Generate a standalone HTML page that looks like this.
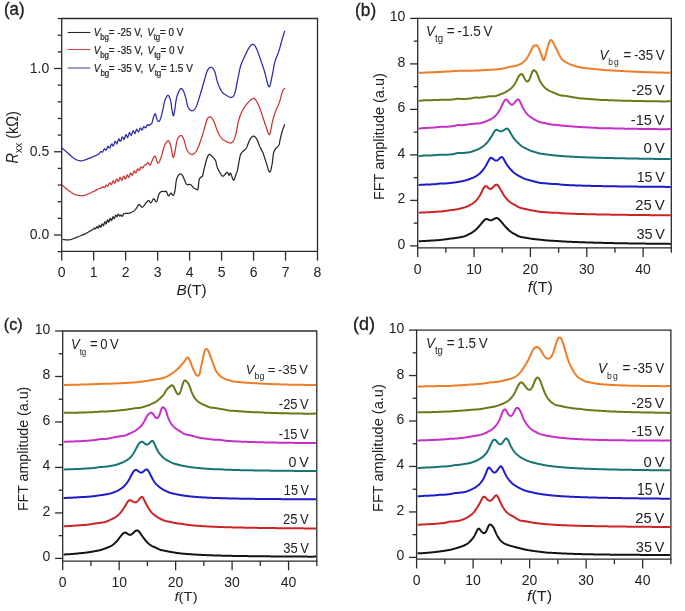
<!DOCTYPE html>
<html><head><meta charset="utf-8"><style>
html,body{margin:0;padding:0;background:#fff;}
svg{display:block;font-family:"Liberation Sans", sans-serif;fill:#1a1a1a;will-change:transform;}
text.pl{stroke:#111;stroke-width:0.3px;} text.lg{stroke:#222;stroke-width:0.2px;} text{fill:#222;}
</style></head><body>
<svg width="685" height="611" viewBox="0 0 685 611">
<rect width="685" height="611" fill="#fff"/>
<path d="M61.70,251.40 L61.70,18.50 L317.50,18.50 L317.50,251.40 Z" fill="none" stroke="#2b2b2b" stroke-width="1.3" stroke-linejoin="miter"/>
<line x1="57.70" y1="251.65" x2="61.70" y2="251.65" stroke="#2b2b2b" stroke-width="1.3"/>
<line x1="54.10" y1="235.00" x2="61.70" y2="235.00" stroke="#2b2b2b" stroke-width="1.3"/>
<line x1="57.70" y1="218.35" x2="61.70" y2="218.35" stroke="#2b2b2b" stroke-width="1.3"/>
<line x1="57.70" y1="201.70" x2="61.70" y2="201.70" stroke="#2b2b2b" stroke-width="1.3"/>
<line x1="57.70" y1="185.05" x2="61.70" y2="185.05" stroke="#2b2b2b" stroke-width="1.3"/>
<line x1="57.70" y1="168.40" x2="61.70" y2="168.40" stroke="#2b2b2b" stroke-width="1.3"/>
<line x1="54.10" y1="151.75" x2="61.70" y2="151.75" stroke="#2b2b2b" stroke-width="1.3"/>
<line x1="57.70" y1="135.10" x2="61.70" y2="135.10" stroke="#2b2b2b" stroke-width="1.3"/>
<line x1="57.70" y1="118.45" x2="61.70" y2="118.45" stroke="#2b2b2b" stroke-width="1.3"/>
<line x1="57.70" y1="101.80" x2="61.70" y2="101.80" stroke="#2b2b2b" stroke-width="1.3"/>
<line x1="57.70" y1="85.15" x2="61.70" y2="85.15" stroke="#2b2b2b" stroke-width="1.3"/>
<line x1="54.10" y1="68.50" x2="61.70" y2="68.50" stroke="#2b2b2b" stroke-width="1.3"/>
<line x1="57.70" y1="51.85" x2="61.70" y2="51.85" stroke="#2b2b2b" stroke-width="1.3"/>
<line x1="57.70" y1="35.20" x2="61.70" y2="35.20" stroke="#2b2b2b" stroke-width="1.3"/>
<line x1="57.70" y1="18.55" x2="61.70" y2="18.55" stroke="#2b2b2b" stroke-width="1.3"/>
<text x="49.30" y="239.00" font-size="14" text-anchor="end" >0.0</text>
<text x="49.30" y="155.75" font-size="14" text-anchor="end" >0.5</text>
<text x="49.30" y="72.50" font-size="14" text-anchor="end" >1.0</text>
<line x1="61.70" y1="251.40" x2="61.70" y2="260.60" stroke="#2b2b2b" stroke-width="1.3"/>
<text x="61.70" y="277.30" font-size="14" text-anchor="middle" >0</text>
<line x1="93.68" y1="251.40" x2="93.68" y2="260.60" stroke="#2b2b2b" stroke-width="1.3"/>
<text x="93.68" y="277.30" font-size="14" text-anchor="middle" >1</text>
<line x1="125.65" y1="251.40" x2="125.65" y2="260.60" stroke="#2b2b2b" stroke-width="1.3"/>
<text x="125.65" y="277.30" font-size="14" text-anchor="middle" >2</text>
<line x1="157.62" y1="251.40" x2="157.62" y2="260.60" stroke="#2b2b2b" stroke-width="1.3"/>
<text x="157.62" y="277.30" font-size="14" text-anchor="middle" >3</text>
<line x1="189.60" y1="251.40" x2="189.60" y2="260.60" stroke="#2b2b2b" stroke-width="1.3"/>
<text x="189.60" y="277.30" font-size="14" text-anchor="middle" >4</text>
<line x1="221.57" y1="251.40" x2="221.57" y2="260.60" stroke="#2b2b2b" stroke-width="1.3"/>
<text x="221.57" y="277.30" font-size="14" text-anchor="middle" >5</text>
<line x1="253.55" y1="251.40" x2="253.55" y2="260.60" stroke="#2b2b2b" stroke-width="1.3"/>
<text x="253.55" y="277.30" font-size="14" text-anchor="middle" >6</text>
<line x1="285.53" y1="251.40" x2="285.53" y2="260.60" stroke="#2b2b2b" stroke-width="1.3"/>
<text x="285.53" y="277.30" font-size="14" text-anchor="middle" >7</text>
<line x1="317.50" y1="251.40" x2="317.50" y2="260.60" stroke="#2b2b2b" stroke-width="1.3"/>
<text x="317.50" y="277.30" font-size="14" text-anchor="middle" >8</text>
<path d="M417.70,247.80 L417.70,18.40 L671.30,18.40 L671.30,247.80 Z" fill="none" stroke="#2b2b2b" stroke-width="1.3" stroke-linejoin="miter"/>
<line x1="410.10" y1="245.90" x2="417.70" y2="245.90" stroke="#2b2b2b" stroke-width="1.3"/>
<text x="405.40" y="248.90" font-size="14" text-anchor="end" >0</text>
<line x1="413.70" y1="223.15" x2="417.70" y2="223.15" stroke="#2b2b2b" stroke-width="1.3"/>
<line x1="410.10" y1="200.40" x2="417.70" y2="200.40" stroke="#2b2b2b" stroke-width="1.3"/>
<text x="405.40" y="203.40" font-size="14" text-anchor="end" >2</text>
<line x1="413.70" y1="177.65" x2="417.70" y2="177.65" stroke="#2b2b2b" stroke-width="1.3"/>
<line x1="410.10" y1="154.90" x2="417.70" y2="154.90" stroke="#2b2b2b" stroke-width="1.3"/>
<text x="405.40" y="157.90" font-size="14" text-anchor="end" >4</text>
<line x1="413.70" y1="132.15" x2="417.70" y2="132.15" stroke="#2b2b2b" stroke-width="1.3"/>
<line x1="410.10" y1="109.40" x2="417.70" y2="109.40" stroke="#2b2b2b" stroke-width="1.3"/>
<text x="405.40" y="112.40" font-size="14" text-anchor="end" >6</text>
<line x1="413.70" y1="86.65" x2="417.70" y2="86.65" stroke="#2b2b2b" stroke-width="1.3"/>
<line x1="410.10" y1="63.90" x2="417.70" y2="63.90" stroke="#2b2b2b" stroke-width="1.3"/>
<text x="405.40" y="66.90" font-size="14" text-anchor="end" >8</text>
<line x1="413.70" y1="41.15" x2="417.70" y2="41.15" stroke="#2b2b2b" stroke-width="1.3"/>
<line x1="410.10" y1="18.40" x2="417.70" y2="18.40" stroke="#2b2b2b" stroke-width="1.3"/>
<text x="405.40" y="21.40" font-size="14" text-anchor="end" >10</text>
<line x1="417.70" y1="247.80" x2="417.70" y2="257.00" stroke="#2b2b2b" stroke-width="1.3"/>
<text x="417.70" y="273.60" font-size="14" text-anchor="middle" >0</text>
<line x1="445.88" y1="247.80" x2="445.88" y2="252.80" stroke="#2b2b2b" stroke-width="1.3"/>
<line x1="474.06" y1="247.80" x2="474.06" y2="257.00" stroke="#2b2b2b" stroke-width="1.3"/>
<text x="474.06" y="273.60" font-size="14" text-anchor="middle" >10</text>
<line x1="502.23" y1="247.80" x2="502.23" y2="252.80" stroke="#2b2b2b" stroke-width="1.3"/>
<line x1="530.41" y1="247.80" x2="530.41" y2="257.00" stroke="#2b2b2b" stroke-width="1.3"/>
<text x="530.41" y="273.60" font-size="14" text-anchor="middle" >20</text>
<line x1="558.59" y1="247.80" x2="558.59" y2="252.80" stroke="#2b2b2b" stroke-width="1.3"/>
<line x1="586.77" y1="247.80" x2="586.77" y2="257.00" stroke="#2b2b2b" stroke-width="1.3"/>
<text x="586.77" y="273.60" font-size="14" text-anchor="middle" >30</text>
<line x1="614.94" y1="247.80" x2="614.94" y2="252.80" stroke="#2b2b2b" stroke-width="1.3"/>
<line x1="643.12" y1="247.80" x2="643.12" y2="257.00" stroke="#2b2b2b" stroke-width="1.3"/>
<text x="643.12" y="273.60" font-size="14" text-anchor="middle" >40</text>
<line x1="671.30" y1="247.80" x2="671.30" y2="252.80" stroke="#2b2b2b" stroke-width="1.3"/>
<path d="M62.70,561.10 L62.70,331.00 L316.80,331.00 L316.80,561.10 Z" fill="none" stroke="#2b2b2b" stroke-width="1.3" stroke-linejoin="miter"/>
<line x1="55.10" y1="558.40" x2="62.70" y2="558.40" stroke="#2b2b2b" stroke-width="1.3"/>
<text x="50.40" y="561.40" font-size="14" text-anchor="end" >0</text>
<line x1="58.70" y1="535.66" x2="62.70" y2="535.66" stroke="#2b2b2b" stroke-width="1.3"/>
<line x1="55.10" y1="512.92" x2="62.70" y2="512.92" stroke="#2b2b2b" stroke-width="1.3"/>
<text x="50.40" y="515.92" font-size="14" text-anchor="end" >2</text>
<line x1="58.70" y1="490.18" x2="62.70" y2="490.18" stroke="#2b2b2b" stroke-width="1.3"/>
<line x1="55.10" y1="467.44" x2="62.70" y2="467.44" stroke="#2b2b2b" stroke-width="1.3"/>
<text x="50.40" y="470.44" font-size="14" text-anchor="end" >4</text>
<line x1="58.70" y1="444.70" x2="62.70" y2="444.70" stroke="#2b2b2b" stroke-width="1.3"/>
<line x1="55.10" y1="421.96" x2="62.70" y2="421.96" stroke="#2b2b2b" stroke-width="1.3"/>
<text x="50.40" y="424.96" font-size="14" text-anchor="end" >6</text>
<line x1="58.70" y1="399.22" x2="62.70" y2="399.22" stroke="#2b2b2b" stroke-width="1.3"/>
<line x1="55.10" y1="376.48" x2="62.70" y2="376.48" stroke="#2b2b2b" stroke-width="1.3"/>
<text x="50.40" y="379.48" font-size="14" text-anchor="end" >8</text>
<line x1="58.70" y1="353.74" x2="62.70" y2="353.74" stroke="#2b2b2b" stroke-width="1.3"/>
<line x1="55.10" y1="331.00" x2="62.70" y2="331.00" stroke="#2b2b2b" stroke-width="1.3"/>
<text x="50.40" y="334.00" font-size="14" text-anchor="end" >10</text>
<line x1="62.70" y1="561.10" x2="62.70" y2="570.30" stroke="#2b2b2b" stroke-width="1.3"/>
<text x="62.70" y="586.90" font-size="14" text-anchor="middle" >0</text>
<line x1="90.93" y1="561.10" x2="90.93" y2="566.10" stroke="#2b2b2b" stroke-width="1.3"/>
<line x1="119.17" y1="561.10" x2="119.17" y2="570.30" stroke="#2b2b2b" stroke-width="1.3"/>
<text x="119.17" y="586.90" font-size="14" text-anchor="middle" >10</text>
<line x1="147.40" y1="561.10" x2="147.40" y2="566.10" stroke="#2b2b2b" stroke-width="1.3"/>
<line x1="175.63" y1="561.10" x2="175.63" y2="570.30" stroke="#2b2b2b" stroke-width="1.3"/>
<text x="175.63" y="586.90" font-size="14" text-anchor="middle" >20</text>
<line x1="203.87" y1="561.10" x2="203.87" y2="566.10" stroke="#2b2b2b" stroke-width="1.3"/>
<line x1="232.10" y1="561.10" x2="232.10" y2="570.30" stroke="#2b2b2b" stroke-width="1.3"/>
<text x="232.10" y="586.90" font-size="14" text-anchor="middle" >30</text>
<line x1="260.33" y1="561.10" x2="260.33" y2="566.10" stroke="#2b2b2b" stroke-width="1.3"/>
<line x1="288.57" y1="561.10" x2="288.57" y2="570.30" stroke="#2b2b2b" stroke-width="1.3"/>
<text x="288.57" y="586.90" font-size="14" text-anchor="middle" >40</text>
<line x1="316.80" y1="561.10" x2="316.80" y2="566.10" stroke="#2b2b2b" stroke-width="1.3"/>
<path d="M416.60,559.20 L416.60,330.10 L670.90,330.10 L670.90,559.20 Z" fill="none" stroke="#2b2b2b" stroke-width="1.3" stroke-linejoin="miter"/>
<line x1="409.00" y1="557.40" x2="416.60" y2="557.40" stroke="#2b2b2b" stroke-width="1.3"/>
<text x="404.30" y="560.40" font-size="14" text-anchor="end" >0</text>
<line x1="412.60" y1="534.67" x2="416.60" y2="534.67" stroke="#2b2b2b" stroke-width="1.3"/>
<line x1="409.00" y1="511.94" x2="416.60" y2="511.94" stroke="#2b2b2b" stroke-width="1.3"/>
<text x="404.30" y="514.94" font-size="14" text-anchor="end" >2</text>
<line x1="412.60" y1="489.21" x2="416.60" y2="489.21" stroke="#2b2b2b" stroke-width="1.3"/>
<line x1="409.00" y1="466.48" x2="416.60" y2="466.48" stroke="#2b2b2b" stroke-width="1.3"/>
<text x="404.30" y="469.48" font-size="14" text-anchor="end" >4</text>
<line x1="412.60" y1="443.75" x2="416.60" y2="443.75" stroke="#2b2b2b" stroke-width="1.3"/>
<line x1="409.00" y1="421.02" x2="416.60" y2="421.02" stroke="#2b2b2b" stroke-width="1.3"/>
<text x="404.30" y="424.02" font-size="14" text-anchor="end" >6</text>
<line x1="412.60" y1="398.29" x2="416.60" y2="398.29" stroke="#2b2b2b" stroke-width="1.3"/>
<line x1="409.00" y1="375.56" x2="416.60" y2="375.56" stroke="#2b2b2b" stroke-width="1.3"/>
<text x="404.30" y="378.56" font-size="14" text-anchor="end" >8</text>
<line x1="412.60" y1="352.83" x2="416.60" y2="352.83" stroke="#2b2b2b" stroke-width="1.3"/>
<line x1="409.00" y1="330.10" x2="416.60" y2="330.10" stroke="#2b2b2b" stroke-width="1.3"/>
<text x="404.30" y="333.10" font-size="14" text-anchor="end" >10</text>
<line x1="416.60" y1="559.20" x2="416.60" y2="568.40" stroke="#2b2b2b" stroke-width="1.3"/>
<text x="416.60" y="585.00" font-size="14" text-anchor="middle" >0</text>
<line x1="444.86" y1="559.20" x2="444.86" y2="564.20" stroke="#2b2b2b" stroke-width="1.3"/>
<line x1="473.11" y1="559.20" x2="473.11" y2="568.40" stroke="#2b2b2b" stroke-width="1.3"/>
<text x="473.11" y="585.00" font-size="14" text-anchor="middle" >10</text>
<line x1="501.37" y1="559.20" x2="501.37" y2="564.20" stroke="#2b2b2b" stroke-width="1.3"/>
<line x1="529.62" y1="559.20" x2="529.62" y2="568.40" stroke="#2b2b2b" stroke-width="1.3"/>
<text x="529.62" y="585.00" font-size="14" text-anchor="middle" >20</text>
<line x1="557.88" y1="559.20" x2="557.88" y2="564.20" stroke="#2b2b2b" stroke-width="1.3"/>
<line x1="586.13" y1="559.20" x2="586.13" y2="568.40" stroke="#2b2b2b" stroke-width="1.3"/>
<text x="586.13" y="585.00" font-size="14" text-anchor="middle" >30</text>
<line x1="614.39" y1="559.20" x2="614.39" y2="564.20" stroke="#2b2b2b" stroke-width="1.3"/>
<line x1="642.64" y1="559.20" x2="642.64" y2="568.40" stroke="#2b2b2b" stroke-width="1.3"/>
<text x="642.64" y="585.00" font-size="14" text-anchor="middle" >40</text>
<line x1="670.90" y1="559.20" x2="670.90" y2="564.20" stroke="#2b2b2b" stroke-width="1.3"/>
<path d="M62.50,239.40 L63.01,239.45 L63.68,239.54 L64.47,239.65 L65.36,239.76 L66.31,239.85 L67.28,239.90 L68.26,239.89 L69.20,239.80 L70.12,239.63 L71.06,239.39 L72.02,239.11 L72.99,238.78 L73.99,238.41 L75.01,238.02 L76.04,237.61 L77.10,237.20 L78.23,236.75 L79.44,236.25 L80.70,235.72 L81.96,235.17 L83.20,234.62 L84.36,234.10 L85.40,233.62 L86.30,233.20 L87.02,232.85 L87.60,232.55 L88.08,232.29 L88.48,232.05 L88.83,231.83 L89.18,231.60 L89.56,231.36 L90.00,231.10 L90.49,230.81 L90.98,230.50 L91.48,230.19 L91.98,229.87 L92.49,229.79 L92.99,229.54 L93.50,228.79 L94.00,228.10 L94.50,228.16 L95.00,228.74 L95.50,228.85 L96.00,227.97 L96.50,226.85 L97.00,226.68 L97.50,227.55 L98.00,228.21 L98.50,227.54 L99.00,226.03 L99.50,225.25 L99.99,225.97 L100.49,227.13 L100.99,227.04 L101.50,225.44 L102.00,223.93 L102.51,224.06 L103.02,225.35 L103.53,225.73 L104.05,224.19 L104.57,222.16 L105.08,221.74 L105.59,222.99 L106.10,223.86 L106.60,222.83 L107.11,220.76 L107.61,219.79 L108.11,220.72 L108.60,222.07 L109.10,221.86 L109.60,220.01 L110.10,218.39 L110.60,218.59 L111.10,220.00 L111.60,220.54 L112.10,219.22 L112.60,217.31 L113.10,216.74 L113.60,217.80 L114.10,218.81 L114.60,218.19 L115.10,216.36 L115.60,215.13 L116.10,215.52 L116.60,216.57 L117.10,216.63 L117.60,215.38 L118.10,214.13 L118.61,214.23 L119.14,215.47 L119.67,216.25 L120.20,215.80 L120.72,215.09 L121.21,215.19 L121.68,215.90 L122.10,216.37 L122.46,216.24 L122.75,215.77 L123.01,215.19 L123.24,214.63 L123.49,214.17 L123.76,213.87 L124.09,213.73 L124.50,213.50 L124.99,213.37 L125.55,213.31 L126.16,213.29 L126.80,213.30 L127.46,213.31 L128.12,213.29 L128.78,213.23 L129.40,213.10 L130.02,212.90 L130.66,212.65 L131.31,212.36 L131.96,212.05 L132.58,211.72 L133.17,211.38 L133.72,211.03 L134.20,210.70 L134.61,210.37 L134.97,210.04 L135.28,209.70 L135.55,209.36 L135.81,209.00 L136.06,208.64 L136.32,208.28 L136.60,207.90 L136.89,207.47 L137.18,206.97 L137.46,206.44 L137.74,205.91 L138.03,205.43 L138.34,205.02 L138.66,204.73 L139.00,204.60 L139.37,204.69 L139.76,204.99 L140.17,205.42 L140.59,205.93 L141.02,206.43 L141.45,206.86 L141.88,207.14 L142.30,207.20 L142.72,207.03 L143.15,206.68 L143.59,206.20 L144.03,205.64 L144.46,205.04 L144.88,204.44 L145.30,203.88 L145.70,203.40 L146.09,202.96 L146.47,202.49 L146.85,202.02 L147.22,201.57 L147.58,201.17 L147.93,200.84 L148.27,200.61 L148.60,200.50 L148.91,200.58 L149.21,200.86 L149.48,201.26 L149.76,201.72 L150.03,202.17 L150.30,202.55 L150.59,202.78 L150.90,202.80 L151.23,202.55 L151.56,202.08 L151.91,201.46 L152.26,200.76 L152.62,200.07 L152.98,199.46 L153.34,199.01 L153.70,198.80 L154.06,198.90 L154.43,199.28 L154.81,199.84 L155.18,200.47 L155.55,201.07 L155.91,201.54 L156.27,201.79 L156.60,201.70 L156.91,201.23 L157.20,200.45 L157.48,199.44 L157.75,198.31 L158.02,197.13 L158.30,195.99 L158.59,194.98 L158.90,194.20 L159.23,193.60 L159.59,193.10 L159.95,192.67 L160.32,192.31 L160.69,192.02 L161.07,191.77 L161.44,191.57 L161.80,191.40 L162.16,191.29 L162.53,191.27 L162.91,191.31 L163.28,191.39 L163.63,191.50 L163.98,191.59 L164.30,191.67 L164.60,191.70 L164.86,191.66 L165.09,191.55 L165.29,191.42 L165.48,191.28 L165.67,191.18 L165.86,191.14 L166.07,191.21 L166.30,191.40 L166.56,191.79 L166.83,192.38 L167.12,193.10 L167.41,193.86 L167.71,194.61 L168.01,195.26 L168.31,195.75 L168.60,196.00 L168.89,195.96 L169.17,195.68 L169.46,195.23 L169.75,194.69 L170.04,194.14 L170.32,193.64 L170.61,193.26 L170.90,193.10 L171.19,193.19 L171.49,193.47 L171.79,193.88 L172.09,194.36 L172.38,194.81 L172.67,195.19 L172.94,195.41 L173.20,195.40 L173.44,195.20 L173.67,194.89 L173.88,194.48 L174.09,193.96 L174.29,193.33 L174.49,192.59 L174.69,191.75 L174.90,190.80 L175.10,189.66 L175.30,188.28 L175.48,186.75 L175.68,185.14 L175.87,183.52 L176.09,181.97 L176.33,180.57 L176.60,179.40 L176.91,178.41 L177.24,177.52 L177.60,176.72 L177.97,176.02 L178.36,175.42 L178.75,174.91 L179.13,174.51 L179.50,174.20 L179.87,174.01 L180.24,173.94 L180.61,173.97 L180.99,174.10 L181.36,174.31 L181.72,174.59 L182.07,174.92 L182.40,175.30 L182.72,175.76 L183.02,176.34 L183.31,177.00 L183.59,177.72 L183.87,178.46 L184.15,179.19 L184.42,179.88 L184.70,180.50 L184.97,181.08 L185.23,181.68 L185.48,182.26 L185.72,182.82 L185.98,183.35 L186.26,183.81 L186.56,184.20 L186.90,184.50 L187.28,184.67 L187.69,184.70 L188.12,184.64 L188.58,184.53 L189.04,184.42 L189.50,184.35 L189.96,184.36 L190.40,184.50 L190.84,184.79 L191.28,185.19 L191.73,185.66 L192.18,186.18 L192.61,186.71 L193.03,187.21 L193.43,187.65 L193.80,188.00 L194.14,188.26 L194.46,188.47 L194.77,188.63 L195.05,188.76 L195.32,188.87 L195.59,188.95 L195.84,189.03 L196.10,189.10 L196.35,189.22 L196.60,189.41 L196.84,189.61 L197.07,189.78 L197.29,189.87 L197.50,189.84 L197.71,189.63 L197.90,189.20 L198.08,188.47 L198.23,187.45 L198.38,186.22 L198.51,184.89 L198.65,183.53 L198.79,182.23 L198.93,181.10 L199.10,180.20 L199.28,179.53 L199.47,179.01 L199.67,178.59 L199.87,178.26 L200.08,177.99 L200.28,177.76 L200.49,177.54 L200.70,177.30 L200.91,177.11 L201.12,177.01 L201.33,176.96 L201.55,176.93 L201.77,176.87 L201.98,176.74 L202.19,176.50 L202.40,176.10 L202.61,175.52 L202.82,174.79 L203.02,173.95 L203.23,173.03 L203.43,172.09 L203.63,171.16 L203.82,170.28 L204.00,169.50 L204.17,168.81 L204.33,168.16 L204.47,167.54 L204.62,166.94 L204.76,166.36 L204.90,165.79 L205.05,165.20 L205.20,164.60 L205.36,163.98 L205.51,163.36 L205.67,162.73 L205.82,162.10 L205.99,161.48 L206.15,160.87 L206.32,160.27 L206.50,159.70 L206.69,159.13 L206.88,158.55 L207.08,157.98 L207.28,157.42 L207.49,156.89 L207.69,156.40 L207.90,155.97 L208.10,155.60 L208.29,155.29 L208.48,155.02 L208.66,154.79 L208.84,154.61 L209.03,154.48 L209.24,154.40 L209.46,154.37 L209.70,154.40 L209.96,154.49 L210.24,154.65 L210.54,154.86 L210.84,155.13 L211.16,155.43 L211.50,155.76 L211.84,156.12 L212.20,156.50 L212.59,156.90 L213.02,157.34 L213.47,157.82 L213.93,158.32 L214.38,158.84 L214.80,159.39 L215.18,159.94 L215.50,160.50 L215.75,161.08 L215.93,161.68 L216.07,162.31 L216.18,162.94 L216.28,163.59 L216.39,164.23 L216.53,164.87 L216.70,165.50 L216.90,166.11 L217.10,166.71 L217.32,167.31 L217.54,167.91 L217.79,168.51 L218.06,169.12 L218.36,169.75 L218.70,170.40 L219.09,171.12 L219.53,171.94 L220.02,172.80 L220.52,173.66 L221.03,174.46 L221.52,175.17 L221.98,175.73 L222.40,176.10 L222.77,176.25 L223.11,176.22 L223.43,176.06 L223.73,175.79 L224.02,175.46 L224.31,175.11 L224.60,174.77 L224.90,174.50 L225.21,174.23 L225.52,173.89 L225.84,173.53 L226.15,173.17 L226.46,172.84 L226.75,172.59 L227.03,172.43 L227.30,172.40 L227.55,172.56 L227.78,172.89 L227.99,173.34 L228.20,173.85 L228.40,174.36 L228.60,174.81 L228.80,175.14 L229.00,175.30 L229.20,175.21 L229.38,174.91 L229.55,174.48 L229.72,173.99 L229.91,173.54 L230.11,173.20 L230.34,173.06 L230.60,173.20 L230.90,173.73 L231.25,174.61 L231.61,175.72 L232.00,176.92 L232.39,178.11 L232.78,179.13 L233.15,179.87 L233.50,180.20 L233.83,180.09 L234.15,179.65 L234.47,178.96 L234.77,178.10 L235.07,177.14 L235.36,176.17 L235.64,175.27 L235.90,174.50 L236.15,173.87 L236.38,173.29 L236.59,172.75 L236.80,172.21 L237.00,171.64 L237.20,171.01 L237.40,170.31 L237.60,169.50 L237.80,168.55 L238.01,167.47 L238.21,166.31 L238.41,165.09 L238.60,163.87 L238.80,162.67 L239.00,161.53 L239.20,160.50 L239.39,159.55 L239.56,158.63 L239.73,157.76 L239.89,156.92 L240.08,156.12 L240.28,155.37 L240.52,154.66 L240.80,154.00 L241.14,153.40 L241.53,152.85 L241.95,152.36 L242.40,151.91 L242.85,151.48 L243.30,151.08 L243.72,150.69 L244.10,150.30 L244.44,149.95 L244.76,149.66 L245.06,149.41 L245.34,149.17 L245.62,148.90 L245.91,148.59 L246.20,148.20 L246.50,147.70 L246.82,147.06 L247.15,146.30 L247.48,145.46 L247.81,144.57 L248.15,143.67 L248.47,142.80 L248.79,142.00 L249.10,141.30 L249.39,140.69 L249.67,140.13 L249.94,139.61 L250.20,139.14 L250.46,138.70 L250.73,138.30 L251.01,137.93 L251.30,137.60 L251.60,137.28 L251.91,136.97 L252.22,136.69 L252.54,136.45 L252.86,136.27 L253.20,136.15 L253.54,136.12 L253.90,136.20 L254.27,136.38 L254.67,136.65 L255.08,137.00 L255.49,137.43 L255.91,137.92 L256.32,138.47 L256.72,139.07 L257.10,139.70 L257.46,140.40 L257.80,141.20 L258.13,142.06 L258.45,142.97 L258.77,143.90 L259.10,144.83 L259.44,145.74 L259.80,146.60 L260.18,147.40 L260.56,148.16 L260.96,148.90 L261.37,149.63 L261.78,150.39 L262.19,151.19 L262.60,152.05 L263.00,153.00 L263.40,154.05 L263.80,155.18 L264.19,156.37 L264.59,157.61 L264.99,158.87 L265.39,160.13 L265.79,161.38 L266.20,162.60 L266.62,163.91 L267.06,165.38 L267.50,166.91 L267.95,168.41 L268.39,169.78 L268.82,170.92 L269.22,171.72 L269.60,172.10 L269.95,172.01 L270.29,171.54 L270.61,170.75 L270.91,169.73 L271.20,168.53 L271.48,167.25 L271.75,165.95 L272.00,164.70 L272.23,163.39 L272.44,161.90 L272.64,160.30 L272.82,158.66 L273.00,157.03 L273.18,155.51 L273.38,154.14 L273.60,153.00 L273.83,152.10 L274.06,151.39 L274.30,150.82 L274.55,150.35 L274.81,149.94 L275.09,149.56 L275.38,149.16 L275.70,148.70 L276.06,148.22 L276.47,147.76 L276.91,147.32 L277.36,146.88 L277.81,146.44 L278.22,145.99 L278.59,145.51 L278.90,145.00 L279.13,144.48 L279.30,143.96 L279.42,143.44 L279.52,142.90 L279.61,142.32 L279.70,141.69 L279.83,140.98 L280.00,140.20 L280.21,139.31 L280.44,138.31 L280.69,137.24 L280.95,136.11 L281.22,134.97 L281.51,133.83 L281.80,132.74 L282.10,131.70 L282.43,130.67 L282.80,129.60 L283.19,128.52 L283.58,127.47 L283.96,126.48 L284.30,125.60 L284.59,124.86 L284.80,124.30" fill="none" stroke="#262626" stroke-width="1.25" stroke-linejoin="round"/>
<path d="M62.00,184.80 L62.29,185.08 L62.65,185.43 L63.07,185.85 L63.56,186.33 L64.10,186.85 L64.69,187.39 L65.32,187.95 L66.00,188.50 L66.74,189.09 L67.57,189.75 L68.46,190.45 L69.39,191.16 L70.35,191.85 L71.29,192.51 L72.22,193.10 L73.10,193.60 L73.95,194.01 L74.79,194.37 L75.63,194.68 L76.46,194.94 L77.27,195.16 L78.07,195.34 L78.84,195.49 L79.60,195.60 L80.31,195.69 L80.97,195.74 L81.60,195.76 L82.21,195.74 L82.84,195.68 L83.50,195.57 L84.21,195.41 L85.00,195.20 L85.87,194.92 L86.82,194.57 L87.81,194.15 L88.84,193.70 L89.89,193.22 L90.92,192.73 L91.93,192.26 L92.90,191.80 L93.84,191.35 L94.78,190.87 L95.71,190.38 L96.63,189.89 L97.53,189.41 L98.39,188.96 L99.22,188.56 L100.00,188.20 L100.73,188.21 L101.40,187.95 L102.03,187.23 L102.63,186.68 L103.22,186.83 L103.80,187.45 L104.39,187.73 L105.00,187.02 L105.62,185.67 L106.25,184.93 L106.88,185.40 L107.50,186.25 L108.12,186.08 L108.75,184.58 L109.38,183.00 L110.00,182.80 L110.62,183.91 L111.25,184.74 L111.88,183.94 L112.50,182.00 L113.12,180.78 L113.75,181.38 L114.38,182.84 L115.00,183.16 L115.62,181.58 L116.25,179.51 L116.88,178.97 L117.50,180.25 L118.12,181.58 L118.75,181.08 L119.38,178.95 L120.00,177.29 L120.62,177.70 L121.25,179.48 L121.88,180.37 L122.50,179.12 L123.12,176.94 L123.75,176.09 L124.38,177.31 L125.00,178.98 L125.62,178.95 L126.25,176.97 L126.88,175.00 L127.50,174.94 L128.12,176.51 L128.75,177.57 L129.38,176.58 L130.00,174.31 L130.62,172.95 L131.25,173.59 L131.88,175.04 L132.50,175.22 L133.12,173.51 L133.75,171.41 L134.38,170.83 L135.00,171.90 L135.63,172.92 L136.27,172.28 L136.91,170.31 L137.54,168.90 L138.18,169.17 L138.80,170.24 L139.41,170.47 L140.00,169.34 L140.58,167.77 L141.14,166.94 L141.70,167.19 L142.24,167.85 L142.78,168.04 L143.30,167.40 L143.81,166.29 L144.30,165.33 L144.78,164.86 L145.26,164.79 L145.72,164.78 L146.17,164.52 L146.60,163.96 L147.02,163.28 L147.42,162.76 L147.80,162.58 L148.15,162.79 L148.47,163.10 L148.77,163.56 L149.06,164.08 L149.33,164.57 L149.61,164.96 L149.90,165.17 L150.20,165.10 L150.52,164.72 L150.84,164.10 L151.17,163.29 L151.50,162.37 L151.83,161.42 L152.16,160.49 L152.48,159.66 L152.80,159.00 L153.11,158.44 L153.43,157.89 L153.75,157.37 L154.06,156.91 L154.36,156.54 L154.65,156.28 L154.93,156.16 L155.20,156.20 L155.45,156.46 L155.67,156.95 L155.89,157.61 L156.09,158.36 L156.29,159.14 L156.49,159.91 L156.69,160.58 L156.90,161.10 L157.10,161.54 L157.30,161.99 L157.48,162.42 L157.68,162.79 L157.87,163.07 L158.09,163.22 L158.33,163.21 L158.60,163.00 L158.90,162.57 L159.24,161.95 L159.60,161.17 L159.97,160.26 L160.35,159.25 L160.74,158.18 L161.12,157.09 L161.50,156.00 L161.87,154.84 L162.23,153.56 L162.59,152.19 L162.96,150.78 L163.33,149.39 L163.71,148.07 L164.10,146.85 L164.50,145.80 L164.93,144.85 L165.38,143.93 L165.85,143.07 L166.33,142.29 L166.80,141.64 L167.26,141.14 L167.69,140.81 L168.10,140.70 L168.47,140.80 L168.82,141.10 L169.15,141.58 L169.47,142.20 L169.78,142.96 L170.08,143.82 L170.39,144.78 L170.70,145.80 L171.02,147.08 L171.34,148.71 L171.66,150.55 L171.98,152.44 L172.30,154.24 L172.61,155.78 L172.91,156.92 L173.20,157.50 L173.48,157.49 L173.76,157.02 L174.02,156.18 L174.28,155.08 L174.54,153.80 L174.79,152.44 L175.05,151.11 L175.30,149.90 L175.54,148.70 L175.77,147.37 L175.99,145.96 L176.21,144.53 L176.44,143.13 L176.69,141.80 L176.97,140.61 L177.30,139.60 L177.68,138.73 L178.10,137.95 L178.56,137.25 L179.04,136.65 L179.52,136.16 L180.00,135.80 L180.47,135.58 L180.90,135.50 L181.30,135.58 L181.69,135.80 L182.06,136.16 L182.43,136.65 L182.79,137.25 L183.16,137.95 L183.52,138.73 L183.90,139.60 L184.27,140.63 L184.63,141.87 L184.99,143.26 L185.35,144.72 L185.72,146.18 L186.12,147.58 L186.54,148.84 L187.00,149.90 L187.51,150.80 L188.06,151.62 L188.64,152.36 L189.24,153.01 L189.85,153.55 L190.45,153.99 L191.04,154.31 L191.60,154.50 L192.14,154.54 L192.68,154.44 L193.22,154.21 L193.74,153.87 L194.26,153.45 L194.76,152.96 L195.24,152.44 L195.70,151.90 L196.13,151.33 L196.54,150.72 L196.92,150.05 L197.29,149.33 L197.65,148.55 L198.02,147.70 L198.40,146.79 L198.80,145.80 L199.22,144.71 L199.66,143.51 L200.11,142.23 L200.56,140.89 L201.01,139.52 L201.46,138.15 L201.89,136.80 L202.30,135.50 L202.70,134.22 L203.08,132.93 L203.46,131.64 L203.82,130.35 L204.18,129.09 L204.53,127.87 L204.87,126.70 L205.20,125.60 L205.51,124.54 L205.80,123.50 L206.07,122.49 L206.34,121.53 L206.61,120.63 L206.88,119.82 L207.18,119.10 L207.50,118.50 L207.85,118.01 L208.22,117.60 L208.60,117.29 L209.00,117.06 L209.40,116.91 L209.81,116.86 L210.21,116.89 L210.60,117.00 L210.98,117.20 L211.36,117.47 L211.74,117.84 L212.11,118.29 L212.49,118.83 L212.88,119.46 L213.28,120.18 L213.70,121.00 L214.13,121.98 L214.58,123.13 L215.04,124.42 L215.51,125.78 L215.99,127.16 L216.46,128.50 L216.93,129.77 L217.40,130.90 L217.85,131.92 L218.29,132.89 L218.73,133.81 L219.17,134.69 L219.62,135.51 L220.08,136.29 L220.58,137.02 L221.10,137.70 L221.66,138.33 L222.24,138.90 L222.85,139.42 L223.48,139.89 L224.12,140.32 L224.78,140.72 L225.44,141.07 L226.10,141.40 L226.78,141.73 L227.50,142.09 L228.24,142.42 L228.98,142.71 L229.71,142.92 L230.42,143.01 L231.09,142.95 L231.70,142.70 L232.26,142.28 L232.77,141.74 L233.25,141.06 L233.71,140.26 L234.14,139.33 L234.56,138.27 L234.98,137.10 L235.40,135.80 L235.81,134.30 L236.20,132.54 L236.58,130.62 L236.95,128.59 L237.32,126.55 L237.70,124.55 L238.09,122.67 L238.50,121.00 L238.92,119.50 L239.35,118.10 L239.79,116.78 L240.23,115.54 L240.69,114.35 L241.17,113.20 L241.67,112.09 L242.20,111.00 L242.75,109.94 L243.33,108.92 L243.93,107.94 L244.54,107.00 L245.18,106.10 L245.84,105.23 L246.51,104.40 L247.20,103.60 L247.93,102.78 L248.72,101.93 L249.55,101.09 L250.38,100.29 L251.21,99.59 L252.00,99.01 L252.74,98.60 L253.40,98.40 L253.98,98.42 L254.50,98.62 L254.97,98.99 L255.41,99.48 L255.82,100.09 L256.23,100.77 L256.65,101.52 L257.10,102.30 L257.55,103.12 L257.99,103.99 L258.43,104.94 L258.87,105.96 L259.32,107.07 L259.78,108.28 L260.28,109.58 L260.80,111.00 L261.37,112.61 L261.99,114.43 L262.64,116.41 L263.30,118.45 L263.96,120.49 L264.61,122.47 L265.23,124.29 L265.80,125.90 L266.33,127.44 L266.83,129.03 L267.31,130.60 L267.77,132.03 L268.21,133.24 L268.65,134.14 L269.08,134.62 L269.50,134.60 L269.92,133.94 L270.32,132.68 L270.71,130.98 L271.09,128.97 L271.46,126.82 L271.84,124.67 L272.22,122.68 L272.60,121.00 L272.98,119.57 L273.36,118.22 L273.74,116.93 L274.11,115.69 L274.49,114.50 L274.88,113.32 L275.28,112.16 L275.70,111.00 L276.14,109.87 L276.59,108.79 L277.07,107.75 L277.54,106.72 L278.02,105.68 L278.50,104.61 L278.96,103.49 L279.40,102.30 L279.83,100.97 L280.25,99.51 L280.67,97.96 L281.08,96.40 L281.48,94.88 L281.87,93.47 L282.24,92.22 L282.60,91.20 L282.95,90.41 L283.31,89.79 L283.66,89.32 L284.00,88.96 L284.31,88.68 L284.59,88.47 L284.82,88.28 L285.00,88.10" fill="none" stroke="#cc3333" stroke-width="1.25" stroke-linejoin="round"/>
<path d="M62.00,148.10 L62.23,148.29 L62.52,148.53 L62.87,148.82 L63.26,149.14 L63.68,149.49 L64.12,149.86 L64.57,150.23 L65.00,150.60 L65.42,150.96 L65.85,151.33 L66.28,151.71 L66.73,152.10 L67.19,152.51 L67.69,152.94 L68.22,153.41 L68.80,153.90 L69.42,154.46 L70.09,155.08 L70.79,155.75 L71.52,156.43 L72.28,157.10 L73.05,157.74 L73.82,158.32 L74.60,158.80 L75.38,159.22 L76.16,159.61 L76.95,159.96 L77.76,160.26 L78.59,160.51 L79.43,160.68 L80.30,160.79 L81.20,160.80 L82.14,160.71 L83.12,160.51 L84.13,160.22 L85.16,159.87 L86.19,159.48 L87.22,159.07 L88.22,158.67 L89.20,158.30 L90.17,157.94 L91.16,157.55 L92.16,157.15 L93.13,156.74 L94.07,156.34 L94.96,155.94 L95.77,155.56 L96.50,155.20 L97.12,154.87 L97.64,154.55 L98.08,154.26 L98.47,154.15 L98.83,154.04 L99.19,153.78 L99.57,153.30 L100.00,152.59 L100.44,151.88 L100.87,151.49 L101.30,151.51 L101.73,151.84 L102.19,152.15 L102.67,151.98 L103.21,151.03 L103.80,149.56 L104.45,148.72 L105.14,149.34 L105.87,150.29 L106.64,149.42 L107.44,147.05 L108.27,146.33 L109.12,147.93 L110.00,147.98 L110.92,144.98 L111.88,143.83 L112.88,145.99 L113.91,144.85 L114.94,141.29 L115.98,142.44 L117.00,143.88 L118.00,140.48 L118.98,138.71 L119.96,141.24 L120.93,140.99 L121.89,137.16 L122.85,137.01 L123.81,139.61 L124.76,138.04 L125.70,134.54 L126.63,135.44 L127.56,137.65 L128.48,135.46 L129.39,132.39 L130.30,133.64 L131.21,135.58 L132.10,133.39 L133.00,130.60 L133.90,131.84 L134.82,133.70 L135.73,131.59 L136.64,129.15 L137.53,130.43 L138.40,132.00 L139.22,130.45 L140.00,128.19 L140.73,128.13 L141.44,129.55 L142.10,130.10 L142.74,128.94 L143.35,127.27 L143.93,126.48 L144.48,126.83 L145.00,127.60 L145.48,127.96 L145.90,127.66 L146.28,126.94 L146.64,126.08 L146.99,125.32 L147.34,124.82 L147.71,124.66 L148.10,124.82 L148.53,125.16 L148.99,125.38 L149.47,125.23 L149.94,124.79 L150.41,124.35 L150.85,124.13 L151.25,123.97 L151.60,123.60 L151.89,123.11 L152.12,122.52 L152.32,121.85 L152.49,121.14 L152.65,120.40 L152.82,119.66 L152.99,118.95 L153.20,118.30 L153.43,117.63 L153.68,116.87 L153.94,116.10 L154.20,115.35 L154.46,114.68 L154.72,114.15 L154.97,113.81 L155.20,113.70 L155.42,113.89 L155.63,114.35 L155.83,115.01 L156.03,115.80 L156.22,116.64 L156.42,117.47 L156.61,118.22 L156.80,118.80 L156.99,119.28 L157.17,119.74 L157.35,120.16 L157.53,120.55 L157.71,120.88 L157.89,121.14 L158.09,121.32 L158.30,121.40 L158.52,121.41 L158.75,121.38 L158.99,121.29 L159.23,121.12 L159.48,120.85 L159.75,120.47 L160.02,119.96 L160.30,119.30 L160.60,118.45 L160.92,117.40 L161.26,116.20 L161.60,114.89 L161.94,113.53 L162.28,112.17 L162.60,110.84 L162.90,109.60 L163.17,108.40 L163.42,107.17 L163.65,105.93 L163.87,104.71 L164.10,103.53 L164.34,102.40 L164.60,101.35 L164.90,100.40 L165.24,99.50 L165.61,98.60 L166.01,97.74 L166.42,96.96 L166.83,96.29 L167.24,95.76 L167.63,95.42 L168.00,95.30 L168.35,95.41 L168.69,95.74 L169.02,96.24 L169.34,96.89 L169.65,97.66 L169.95,98.52 L170.23,99.44 L170.50,100.40 L170.75,101.47 L170.97,102.73 L171.18,104.11 L171.38,105.55 L171.56,106.99 L171.74,108.37 L171.92,109.63 L172.10,110.70 L172.28,111.66 L172.45,112.58 L172.61,113.44 L172.77,114.21 L172.93,114.86 L173.09,115.36 L173.24,115.69 L173.40,115.80 L173.55,115.71 L173.69,115.43 L173.82,114.99 L173.95,114.40 L174.09,113.66 L174.24,112.79 L174.41,111.80 L174.60,110.70 L174.81,109.40 L175.03,107.84 L175.26,106.10 L175.50,104.26 L175.76,102.39 L176.05,100.57 L176.36,98.88 L176.70,97.40 L177.08,96.05 L177.51,94.72 L177.97,93.45 L178.44,92.26 L178.93,91.19 L179.41,90.27 L179.87,89.53 L180.30,89.00 L180.71,88.69 L181.10,88.57 L181.49,88.63 L181.86,88.84 L182.23,89.18 L182.59,89.62 L182.95,90.13 L183.30,90.70 L183.65,91.37 L183.99,92.19 L184.33,93.13 L184.66,94.14 L184.99,95.21 L185.30,96.30 L185.61,97.37 L185.90,98.40 L186.17,99.43 L186.40,100.51 L186.62,101.62 L186.84,102.72 L187.06,103.80 L187.30,104.83 L187.58,105.77 L187.90,106.60 L188.27,107.35 L188.69,108.06 L189.13,108.71 L189.60,109.29 L190.08,109.80 L190.56,110.21 L191.04,110.51 L191.50,110.70 L191.95,110.77 L192.41,110.73 L192.88,110.59 L193.34,110.35 L193.79,110.03 L194.24,109.62 L194.68,109.14 L195.10,108.60 L195.50,107.97 L195.89,107.25 L196.26,106.44 L196.63,105.56 L196.99,104.62 L197.36,103.62 L197.72,102.57 L198.10,101.50 L198.48,100.36 L198.87,99.14 L199.26,97.85 L199.66,96.53 L200.05,95.17 L200.44,93.82 L200.82,92.49 L201.20,91.20 L201.57,89.95 L201.93,88.71 L202.29,87.48 L202.65,86.25 L203.01,85.02 L203.37,83.79 L203.73,82.55 L204.10,81.30 L204.47,79.99 L204.85,78.60 L205.23,77.18 L205.61,75.76 L205.99,74.40 L206.39,73.12 L206.79,71.97 L207.20,71.00 L207.63,70.17 L208.06,69.44 L208.51,68.80 L208.96,68.27 L209.42,67.86 L209.88,67.55 L210.34,67.36 L210.80,67.30 L211.26,67.35 L211.73,67.51 L212.20,67.79 L212.68,68.18 L213.14,68.69 L213.61,69.33 L214.06,70.10 L214.50,71.00 L214.92,72.11 L215.32,73.46 L215.70,74.97 L216.08,76.59 L216.46,78.25 L216.86,79.89 L217.27,81.42 L217.70,82.80 L218.16,84.06 L218.63,85.29 L219.12,86.47 L219.61,87.59 L220.12,88.66 L220.64,89.66 L221.17,90.57 L221.70,91.40 L222.24,92.13 L222.79,92.75 L223.35,93.29 L223.93,93.76 L224.50,94.18 L225.09,94.57 L225.69,94.94 L226.30,95.30 L226.93,95.68 L227.60,96.07 L228.29,96.45 L228.98,96.79 L229.66,97.07 L230.32,97.27 L230.94,97.35 L231.50,97.30 L232.00,97.17 L232.46,97.00 L232.88,96.75 L233.27,96.41 L233.65,95.92 L234.02,95.26 L234.40,94.40 L234.80,93.30 L235.22,91.87 L235.64,90.11 L236.07,88.10 L236.49,85.94 L236.91,83.72 L237.32,81.53 L237.72,79.46 L238.10,77.60 L238.45,75.91 L238.77,74.29 L239.06,72.74 L239.36,71.24 L239.65,69.80 L239.97,68.40 L240.31,67.03 L240.70,65.70 L241.13,64.42 L241.59,63.21 L242.07,62.05 L242.57,60.93 L243.09,59.83 L243.62,58.74 L244.16,57.63 L244.70,56.50 L245.25,55.31 L245.82,54.05 L246.41,52.77 L247.01,51.51 L247.60,50.29 L248.19,49.16 L248.75,48.15 L249.30,47.30 L249.83,46.59 L250.34,45.97 L250.84,45.44 L251.33,45.01 L251.81,44.69 L252.28,44.48 L252.75,44.38 L253.20,44.40 L253.64,44.54 L254.05,44.80 L254.46,45.17 L254.85,45.66 L255.24,46.24 L255.65,46.93 L256.06,47.72 L256.50,48.60 L256.96,49.61 L257.43,50.77 L257.91,52.05 L258.41,53.42 L258.90,54.86 L259.40,56.32 L259.90,57.77 L260.40,59.20 L260.89,60.59 L261.38,61.97 L261.87,63.36 L262.36,64.77 L262.85,66.23 L263.36,67.74 L263.87,69.33 L264.40,71.00 L264.96,72.97 L265.54,75.32 L266.14,77.85 L266.74,80.38 L267.34,82.73 L267.93,84.70 L268.48,86.12 L269.00,86.80 L269.48,86.65 L269.93,85.80 L270.36,84.42 L270.77,82.66 L271.17,80.67 L271.55,78.61 L271.93,76.63 L272.30,74.90 L272.65,73.30 L272.97,71.65 L273.27,69.96 L273.56,68.26 L273.86,66.57 L274.18,64.92 L274.52,63.32 L274.90,61.80 L275.33,60.37 L275.80,59.02 L276.29,57.73 L276.81,56.47 L277.32,55.22 L277.84,53.96 L278.33,52.66 L278.80,51.30 L279.25,49.87 L279.68,48.37 L280.11,46.83 L280.53,45.28 L280.94,43.75 L281.34,42.26 L281.73,40.83 L282.10,39.50 L282.48,38.21 L282.86,36.92 L283.24,35.66 L283.61,34.46 L283.95,33.35 L284.25,32.37 L284.50,31.54 L284.70,30.90" fill="none" stroke="#2a2aa8" stroke-width="1.25" stroke-linejoin="round"/>
<line x1="67.70" y1="32.50" x2="90.30" y2="32.50" stroke="#262626" stroke-width="1.1"/>
<line x1="67.70" y1="49.50" x2="90.30" y2="49.50" stroke="#c44848" stroke-width="1.1"/>
<line x1="67.70" y1="68.00" x2="90.30" y2="68.00" stroke="#4a4aa8" stroke-width="1.1"/>
<path d="M418.70,241.28 L419.20,241.26 L419.70,241.23 L420.20,241.21 L420.70,241.19 L421.20,241.17 L421.70,241.14 L422.20,241.12 L422.70,241.09 L423.20,241.07 L423.70,241.04 L424.20,241.01 L424.70,240.98 L425.20,240.95 L425.70,240.92 L426.20,240.89 L426.70,240.86 L427.20,240.83 L427.70,240.79 L428.20,240.76 L428.70,240.73 L429.20,240.70 L429.70,240.66 L430.20,240.63 L430.70,240.60 L431.20,240.57 L431.70,240.53 L432.20,240.51 L432.70,240.48 L433.20,240.45 L433.70,240.43 L434.20,240.41 L434.70,240.39 L435.20,240.37 L435.70,240.35 L436.20,240.33 L436.70,240.30 L437.20,240.27 L437.70,240.23 L438.20,240.18 L438.70,240.12 L439.20,240.06 L439.70,240.00 L440.20,239.94 L440.70,239.88 L441.20,239.82 L441.70,239.76 L442.20,239.70 L442.70,239.64 L443.20,239.59 L443.70,239.53 L444.20,239.47 L444.70,239.42 L445.20,239.35 L445.70,239.29 L446.20,239.22 L446.70,239.15 L447.20,239.07 L447.70,238.99 L448.20,238.91 L448.70,238.84 L449.20,238.76 L449.70,238.69 L450.20,238.63 L450.70,238.57 L451.20,238.52 L451.70,238.47 L452.20,238.43 L452.70,238.38 L453.20,238.33 L453.70,238.28 L454.20,238.22 L454.70,238.15 L455.20,238.09 L455.70,238.01 L456.20,237.94 L456.70,237.86 L457.20,237.77 L457.70,237.69 L458.20,237.61 L458.70,237.52 L459.20,237.43 L459.70,237.35 L460.20,237.26 L460.70,237.17 L461.20,237.08 L461.70,236.99 L462.20,236.89 L462.70,236.78 L463.20,236.66 L463.70,236.52 L464.20,236.36 L464.70,236.19 L465.20,236.00 L465.70,235.79 L466.20,235.58 L466.70,235.35 L467.20,235.12 L467.70,234.88 L468.20,234.63 L468.70,234.38 L469.20,234.13 L469.70,233.87 L470.20,233.60 L470.70,233.32 L471.20,233.03 L471.70,232.74 L472.20,232.43 L472.70,232.10 L473.20,231.77 L473.70,231.41 L474.20,231.04 L474.70,230.65 L475.20,230.23 L475.70,229.80 L476.20,229.34 L476.70,228.86 L477.20,228.36 L477.70,227.84 L478.20,227.31 L478.70,226.76 L479.20,226.20 L479.70,225.62 L480.20,225.04 L480.70,224.44 L481.20,223.83 L481.70,223.21 L482.20,222.58 L482.70,221.96 L483.20,221.34 L483.70,220.74 L484.20,220.20 L484.70,219.73 L485.20,219.40 L485.70,219.20 L486.20,219.10 L486.70,219.10 L487.20,219.19 L487.70,219.34 L488.20,219.54 L488.70,219.75 L489.20,219.95 L489.70,220.11 L490.20,220.21 L490.70,220.24 L491.20,220.19 L491.70,220.07 L492.20,219.88 L492.70,219.63 L493.20,219.36 L493.70,219.07 L494.20,218.79 L494.70,218.53 L495.20,218.32 L495.70,218.17 L496.20,218.09 L496.70,218.08 L497.20,218.16 L497.70,218.32 L498.20,218.59 L498.70,218.97 L499.20,219.44 L499.70,219.95 L500.20,220.50 L500.70,221.08 L501.20,221.67 L501.70,222.27 L502.20,222.88 L502.70,223.49 L503.20,224.09 L503.70,224.69 L504.20,225.28 L504.70,225.85 L505.20,226.41 L505.70,226.95 L506.20,227.49 L506.70,228.02 L507.20,228.53 L507.70,229.04 L508.20,229.53 L508.70,230.00 L509.20,230.45 L509.70,230.88 L510.20,231.28 L510.70,231.65 L511.20,232.01 L511.70,232.35 L512.20,232.67 L512.70,232.98 L513.20,233.28 L513.70,233.57 L514.20,233.86 L514.70,234.14 L515.20,234.42 L515.70,234.70 L516.20,234.98 L516.70,235.25 L517.20,235.52 L517.70,235.78 L518.20,236.03 L518.70,236.26 L519.20,236.47 L519.70,236.66 L520.20,236.82 L520.70,236.95 L521.20,237.06 L521.70,237.16 L522.20,237.24 L522.70,237.31 L523.20,237.38 L523.70,237.45 L524.20,237.52 L524.70,237.60 L525.20,237.68 L525.70,237.77 L526.20,237.86 L526.70,237.95 L527.20,238.04 L527.70,238.13 L528.20,238.21 L528.70,238.30 L529.20,238.38 L529.70,238.47 L530.20,238.55 L530.70,238.62 L531.20,238.70 L531.70,238.77 L532.20,238.85 L532.70,238.92 L533.20,238.98 L533.70,239.05 L534.20,239.11 L534.70,239.17 L535.20,239.22 L535.70,239.28 L536.20,239.32 L536.70,239.37 L537.20,239.41 L537.70,239.46 L538.20,239.50 L538.70,239.55 L539.20,239.59 L539.70,239.64 L540.20,239.70 L540.70,239.75 L541.20,239.81 L541.70,239.87 L542.20,239.93 L542.70,239.99 L543.20,240.05 L543.70,240.11 L544.20,240.16 L544.70,240.21 L545.20,240.25 L545.70,240.30 L546.20,240.34 L546.70,240.38 L547.20,240.43 L547.70,240.46 L548.20,240.50 L548.70,240.54 L549.20,240.58 L549.70,240.62 L550.20,240.65 L550.70,240.69 L551.20,240.72 L551.70,240.75 L552.20,240.78 L552.70,240.81 L553.20,240.84 L553.70,240.86 L554.20,240.89 L554.70,240.91 L555.20,240.93 L555.70,240.95 L556.20,240.98 L556.70,241.01 L557.20,241.04 L557.70,241.07 L558.20,241.10 L558.70,241.14 L559.20,241.18 L559.70,241.22 L560.20,241.25 L560.70,241.29 L561.20,241.32 L561.70,241.36 L562.20,241.39 L562.70,241.42 L563.20,241.45 L563.70,241.47 L564.20,241.50 L564.70,241.53 L565.20,241.55 L565.70,241.58 L566.20,241.60 L566.70,241.63 L567.20,241.65 L567.70,241.67 L568.20,241.70 L568.70,241.72 L569.20,241.74 L569.70,241.77 L570.20,241.79 L570.70,241.81 L571.20,241.83 L571.70,241.85 L572.20,241.88 L572.70,241.90 L573.20,241.92 L573.70,241.94 L574.20,241.96 L574.70,241.98 L575.20,242.00 L575.70,242.02 L576.20,242.04 L576.70,242.06 L577.20,242.08 L577.70,242.10 L578.20,242.12 L578.70,242.14 L579.20,242.16 L579.70,242.18 L580.20,242.19 L580.70,242.21 L581.20,242.23 L581.70,242.25 L582.20,242.27 L582.70,242.28 L583.20,242.30 L583.70,242.32 L584.20,242.34 L584.70,242.35 L585.20,242.37 L585.70,242.39 L586.20,242.40 L586.70,242.42 L587.20,242.43 L587.70,242.45 L588.20,242.47 L588.70,242.48 L589.20,242.50 L589.70,242.51 L590.20,242.53 L590.70,242.54 L591.20,242.56 L591.70,242.57 L592.20,242.59 L592.70,242.60 L593.20,242.62 L593.70,242.63 L594.20,242.65 L594.70,242.66 L595.20,242.67 L595.70,242.69 L596.20,242.70 L596.70,242.72 L597.20,242.73 L597.70,242.74 L598.20,242.76 L598.70,242.77 L599.20,242.78 L599.70,242.79 L600.20,242.81 L600.70,242.82 L601.20,242.83 L601.70,242.85 L602.20,242.86 L602.70,242.87 L603.20,242.88 L603.70,242.89 L604.20,242.91 L604.70,242.92 L605.20,242.93 L605.70,242.94 L606.20,242.95 L606.70,242.96 L607.20,242.98 L607.70,242.99 L608.20,243.00 L608.70,243.01 L609.20,243.02 L609.70,243.03 L610.20,243.04 L610.70,243.05 L611.20,243.06 L611.70,243.07 L612.20,243.08 L612.70,243.09 L613.20,243.10 L613.70,243.12 L614.20,243.13 L614.70,243.14 L615.20,243.15 L615.70,243.16 L616.20,243.16 L616.70,243.17 L617.20,243.18 L617.70,243.19 L618.20,243.20 L618.70,243.21 L619.20,243.22 L619.70,243.23 L620.20,243.24 L620.70,243.25 L621.20,243.26 L621.70,243.27 L622.20,243.28 L622.70,243.28 L623.20,243.29 L623.70,243.30 L624.20,243.31 L624.70,243.32 L625.20,243.33 L625.70,243.34 L626.20,243.34 L626.70,243.35 L627.20,243.36 L627.70,243.37 L628.20,243.38 L628.70,243.39 L629.20,243.39 L629.70,243.40 L630.20,243.41 L630.70,243.42 L631.20,243.42 L631.70,243.43 L632.20,243.44 L632.70,243.45 L633.20,243.45 L633.70,243.46 L634.20,243.47 L634.70,243.48 L635.20,243.48 L635.70,243.49 L636.20,243.50 L636.70,243.50 L637.20,243.51 L637.70,243.52 L638.20,243.53 L638.70,243.53 L639.20,243.54 L639.70,243.55 L640.20,243.55 L640.70,243.56 L641.20,243.57 L641.70,243.57 L642.20,243.58 L642.70,243.58 L643.20,243.59 L643.70,243.60 L644.20,243.60 L644.70,243.61 L645.20,243.62 L645.70,243.62 L646.20,243.63 L646.70,243.63 L647.20,243.64 L647.70,243.65 L648.20,243.65 L648.70,243.66 L649.20,243.66 L649.70,243.67 L650.20,243.68 L650.70,243.68 L651.20,243.69 L651.70,243.69 L652.20,243.70 L652.70,243.70 L653.20,243.71 L653.70,243.71 L654.20,243.72 L654.70,243.73 L655.20,243.73 L655.70,243.74 L656.20,243.74 L656.70,243.75 L657.20,243.75 L657.70,243.76 L658.20,243.76 L658.70,243.77 L659.20,243.77 L659.70,243.78 L660.20,243.78 L660.70,243.79 L661.20,243.79 L661.70,243.80 L662.20,243.80 L662.70,243.81 L663.20,243.81 L663.70,243.82 L664.20,243.82 L664.70,243.82 L665.20,243.83 L665.70,243.83 L666.20,243.84 L666.70,243.85 L667.20,243.85 L667.70,243.86 L668.20,243.86 L668.70,243.87 L669.20,243.88 L669.70,243.88 L670.20,243.89 L670.70,243.89" fill="none" stroke="#141414" stroke-width="2" stroke-linejoin="round"/>
<path d="M418.70,212.67 L419.20,212.65 L419.70,212.63 L420.20,212.61 L420.70,212.59 L421.20,212.57 L421.70,212.55 L422.20,212.52 L422.70,212.50 L423.20,212.48 L423.70,212.46 L424.20,212.44 L424.70,212.42 L425.20,212.40 L425.70,212.38 L426.20,212.36 L426.70,212.34 L427.20,212.32 L427.70,212.29 L428.20,212.27 L428.70,212.25 L429.20,212.22 L429.70,212.20 L430.20,212.17 L430.70,212.15 L431.20,212.12 L431.70,212.09 L432.20,212.06 L432.70,212.03 L433.20,212.00 L433.70,211.97 L434.20,211.94 L434.70,211.90 L435.20,211.87 L435.70,211.83 L436.20,211.79 L436.70,211.76 L437.20,211.72 L437.70,211.69 L438.20,211.65 L438.70,211.61 L439.20,211.58 L439.70,211.54 L440.20,211.50 L440.70,211.47 L441.20,211.43 L441.70,211.38 L442.20,211.34 L442.70,211.29 L443.20,211.24 L443.70,211.19 L444.20,211.14 L444.70,211.08 L445.20,211.02 L445.70,210.95 L446.20,210.88 L446.70,210.80 L447.20,210.72 L447.70,210.63 L448.20,210.54 L448.70,210.46 L449.20,210.38 L449.70,210.30 L450.20,210.23 L450.70,210.17 L451.20,210.11 L451.70,210.05 L452.20,210.00 L452.70,209.95 L453.20,209.89 L453.70,209.82 L454.20,209.76 L454.70,209.68 L455.20,209.60 L455.70,209.51 L456.20,209.42 L456.70,209.32 L457.20,209.22 L457.70,209.12 L458.20,209.01 L458.70,208.90 L459.20,208.79 L459.70,208.67 L460.20,208.55 L460.70,208.43 L461.20,208.31 L461.70,208.19 L462.20,208.07 L462.70,207.94 L463.20,207.81 L463.70,207.66 L464.20,207.52 L464.70,207.36 L465.20,207.19 L465.70,207.01 L466.20,206.81 L466.70,206.61 L467.20,206.40 L467.70,206.19 L468.20,205.96 L468.70,205.73 L469.20,205.49 L469.70,205.24 L470.20,204.98 L470.70,204.70 L471.20,204.42 L471.70,204.12 L472.20,203.80 L472.70,203.46 L473.20,203.11 L473.70,202.73 L474.20,202.33 L474.70,201.90 L475.20,201.45 L475.70,200.96 L476.20,200.44 L476.70,199.88 L477.20,199.29 L477.70,198.66 L478.20,197.98 L478.70,197.27 L479.20,196.51 L479.70,195.70 L480.20,194.84 L480.70,193.93 L481.20,192.96 L481.70,191.95 L482.20,190.90 L482.70,189.86 L483.20,188.86 L483.70,187.96 L484.20,187.21 L484.70,186.65 L485.20,186.28 L485.70,186.12 L486.20,186.18 L486.70,186.43 L487.20,186.80 L487.70,187.25 L488.20,187.71 L488.70,188.13 L489.20,188.49 L489.70,188.74 L490.20,188.88 L490.70,188.89 L491.20,188.76 L491.70,188.51 L492.20,188.14 L492.70,187.67 L493.20,187.13 L493.70,186.56 L494.20,185.99 L494.70,185.47 L495.20,185.05 L495.70,184.75 L496.20,184.62 L496.70,184.67 L497.20,184.89 L497.70,185.26 L498.20,185.77 L498.70,186.41 L499.20,187.16 L499.70,187.99 L500.20,188.88 L500.70,189.79 L501.20,190.70 L501.70,191.60 L502.20,192.49 L502.70,193.34 L503.20,194.16 L503.70,194.95 L504.20,195.71 L504.70,196.42 L505.20,197.11 L505.70,197.75 L506.20,198.36 L506.70,198.94 L507.20,199.48 L507.70,200.00 L508.20,200.48 L508.70,200.94 L509.20,201.37 L509.70,201.78 L510.20,202.17 L510.70,202.54 L511.20,202.89 L511.70,203.22 L512.20,203.53 L512.70,203.83 L513.20,204.12 L513.70,204.40 L514.20,204.67 L514.70,204.94 L515.20,205.21 L515.70,205.48 L516.20,205.75 L516.70,206.03 L517.20,206.30 L517.70,206.58 L518.20,206.85 L518.70,207.10 L519.20,207.34 L519.70,207.56 L520.20,207.76 L520.70,207.93 L521.20,208.08 L521.70,208.21 L522.20,208.33 L522.70,208.44 L523.20,208.54 L523.70,208.65 L524.20,208.75 L524.70,208.86 L525.20,208.97 L525.70,209.09 L526.20,209.20 L526.70,209.32 L527.20,209.43 L527.70,209.55 L528.20,209.66 L528.70,209.76 L529.20,209.87 L529.70,209.97 L530.20,210.07 L530.70,210.17 L531.20,210.27 L531.70,210.36 L532.20,210.45 L532.70,210.54 L533.20,210.63 L533.70,210.71 L534.20,210.80 L534.70,210.89 L535.20,210.98 L535.70,211.07 L536.20,211.16 L536.70,211.26 L537.20,211.36 L537.70,211.45 L538.20,211.55 L538.70,211.64 L539.20,211.72 L539.70,211.79 L540.20,211.85 L540.70,211.90 L541.20,211.94 L541.70,211.97 L542.20,212.00 L542.70,212.03 L543.20,212.05 L543.70,212.08 L544.20,212.10 L544.70,212.14 L545.20,212.17 L545.70,212.21 L546.20,212.25 L546.70,212.29 L547.20,212.33 L547.70,212.37 L548.20,212.41 L548.70,212.45 L549.20,212.49 L549.70,212.53 L550.20,212.57 L550.70,212.60 L551.20,212.63 L551.70,212.66 L552.20,212.68 L552.70,212.70 L553.20,212.71 L553.70,212.72 L554.20,212.72 L554.70,212.72 L555.20,212.72 L555.70,212.73 L556.20,212.74 L556.70,212.76 L557.20,212.79 L557.70,212.83 L558.20,212.87 L558.70,212.93 L559.20,212.98 L559.70,213.04 L560.20,213.10 L560.70,213.15 L561.20,213.20 L561.70,213.24 L562.20,213.28 L562.70,213.32 L563.20,213.35 L563.70,213.37 L564.20,213.40 L564.70,213.42 L565.20,213.45 L565.70,213.47 L566.20,213.49 L566.70,213.51 L567.20,213.54 L567.70,213.56 L568.20,213.58 L568.70,213.60 L569.20,213.62 L569.70,213.64 L570.20,213.66 L570.70,213.67 L571.20,213.69 L571.70,213.71 L572.20,213.73 L572.70,213.75 L573.20,213.76 L573.70,213.78 L574.20,213.80 L574.70,213.82 L575.20,213.83 L575.70,213.85 L576.20,213.87 L576.70,213.88 L577.20,213.90 L577.70,213.91 L578.20,213.93 L578.70,213.94 L579.20,213.96 L579.70,213.97 L580.20,213.99 L580.70,214.00 L581.20,214.02 L581.70,214.03 L582.20,214.04 L582.70,214.06 L583.20,214.07 L583.70,214.08 L584.20,214.10 L584.70,214.11 L585.20,214.12 L585.70,214.14 L586.20,214.15 L586.70,214.16 L587.20,214.17 L587.70,214.19 L588.20,214.20 L588.70,214.21 L589.20,214.22 L589.70,214.23 L590.20,214.25 L590.70,214.26 L591.20,214.27 L591.70,214.28 L592.20,214.29 L592.70,214.30 L593.20,214.31 L593.70,214.32 L594.20,214.33 L594.70,214.34 L595.20,214.35 L595.70,214.37 L596.20,214.38 L596.70,214.39 L597.20,214.40 L597.70,214.41 L598.20,214.42 L598.70,214.43 L599.20,214.43 L599.70,214.44 L600.20,214.45 L600.70,214.46 L601.20,214.47 L601.70,214.48 L602.20,214.49 L602.70,214.50 L603.20,214.51 L603.70,214.52 L604.20,214.53 L604.70,214.54 L605.20,214.54 L605.70,214.55 L606.20,214.56 L606.70,214.57 L607.20,214.58 L607.70,214.59 L608.20,214.59 L608.70,214.60 L609.20,214.61 L609.70,214.62 L610.20,214.63 L610.70,214.64 L611.20,214.64 L611.70,214.65 L612.20,214.66 L612.70,214.67 L613.20,214.67 L613.70,214.68 L614.20,214.69 L614.70,214.70 L615.20,214.70 L615.70,214.71 L616.20,214.72 L616.70,214.73 L617.20,214.73 L617.70,214.74 L618.20,214.75 L618.70,214.75 L619.20,214.76 L619.70,214.77 L620.20,214.78 L620.70,214.78 L621.20,214.79 L621.70,214.80 L622.20,214.80 L622.70,214.81 L623.20,214.82 L623.70,214.82 L624.20,214.83 L624.70,214.84 L625.20,214.84 L625.70,214.85 L626.20,214.86 L626.70,214.86 L627.20,214.87 L627.70,214.88 L628.20,214.88 L628.70,214.89 L629.20,214.89 L629.70,214.90 L630.20,214.91 L630.70,214.91 L631.20,214.92 L631.70,214.92 L632.20,214.93 L632.70,214.94 L633.20,214.94 L633.70,214.95 L634.20,214.95 L634.70,214.96 L635.20,214.97 L635.70,214.97 L636.20,214.98 L636.70,214.98 L637.20,214.99 L637.70,215.00 L638.20,215.00 L638.70,215.01 L639.20,215.01 L639.70,215.02 L640.20,215.02 L640.70,215.03 L641.20,215.03 L641.70,215.04 L642.20,215.05 L642.70,215.05 L643.20,215.06 L643.70,215.06 L644.20,215.07 L644.70,215.07 L645.20,215.08 L645.70,215.08 L646.20,215.09 L646.70,215.09 L647.20,215.10 L647.70,215.10 L648.20,215.11 L648.70,215.11 L649.20,215.12 L649.70,215.13 L650.20,215.13 L650.70,215.14 L651.20,215.14 L651.70,215.15 L652.20,215.15 L652.70,215.16 L653.20,215.16 L653.70,215.17 L654.20,215.17 L654.70,215.18 L655.20,215.18 L655.70,215.19 L656.20,215.19 L656.70,215.20 L657.20,215.20 L657.70,215.21 L658.20,215.21 L658.70,215.21 L659.20,215.22 L659.70,215.22 L660.20,215.23 L660.70,215.23 L661.20,215.24 L661.70,215.24 L662.20,215.25 L662.70,215.25 L663.20,215.26 L663.70,215.26 L664.20,215.27 L664.70,215.27 L665.20,215.27 L665.70,215.28 L666.20,215.28 L666.70,215.28 L667.20,215.29 L667.70,215.29 L668.20,215.29 L668.70,215.29 L669.20,215.30 L669.70,215.30 L670.20,215.30 L670.70,215.30" fill="none" stroke="#cc2424" stroke-width="2" stroke-linejoin="round"/>
<path d="M418.70,184.94 L419.20,184.92 L419.70,184.89 L420.20,184.86 L420.70,184.83 L421.20,184.80 L421.70,184.77 L422.20,184.75 L422.70,184.72 L423.20,184.70 L423.70,184.68 L424.20,184.66 L424.70,184.64 L425.20,184.62 L425.70,184.60 L426.20,184.58 L426.70,184.56 L427.20,184.55 L427.70,184.53 L428.20,184.51 L428.70,184.49 L429.20,184.47 L429.70,184.44 L430.20,184.42 L430.70,184.40 L431.20,184.38 L431.70,184.35 L432.20,184.33 L432.70,184.30 L433.20,184.28 L433.70,184.25 L434.20,184.21 L434.70,184.18 L435.20,184.13 L435.70,184.09 L436.20,184.03 L436.70,183.97 L437.20,183.91 L437.70,183.84 L438.20,183.78 L438.70,183.71 L439.20,183.66 L439.70,183.61 L440.20,183.58 L440.70,183.55 L441.20,183.54 L441.70,183.53 L442.20,183.53 L442.70,183.53 L443.20,183.53 L443.70,183.52 L444.20,183.50 L444.70,183.48 L445.20,183.46 L445.70,183.43 L446.20,183.39 L446.70,183.35 L447.20,183.30 L447.70,183.26 L448.20,183.21 L448.70,183.16 L449.20,183.11 L449.70,183.05 L450.20,183.00 L450.70,182.94 L451.20,182.89 L451.70,182.83 L452.20,182.77 L452.70,182.71 L453.20,182.64 L453.70,182.58 L454.20,182.52 L454.70,182.45 L455.20,182.39 L455.70,182.32 L456.20,182.25 L456.70,182.18 L457.20,182.10 L457.70,182.02 L458.20,181.93 L458.70,181.85 L459.20,181.76 L459.70,181.66 L460.20,181.57 L460.70,181.47 L461.20,181.37 L461.70,181.28 L462.20,181.18 L462.70,181.08 L463.20,180.98 L463.70,180.87 L464.20,180.76 L464.70,180.64 L465.20,180.51 L465.70,180.37 L466.20,180.22 L466.70,180.06 L467.20,179.90 L467.70,179.73 L468.20,179.56 L468.70,179.38 L469.20,179.20 L469.70,179.01 L470.20,178.82 L470.70,178.63 L471.20,178.43 L471.70,178.23 L472.20,178.02 L472.70,177.80 L473.20,177.58 L473.70,177.34 L474.20,177.10 L474.70,176.85 L475.20,176.59 L475.70,176.32 L476.20,176.03 L476.70,175.73 L477.20,175.41 L477.70,175.07 L478.20,174.71 L478.70,174.31 L479.20,173.90 L479.70,173.45 L480.20,172.98 L480.70,172.48 L481.20,171.96 L481.70,171.41 L482.20,170.84 L482.70,170.25 L483.20,169.63 L483.70,168.98 L484.20,168.30 L484.70,167.58 L485.20,166.81 L485.70,166.01 L486.20,165.16 L486.70,164.26 L487.20,163.32 L487.70,162.34 L488.20,161.36 L488.70,160.39 L489.20,159.49 L489.70,158.71 L490.20,158.13 L490.70,157.87 L491.20,157.85 L491.70,158.00 L492.20,158.27 L492.70,158.62 L493.20,159.01 L493.70,159.40 L494.20,159.77 L494.70,160.10 L495.20,160.35 L495.70,160.51 L496.20,160.58 L496.70,160.53 L497.20,160.37 L497.70,160.11 L498.20,159.74 L498.70,159.30 L499.20,158.81 L499.70,158.30 L500.20,157.82 L500.70,157.41 L501.20,157.12 L501.70,157.00 L502.20,157.12 L502.70,157.58 L503.20,158.28 L503.70,159.12 L504.20,160.02 L504.70,160.95 L505.20,161.85 L505.70,162.73 L506.20,163.56 L506.70,164.35 L507.20,165.09 L507.70,165.80 L508.20,166.48 L508.70,167.13 L509.20,167.74 L509.70,168.34 L510.20,168.91 L510.70,169.47 L511.20,170.01 L511.70,170.54 L512.20,171.06 L512.70,171.55 L513.20,172.03 L513.70,172.48 L514.20,172.91 L514.70,173.31 L515.20,173.68 L515.70,174.02 L516.20,174.35 L516.70,174.66 L517.20,174.96 L517.70,175.25 L518.20,175.53 L518.70,175.82 L519.20,176.10 L519.70,176.37 L520.20,176.65 L520.70,176.92 L521.20,177.18 L521.70,177.43 L522.20,177.68 L522.70,177.91 L523.20,178.14 L523.70,178.36 L524.20,178.56 L524.70,178.75 L525.20,178.94 L525.70,179.11 L526.20,179.28 L526.70,179.43 L527.20,179.59 L527.70,179.73 L528.20,179.88 L528.70,180.02 L529.20,180.16 L529.70,180.29 L530.20,180.43 L530.70,180.56 L531.20,180.69 L531.70,180.82 L532.20,180.94 L532.70,181.07 L533.20,181.19 L533.70,181.31 L534.20,181.43 L534.70,181.56 L535.20,181.68 L535.70,181.81 L536.20,181.95 L536.70,182.08 L537.20,182.22 L537.70,182.36 L538.20,182.49 L538.70,182.62 L539.20,182.74 L539.70,182.84 L540.20,182.92 L540.70,182.99 L541.20,183.04 L541.70,183.08 L542.20,183.11 L542.70,183.13 L543.20,183.16 L543.70,183.19 L544.20,183.22 L544.70,183.26 L545.20,183.30 L545.70,183.35 L546.20,183.40 L546.70,183.45 L547.20,183.51 L547.70,183.56 L548.20,183.61 L548.70,183.67 L549.20,183.72 L549.70,183.77 L550.20,183.81 L550.70,183.86 L551.20,183.90 L551.70,183.93 L552.20,183.96 L552.70,183.99 L553.20,184.00 L553.70,184.02 L554.20,184.02 L554.70,184.02 L555.20,184.03 L555.70,184.03 L556.20,184.05 L556.70,184.07 L557.20,184.11 L557.70,184.16 L558.20,184.22 L558.70,184.28 L559.20,184.35 L559.70,184.42 L560.20,184.49 L560.70,184.56 L561.20,184.62 L561.70,184.67 L562.20,184.72 L562.70,184.76 L563.20,184.80 L563.70,184.84 L564.20,184.87 L564.70,184.90 L565.20,184.93 L565.70,184.96 L566.20,184.98 L566.70,185.01 L567.20,185.03 L567.70,185.06 L568.20,185.08 L568.70,185.11 L569.20,185.13 L569.70,185.15 L570.20,185.18 L570.70,185.20 L571.20,185.22 L571.70,185.24 L572.20,185.27 L572.70,185.29 L573.20,185.31 L573.70,185.33 L574.20,185.35 L574.70,185.37 L575.20,185.39 L575.70,185.41 L576.20,185.43 L576.70,185.44 L577.20,185.46 L577.70,185.48 L578.20,185.50 L578.70,185.52 L579.20,185.53 L579.70,185.55 L580.20,185.57 L580.70,185.58 L581.20,185.60 L581.70,185.62 L582.20,185.63 L582.70,185.65 L583.20,185.66 L583.70,185.68 L584.20,185.69 L584.70,185.71 L585.20,185.72 L585.70,185.74 L586.20,185.75 L586.70,185.76 L587.20,185.78 L587.70,185.79 L588.20,185.81 L588.70,185.82 L589.20,185.83 L589.70,185.84 L590.20,185.86 L590.70,185.87 L591.20,185.88 L591.70,185.90 L592.20,185.91 L592.70,185.92 L593.20,185.93 L593.70,185.94 L594.20,185.95 L594.70,185.97 L595.20,185.98 L595.70,185.99 L596.20,186.00 L596.70,186.01 L597.20,186.02 L597.70,186.03 L598.20,186.04 L598.70,186.05 L599.20,186.06 L599.70,186.07 L600.20,186.08 L600.70,186.09 L601.20,186.10 L601.70,186.11 L602.20,186.12 L602.70,186.13 L603.20,186.14 L603.70,186.15 L604.20,186.16 L604.70,186.17 L605.20,186.18 L605.70,186.19 L606.20,186.20 L606.70,186.20 L607.20,186.21 L607.70,186.22 L608.20,186.23 L608.70,186.24 L609.20,186.25 L609.70,186.26 L610.20,186.26 L610.70,186.27 L611.20,186.28 L611.70,186.29 L612.20,186.30 L612.70,186.30 L613.20,186.31 L613.70,186.32 L614.20,186.33 L614.70,186.33 L615.20,186.34 L615.70,186.35 L616.20,186.36 L616.70,186.36 L617.20,186.37 L617.70,186.38 L618.20,186.39 L618.70,186.39 L619.20,186.40 L619.70,186.41 L620.20,186.41 L620.70,186.42 L621.20,186.43 L621.70,186.43 L622.20,186.44 L622.70,186.45 L623.20,186.45 L623.70,186.46 L624.20,186.47 L624.70,186.47 L625.20,186.48 L625.70,186.49 L626.20,186.49 L626.70,186.50 L627.20,186.50 L627.70,186.51 L628.20,186.52 L628.70,186.52 L629.20,186.53 L629.70,186.53 L630.20,186.54 L630.70,186.55 L631.20,186.55 L631.70,186.56 L632.20,186.56 L632.70,186.57 L633.20,186.58 L633.70,186.58 L634.20,186.59 L634.70,186.59 L635.20,186.60 L635.70,186.60 L636.20,186.61 L636.70,186.61 L637.20,186.62 L637.70,186.62 L638.20,186.63 L638.70,186.64 L639.20,186.64 L639.70,186.65 L640.20,186.65 L640.70,186.66 L641.20,186.66 L641.70,186.67 L642.20,186.67 L642.70,186.68 L643.20,186.68 L643.70,186.69 L644.20,186.69 L644.70,186.70 L645.20,186.70 L645.70,186.71 L646.20,186.71 L646.70,186.72 L647.20,186.72 L647.70,186.73 L648.20,186.73 L648.70,186.73 L649.20,186.74 L649.70,186.74 L650.20,186.75 L650.70,186.75 L651.20,186.76 L651.70,186.76 L652.20,186.77 L652.70,186.77 L653.20,186.78 L653.70,186.78 L654.20,186.78 L654.70,186.79 L655.20,186.79 L655.70,186.80 L656.20,186.80 L656.70,186.81 L657.20,186.81 L657.70,186.82 L658.20,186.82 L658.70,186.82 L659.20,186.83 L659.70,186.83 L660.20,186.84 L660.70,186.84 L661.20,186.84 L661.70,186.85 L662.20,186.85 L662.70,186.86 L663.20,186.86 L663.70,186.87 L664.20,186.87 L664.70,186.87 L665.20,186.88 L665.70,186.88 L666.20,186.88 L666.70,186.89 L667.20,186.89 L667.70,186.89 L668.20,186.89 L668.70,186.89 L669.20,186.90 L669.70,186.90 L670.20,186.90 L670.70,186.90" fill="none" stroke="#1c1cc8" stroke-width="2" stroke-linejoin="round"/>
<path d="M418.70,156.19 L419.20,156.14 L419.70,156.08 L420.20,156.00 L420.70,155.92 L421.20,155.85 L421.70,155.78 L422.20,155.72 L422.70,155.66 L423.20,155.62 L423.70,155.59 L424.20,155.57 L424.70,155.55 L425.20,155.53 L425.70,155.52 L426.20,155.50 L426.70,155.49 L427.20,155.48 L427.70,155.47 L428.20,155.46 L428.70,155.45 L429.20,155.43 L429.70,155.42 L430.20,155.41 L430.70,155.39 L431.20,155.38 L431.70,155.37 L432.20,155.35 L432.70,155.33 L433.20,155.31 L433.70,155.29 L434.20,155.26 L434.70,155.23 L435.20,155.19 L435.70,155.15 L436.20,155.09 L436.70,155.03 L437.20,154.96 L437.70,154.88 L438.20,154.81 L438.70,154.74 L439.20,154.69 L439.70,154.65 L440.20,154.63 L440.70,154.62 L441.20,154.63 L441.70,154.65 L442.20,154.68 L442.70,154.71 L443.20,154.74 L443.70,154.76 L444.20,154.77 L444.70,154.78 L445.20,154.77 L445.70,154.76 L446.20,154.75 L446.70,154.72 L447.20,154.70 L447.70,154.67 L448.20,154.64 L448.70,154.60 L449.20,154.57 L449.70,154.53 L450.20,154.49 L450.70,154.45 L451.20,154.40 L451.70,154.35 L452.20,154.29 L452.70,154.22 L453.20,154.13 L453.70,154.03 L454.20,153.92 L454.70,153.79 L455.20,153.65 L455.70,153.51 L456.20,153.37 L456.70,153.25 L457.20,153.14 L457.70,153.05 L458.20,153.00 L458.70,152.97 L459.20,152.97 L459.70,152.99 L460.20,153.02 L460.70,153.04 L461.20,153.07 L461.70,153.07 L462.20,153.07 L462.70,153.05 L463.20,153.01 L463.70,152.97 L464.20,152.91 L464.70,152.85 L465.20,152.79 L465.70,152.73 L466.20,152.67 L466.70,152.61 L467.20,152.55 L467.70,152.49 L468.20,152.42 L468.70,152.35 L469.20,152.27 L469.70,152.17 L470.20,152.05 L470.70,151.92 L471.20,151.78 L471.70,151.62 L472.20,151.46 L472.70,151.29 L473.20,151.12 L473.70,150.94 L474.20,150.76 L474.70,150.58 L475.20,150.39 L475.70,150.20 L476.20,150.00 L476.70,149.80 L477.20,149.59 L477.70,149.38 L478.20,149.15 L478.70,148.92 L479.20,148.68 L479.70,148.43 L480.20,148.16 L480.70,147.88 L481.20,147.58 L481.70,147.27 L482.20,146.94 L482.70,146.59 L483.20,146.22 L483.70,145.83 L484.20,145.42 L484.70,144.98 L485.20,144.52 L485.70,144.03 L486.20,143.51 L486.70,142.96 L487.20,142.39 L487.70,141.78 L488.20,141.15 L488.70,140.50 L489.20,139.81 L489.70,139.11 L490.20,138.39 L490.70,137.64 L491.20,136.86 L491.70,136.06 L492.20,135.23 L492.70,134.36 L493.20,133.49 L493.70,132.61 L494.20,131.77 L494.70,131.02 L495.20,130.39 L495.70,129.99 L496.20,129.82 L496.70,129.82 L497.20,129.94 L497.70,130.16 L498.20,130.41 L498.70,130.68 L499.20,130.91 L499.70,131.09 L500.20,131.20 L500.70,131.24 L501.20,131.21 L501.70,131.11 L502.20,130.95 L502.70,130.74 L503.20,130.49 L503.70,130.20 L504.20,129.89 L504.70,129.57 L505.20,129.26 L505.70,128.97 L506.20,128.75 L506.70,128.62 L507.20,128.62 L507.70,128.82 L508.20,129.27 L508.70,129.89 L509.20,130.63 L509.70,131.46 L510.20,132.33 L510.70,133.22 L511.20,134.11 L511.70,134.98 L512.20,135.81 L512.70,136.60 L513.20,137.35 L513.70,138.05 L514.20,138.72 L514.70,139.35 L515.20,139.95 L515.70,140.53 L516.20,141.09 L516.70,141.63 L517.20,142.15 L517.70,142.66 L518.20,143.15 L518.70,143.63 L519.20,144.09 L519.70,144.53 L520.20,144.96 L520.70,145.36 L521.20,145.75 L521.70,146.11 L522.20,146.46 L522.70,146.79 L523.20,147.11 L523.70,147.40 L524.20,147.69 L524.70,147.96 L525.20,148.22 L525.70,148.48 L526.20,148.73 L526.70,148.97 L527.20,149.22 L527.70,149.45 L528.20,149.69 L528.70,149.92 L529.20,150.14 L529.70,150.35 L530.20,150.55 L530.70,150.73 L531.20,150.91 L531.70,151.08 L532.20,151.24 L532.70,151.40 L533.20,151.55 L533.70,151.70 L534.20,151.84 L534.70,151.99 L535.20,152.14 L535.70,152.29 L536.20,152.45 L536.70,152.60 L537.20,152.76 L537.70,152.91 L538.20,153.06 L538.70,153.20 L539.20,153.33 L539.70,153.45 L540.20,153.56 L540.70,153.65 L541.20,153.74 L541.70,153.81 L542.20,153.87 L542.70,153.93 L543.20,153.99 L543.70,154.05 L544.20,154.11 L544.70,154.17 L545.20,154.24 L545.70,154.31 L546.20,154.38 L546.70,154.45 L547.20,154.52 L547.70,154.59 L548.20,154.66 L548.70,154.73 L549.20,154.79 L549.70,154.86 L550.20,154.92 L550.70,154.98 L551.20,155.04 L551.70,155.10 L552.20,155.16 L552.70,155.21 L553.20,155.26 L553.70,155.31 L554.20,155.36 L554.70,155.40 L555.20,155.45 L555.70,155.50 L556.20,155.54 L556.70,155.59 L557.20,155.63 L557.70,155.68 L558.20,155.73 L558.70,155.78 L559.20,155.83 L559.70,155.87 L560.20,155.92 L560.70,155.97 L561.20,156.01 L561.70,156.05 L562.20,156.09 L562.70,156.13 L563.20,156.17 L563.70,156.21 L564.20,156.24 L564.70,156.28 L565.20,156.31 L565.70,156.35 L566.20,156.38 L566.70,156.41 L567.20,156.45 L567.70,156.48 L568.20,156.51 L568.70,156.54 L569.20,156.57 L569.70,156.60 L570.20,156.63 L570.70,156.66 L571.20,156.68 L571.70,156.71 L572.20,156.74 L572.70,156.77 L573.20,156.79 L573.70,156.82 L574.20,156.84 L574.70,156.87 L575.20,156.89 L575.70,156.92 L576.20,156.94 L576.70,156.97 L577.20,156.99 L577.70,157.01 L578.20,157.04 L578.70,157.06 L579.20,157.08 L579.70,157.10 L580.20,157.12 L580.70,157.15 L581.20,157.17 L581.70,157.19 L582.20,157.21 L582.70,157.23 L583.20,157.25 L583.70,157.27 L584.20,157.29 L584.70,157.31 L585.20,157.33 L585.70,157.34 L586.20,157.36 L586.70,157.38 L587.20,157.40 L587.70,157.42 L588.20,157.44 L588.70,157.45 L589.20,157.47 L589.70,157.49 L590.20,157.50 L590.70,157.52 L591.20,157.54 L591.70,157.55 L592.20,157.57 L592.70,157.59 L593.20,157.60 L593.70,157.62 L594.20,157.63 L594.70,157.65 L595.20,157.66 L595.70,157.68 L596.20,157.69 L596.70,157.71 L597.20,157.72 L597.70,157.74 L598.20,157.75 L598.70,157.77 L599.20,157.78 L599.70,157.80 L600.20,157.81 L600.70,157.82 L601.20,157.84 L601.70,157.85 L602.20,157.86 L602.70,157.88 L603.20,157.89 L603.70,157.90 L604.20,157.92 L604.70,157.93 L605.20,157.94 L605.70,157.95 L606.20,157.97 L606.70,157.98 L607.20,157.99 L607.70,158.00 L608.20,158.02 L608.70,158.03 L609.20,158.04 L609.70,158.05 L610.20,158.06 L610.70,158.08 L611.20,158.09 L611.70,158.10 L612.20,158.11 L612.70,158.12 L613.20,158.13 L613.70,158.14 L614.20,158.16 L614.70,158.17 L615.20,158.18 L615.70,158.19 L616.20,158.20 L616.70,158.21 L617.20,158.22 L617.70,158.23 L618.20,158.24 L618.70,158.25 L619.20,158.26 L619.70,158.27 L620.20,158.28 L620.70,158.29 L621.20,158.30 L621.70,158.31 L622.20,158.32 L622.70,158.33 L623.20,158.34 L623.70,158.35 L624.20,158.36 L624.70,158.37 L625.20,158.38 L625.70,158.39 L626.20,158.40 L626.70,158.41 L627.20,158.42 L627.70,158.43 L628.20,158.44 L628.70,158.45 L629.20,158.46 L629.70,158.47 L630.20,158.48 L630.70,158.49 L631.20,158.50 L631.70,158.51 L632.20,158.52 L632.70,158.53 L633.20,158.53 L633.70,158.54 L634.20,158.55 L634.70,158.56 L635.20,158.57 L635.70,158.58 L636.20,158.59 L636.70,158.60 L637.20,158.61 L637.70,158.61 L638.20,158.62 L638.70,158.63 L639.20,158.64 L639.70,158.65 L640.20,158.66 L640.70,158.67 L641.20,158.67 L641.70,158.68 L642.20,158.69 L642.70,158.70 L643.20,158.71 L643.70,158.72 L644.20,158.72 L644.70,158.73 L645.20,158.74 L645.70,158.75 L646.20,158.76 L646.70,158.76 L647.20,158.77 L647.70,158.78 L648.20,158.79 L648.70,158.80 L649.20,158.81 L649.70,158.81 L650.20,158.82 L650.70,158.83 L651.20,158.84 L651.70,158.84 L652.20,158.85 L652.70,158.86 L653.20,158.87 L653.70,158.88 L654.20,158.88 L654.70,158.89 L655.20,158.90 L655.70,158.91 L656.20,158.91 L656.70,158.92 L657.20,158.93 L657.70,158.94 L658.20,158.94 L658.70,158.95 L659.20,158.96 L659.70,158.97 L660.20,158.97 L660.70,158.98 L661.20,158.99 L661.70,159.00 L662.20,159.00 L662.70,159.01 L663.20,159.02 L663.70,159.03 L664.20,159.03 L664.70,159.04 L665.20,159.05 L665.70,159.05 L666.20,159.06 L666.70,159.06 L667.20,159.07 L667.70,159.07 L668.20,159.08 L668.70,159.08 L669.20,159.09 L669.70,159.09 L670.20,159.10 L670.70,159.10" fill="none" stroke="#187373" stroke-width="2" stroke-linejoin="round"/>
<path d="M418.70,128.64 L419.20,128.59 L419.70,128.53 L420.20,128.47 L420.70,128.40 L421.20,128.33 L421.70,128.27 L422.20,128.21 L422.70,128.16 L423.20,128.12 L423.70,128.08 L424.20,128.05 L424.70,128.02 L425.20,128.00 L425.70,127.97 L426.20,127.95 L426.70,127.92 L427.20,127.90 L427.70,127.88 L428.20,127.85 L428.70,127.83 L429.20,127.81 L429.70,127.78 L430.20,127.76 L430.70,127.73 L431.20,127.70 L431.70,127.68 L432.20,127.65 L432.70,127.62 L433.20,127.59 L433.70,127.56 L434.20,127.53 L434.70,127.49 L435.20,127.44 L435.70,127.39 L436.20,127.34 L436.70,127.28 L437.20,127.21 L437.70,127.14 L438.20,127.08 L438.70,127.01 L439.20,126.96 L439.70,126.91 L440.20,126.88 L440.70,126.86 L441.20,126.85 L441.70,126.85 L442.20,126.85 L442.70,126.86 L443.20,126.86 L443.70,126.86 L444.20,126.85 L444.70,126.84 L445.20,126.82 L445.70,126.79 L446.20,126.77 L446.70,126.73 L447.20,126.70 L447.70,126.66 L448.20,126.63 L448.70,126.59 L449.20,126.55 L449.70,126.51 L450.20,126.46 L450.70,126.42 L451.20,126.37 L451.70,126.31 L452.20,126.25 L452.70,126.18 L453.20,126.10 L453.70,126.01 L454.20,125.90 L454.70,125.79 L455.20,125.66 L455.70,125.53 L456.20,125.41 L456.70,125.29 L457.20,125.20 L457.70,125.12 L458.20,125.08 L458.70,125.05 L459.20,125.05 L459.70,125.07 L460.20,125.10 L460.70,125.13 L461.20,125.15 L461.70,125.16 L462.20,125.16 L462.70,125.15 L463.20,125.13 L463.70,125.09 L464.20,125.04 L464.70,124.99 L465.20,124.92 L465.70,124.86 L466.20,124.78 L466.70,124.70 L467.20,124.61 L467.70,124.53 L468.20,124.44 L468.70,124.36 L469.20,124.27 L469.70,124.20 L470.20,124.12 L470.70,124.06 L471.20,124.00 L471.70,123.94 L472.20,123.89 L472.70,123.84 L473.20,123.79 L473.70,123.74 L474.20,123.69 L474.70,123.64 L475.20,123.60 L475.70,123.57 L476.20,123.54 L476.70,123.52 L477.20,123.51 L477.70,123.50 L478.20,123.49 L478.70,123.46 L479.20,123.42 L479.70,123.35 L480.20,123.26 L480.70,123.15 L481.20,123.01 L481.70,122.86 L482.20,122.69 L482.70,122.52 L483.20,122.35 L483.70,122.18 L484.20,122.01 L484.70,121.83 L485.20,121.65 L485.70,121.47 L486.20,121.28 L486.70,121.08 L487.20,120.87 L487.70,120.66 L488.20,120.44 L488.70,120.22 L489.20,119.99 L489.70,119.75 L490.20,119.50 L490.70,119.24 L491.20,118.96 L491.70,118.67 L492.20,118.35 L492.70,118.02 L493.20,117.65 L493.70,117.27 L494.20,116.85 L494.70,116.41 L495.20,115.94 L495.70,115.44 L496.20,114.91 L496.70,114.35 L497.20,113.75 L497.70,113.11 L498.20,112.42 L498.70,111.68 L499.20,110.89 L499.70,110.04 L500.20,109.13 L500.70,108.16 L501.20,107.14 L501.70,106.08 L502.20,104.99 L502.70,103.91 L503.20,102.86 L503.70,101.88 L504.20,101.01 L504.70,100.31 L505.20,99.82 L505.70,99.57 L506.20,99.56 L506.70,99.76 L507.20,100.15 L507.70,100.67 L508.20,101.29 L508.70,101.96 L509.20,102.63 L509.70,103.27 L510.20,103.82 L510.70,104.25 L511.20,104.54 L511.70,104.68 L512.20,104.65 L512.70,104.45 L513.20,104.11 L513.70,103.65 L514.20,103.09 L514.70,102.47 L515.20,101.83 L515.70,101.19 L516.20,100.60 L516.70,100.08 L517.20,99.68 L517.70,99.44 L518.20,99.41 L518.70,99.68 L519.20,100.27 L519.70,101.07 L520.20,102.01 L520.70,103.05 L521.20,104.12 L521.70,105.21 L522.20,106.26 L522.70,107.28 L523.20,108.24 L523.70,109.15 L524.20,110.00 L524.70,110.80 L525.20,111.55 L525.70,112.26 L526.20,112.92 L526.70,113.53 L527.20,114.10 L527.70,114.63 L528.20,115.12 L528.70,115.57 L529.20,115.99 L529.70,116.39 L530.20,116.76 L530.70,117.12 L531.20,117.46 L531.70,117.79 L532.20,118.11 L532.70,118.42 L533.20,118.72 L533.70,119.02 L534.20,119.30 L534.70,119.59 L535.20,119.87 L535.70,120.15 L536.20,120.42 L536.70,120.69 L537.20,120.95 L537.70,121.19 L538.20,121.43 L538.70,121.64 L539.20,121.84 L539.70,122.02 L540.20,122.17 L540.70,122.31 L541.20,122.43 L541.70,122.53 L542.20,122.63 L542.70,122.72 L543.20,122.80 L543.70,122.90 L544.20,122.99 L544.70,123.09 L545.20,123.20 L545.70,123.32 L546.20,123.45 L546.70,123.58 L547.20,123.71 L547.70,123.85 L548.20,123.99 L548.70,124.12 L549.20,124.23 L549.70,124.33 L550.20,124.42 L550.70,124.48 L551.20,124.54 L551.70,124.57 L552.20,124.61 L552.70,124.63 L553.20,124.66 L553.70,124.69 L554.20,124.73 L554.70,124.77 L555.20,124.81 L555.70,124.86 L556.20,124.92 L556.70,124.98 L557.20,125.03 L557.70,125.09 L558.20,125.15 L558.70,125.21 L559.20,125.27 L559.70,125.32 L560.20,125.38 L560.70,125.44 L561.20,125.49 L561.70,125.54 L562.20,125.60 L562.70,125.65 L563.20,125.70 L563.70,125.74 L564.20,125.79 L564.70,125.84 L565.20,125.88 L565.70,125.92 L566.20,125.96 L566.70,126.00 L567.20,126.03 L567.70,126.06 L568.20,126.10 L568.70,126.13 L569.20,126.17 L569.70,126.20 L570.20,126.24 L570.70,126.29 L571.20,126.33 L571.70,126.38 L572.20,126.43 L572.70,126.48 L573.20,126.53 L573.70,126.57 L574.20,126.62 L574.70,126.66 L575.20,126.70 L575.70,126.74 L576.20,126.77 L576.70,126.81 L577.20,126.84 L577.70,126.88 L578.20,126.91 L578.70,126.94 L579.20,126.97 L579.70,127.01 L580.20,127.04 L580.70,127.07 L581.20,127.10 L581.70,127.13 L582.20,127.16 L582.70,127.18 L583.20,127.21 L583.70,127.24 L584.20,127.27 L584.70,127.29 L585.20,127.32 L585.70,127.35 L586.20,127.37 L586.70,127.40 L587.20,127.42 L587.70,127.45 L588.20,127.47 L588.70,127.50 L589.20,127.52 L589.70,127.55 L590.20,127.57 L590.70,127.59 L591.20,127.62 L591.70,127.64 L592.20,127.66 L592.70,127.69 L593.20,127.71 L593.70,127.74 L594.20,127.76 L594.70,127.79 L595.20,127.83 L595.70,127.86 L596.20,127.91 L596.70,127.95 L597.20,128.00 L597.70,128.05 L598.20,128.10 L598.70,128.14 L599.20,128.18 L599.70,128.21 L600.20,128.23 L600.70,128.24 L601.20,128.24 L601.70,128.23 L602.20,128.22 L602.70,128.21 L603.20,128.19 L603.70,128.18 L604.20,128.18 L604.70,128.18 L605.20,128.18 L605.70,128.18 L606.20,128.19 L606.70,128.20 L607.20,128.22 L607.70,128.23 L608.20,128.24 L608.70,128.26 L609.20,128.27 L609.70,128.29 L610.20,128.30 L610.70,128.31 L611.20,128.33 L611.70,128.34 L612.20,128.36 L612.70,128.37 L613.20,128.38 L613.70,128.40 L614.20,128.41 L614.70,128.42 L615.20,128.43 L615.70,128.45 L616.20,128.46 L616.70,128.47 L617.20,128.48 L617.70,128.49 L618.20,128.51 L618.70,128.52 L619.20,128.53 L619.70,128.54 L620.20,128.55 L620.70,128.56 L621.20,128.57 L621.70,128.59 L622.20,128.60 L622.70,128.61 L623.20,128.62 L623.70,128.63 L624.20,128.64 L624.70,128.65 L625.20,128.66 L625.70,128.67 L626.20,128.68 L626.70,128.69 L627.20,128.70 L627.70,128.71 L628.20,128.72 L628.70,128.73 L629.20,128.74 L629.70,128.74 L630.20,128.75 L630.70,128.76 L631.20,128.77 L631.70,128.78 L632.20,128.79 L632.70,128.80 L633.20,128.81 L633.70,128.81 L634.20,128.82 L634.70,128.83 L635.20,128.84 L635.70,128.85 L636.20,128.85 L636.70,128.86 L637.20,128.87 L637.70,128.88 L638.20,128.88 L638.70,128.89 L639.20,128.90 L639.70,128.91 L640.20,128.91 L640.70,128.92 L641.20,128.93 L641.70,128.94 L642.20,128.94 L642.70,128.95 L643.20,128.96 L643.70,128.96 L644.20,128.97 L644.70,128.98 L645.20,128.98 L645.70,128.99 L646.20,129.00 L646.70,129.00 L647.20,129.01 L647.70,129.01 L648.20,129.02 L648.70,129.03 L649.20,129.03 L649.70,129.04 L650.20,129.04 L650.70,129.05 L651.20,129.06 L651.70,129.06 L652.20,129.07 L652.70,129.07 L653.20,129.08 L653.70,129.08 L654.20,129.09 L654.70,129.09 L655.20,129.10 L655.70,129.11 L656.20,129.11 L656.70,129.12 L657.20,129.12 L657.70,129.13 L658.20,129.13 L658.70,129.14 L659.20,129.14 L659.70,129.15 L660.20,129.15 L660.70,129.16 L661.20,129.16 L661.70,129.16 L662.20,129.17 L662.70,129.17 L663.20,129.18 L663.70,129.18 L664.20,129.18 L664.70,129.18 L665.20,129.18 L665.70,129.18 L666.20,129.18 L666.70,129.17 L667.20,129.16 L667.70,129.14 L668.20,129.12 L668.70,129.10 L669.20,129.09 L669.70,129.07 L670.20,129.06 L670.70,129.06" fill="none" stroke="#c630c6" stroke-width="2" stroke-linejoin="round"/>
<path d="M418.70,100.90 L419.20,100.85 L419.70,100.79 L420.20,100.71 L420.70,100.63 L421.20,100.56 L421.70,100.49 L422.20,100.43 L422.70,100.38 L423.20,100.35 L423.70,100.32 L424.20,100.29 L424.70,100.28 L425.20,100.26 L425.70,100.25 L426.20,100.24 L426.70,100.23 L427.20,100.22 L427.70,100.21 L428.20,100.20 L428.70,100.20 L429.20,100.19 L429.70,100.18 L430.20,100.17 L430.70,100.16 L431.20,100.15 L431.70,100.14 L432.20,100.13 L432.70,100.12 L433.20,100.11 L433.70,100.10 L434.20,100.08 L434.70,100.07 L435.20,100.05 L435.70,100.03 L436.20,100.01 L436.70,99.99 L437.20,99.96 L437.70,99.94 L438.20,99.91 L438.70,99.88 L439.20,99.86 L439.70,99.85 L440.20,99.83 L440.70,99.82 L441.20,99.82 L441.70,99.82 L442.20,99.82 L442.70,99.82 L443.20,99.82 L443.70,99.82 L444.20,99.82 L444.70,99.81 L445.20,99.80 L445.70,99.79 L446.20,99.78 L446.70,99.77 L447.20,99.76 L447.70,99.74 L448.20,99.72 L448.70,99.71 L449.20,99.69 L449.70,99.67 L450.20,99.65 L450.70,99.63 L451.20,99.60 L451.70,99.57 L452.20,99.54 L452.70,99.49 L453.20,99.44 L453.70,99.37 L454.20,99.29 L454.70,99.20 L455.20,99.11 L455.70,99.00 L456.20,98.91 L456.70,98.82 L457.20,98.75 L457.70,98.71 L458.20,98.69 L458.70,98.69 L459.20,98.72 L459.70,98.76 L460.20,98.81 L460.70,98.86 L461.20,98.91 L461.70,98.95 L462.20,98.98 L462.70,99.00 L463.20,99.00 L463.70,99.00 L464.20,98.98 L464.70,98.97 L465.20,98.94 L465.70,98.91 L466.20,98.88 L466.70,98.85 L467.20,98.82 L467.70,98.78 L468.20,98.74 L468.70,98.69 L469.20,98.64 L469.70,98.58 L470.20,98.51 L470.70,98.43 L471.20,98.34 L471.70,98.24 L472.20,98.12 L472.70,98.01 L473.20,97.89 L473.70,97.78 L474.20,97.69 L474.70,97.62 L475.20,97.57 L475.70,97.55 L476.20,97.54 L476.70,97.56 L477.20,97.58 L477.70,97.61 L478.20,97.63 L478.70,97.64 L479.20,97.64 L479.70,97.63 L480.20,97.61 L480.70,97.58 L481.20,97.53 L481.70,97.48 L482.20,97.42 L482.70,97.36 L483.20,97.29 L483.70,97.22 L484.20,97.14 L484.70,97.05 L485.20,96.96 L485.70,96.86 L486.20,96.77 L486.70,96.67 L487.20,96.57 L487.70,96.48 L488.20,96.40 L488.70,96.33 L489.20,96.28 L489.70,96.24 L490.20,96.21 L490.70,96.20 L491.20,96.21 L491.70,96.22 L492.20,96.24 L492.70,96.27 L493.20,96.28 L493.70,96.28 L494.20,96.25 L494.70,96.20 L495.20,96.11 L495.70,96.00 L496.20,95.85 L496.70,95.69 L497.20,95.51 L497.70,95.33 L498.20,95.14 L498.70,94.96 L499.20,94.78 L499.70,94.60 L500.20,94.42 L500.70,94.24 L501.20,94.06 L501.70,93.87 L502.20,93.68 L502.70,93.48 L503.20,93.27 L503.70,93.06 L504.20,92.84 L504.70,92.60 L505.20,92.35 L505.70,92.07 L506.20,91.79 L506.70,91.48 L507.20,91.16 L507.70,90.83 L508.20,90.49 L508.70,90.14 L509.20,89.79 L509.70,89.42 L510.20,89.03 L510.70,88.62 L511.20,88.19 L511.70,87.71 L512.20,87.21 L512.70,86.66 L513.20,86.07 L513.70,85.44 L514.20,84.77 L514.70,84.03 L515.20,83.23 L515.70,82.34 L516.20,81.37 L516.70,80.32 L517.20,79.24 L517.70,78.16 L518.20,77.17 L518.70,76.31 L519.20,75.61 L519.70,75.08 L520.20,74.65 L520.70,74.28 L521.20,74.07 L521.70,74.10 L522.20,74.42 L522.70,75.01 L523.20,75.80 L523.70,76.73 L524.20,77.70 L524.70,78.65 L525.20,79.52 L525.70,80.28 L526.20,80.87 L526.70,81.28 L527.20,81.48 L527.70,81.43 L528.20,81.13 L528.70,80.58 L529.20,79.78 L529.70,78.76 L530.20,77.55 L530.70,76.21 L531.20,74.81 L531.70,73.43 L532.20,72.19 L532.70,71.20 L533.20,70.53 L533.70,70.23 L534.20,70.26 L534.70,70.54 L535.20,70.93 L535.70,71.40 L536.20,72.04 L536.70,72.91 L537.20,74.00 L537.70,75.24 L538.20,76.55 L538.70,77.86 L539.20,79.10 L539.70,80.23 L540.20,81.25 L540.70,82.17 L541.20,83.01 L541.70,83.78 L542.20,84.50 L542.70,85.18 L543.20,85.81 L543.70,86.39 L544.20,86.93 L544.70,87.44 L545.20,87.90 L545.70,88.33 L546.20,88.72 L546.70,89.10 L547.20,89.45 L547.70,89.78 L548.20,90.09 L548.70,90.39 L549.20,90.67 L549.70,90.94 L550.20,91.19 L550.70,91.43 L551.20,91.67 L551.70,91.89 L552.20,92.11 L552.70,92.32 L553.20,92.53 L553.70,92.73 L554.20,92.94 L554.70,93.14 L555.20,93.35 L555.70,93.56 L556.20,93.77 L556.70,93.99 L557.20,94.21 L557.70,94.43 L558.20,94.65 L558.70,94.86 L559.20,95.04 L559.70,95.20 L560.20,95.33 L560.70,95.43 L561.20,95.51 L561.70,95.56 L562.20,95.60 L562.70,95.63 L563.20,95.66 L563.70,95.70 L564.20,95.75 L564.70,95.81 L565.20,95.88 L565.70,95.95 L566.20,96.04 L566.70,96.13 L567.20,96.22 L567.70,96.31 L568.20,96.40 L568.70,96.49 L569.20,96.58 L569.70,96.67 L570.20,96.76 L570.70,96.84 L571.20,96.93 L571.70,97.01 L572.20,97.09 L572.70,97.17 L573.20,97.25 L573.70,97.33 L574.20,97.41 L574.70,97.49 L575.20,97.57 L575.70,97.66 L576.20,97.75 L576.70,97.85 L577.20,97.95 L577.70,98.04 L578.20,98.14 L578.70,98.23 L579.20,98.31 L579.70,98.38 L580.20,98.44 L580.70,98.48 L581.20,98.52 L581.70,98.55 L582.20,98.57 L582.70,98.58 L583.20,98.60 L583.70,98.62 L584.20,98.65 L584.70,98.68 L585.20,98.71 L585.70,98.74 L586.20,98.78 L586.70,98.82 L587.20,98.86 L587.70,98.90 L588.20,98.94 L588.70,98.98 L589.20,99.02 L589.70,99.06 L590.20,99.10 L590.70,99.14 L591.20,99.18 L591.70,99.22 L592.20,99.25 L592.70,99.29 L593.20,99.33 L593.70,99.36 L594.20,99.40 L594.70,99.44 L595.20,99.48 L595.70,99.52 L596.20,99.56 L596.70,99.60 L597.20,99.65 L597.70,99.69 L598.20,99.73 L598.70,99.78 L599.20,99.81 L599.70,99.85 L600.20,99.87 L600.70,99.90 L601.20,99.92 L601.70,99.93 L602.20,99.94 L602.70,99.95 L603.20,99.96 L603.70,99.98 L604.20,99.99 L604.70,100.01 L605.20,100.02 L605.70,100.04 L606.20,100.06 L606.70,100.08 L607.20,100.10 L607.70,100.12 L608.20,100.14 L608.70,100.16 L609.20,100.19 L609.70,100.21 L610.20,100.23 L610.70,100.25 L611.20,100.27 L611.70,100.29 L612.20,100.30 L612.70,100.32 L613.20,100.34 L613.70,100.36 L614.20,100.38 L614.70,100.40 L615.20,100.42 L615.70,100.44 L616.20,100.45 L616.70,100.47 L617.20,100.49 L617.70,100.51 L618.20,100.53 L618.70,100.55 L619.20,100.57 L619.70,100.58 L620.20,100.60 L620.70,100.61 L621.20,100.63 L621.70,100.64 L622.20,100.65 L622.70,100.66 L623.20,100.67 L623.70,100.69 L624.20,100.70 L624.70,100.71 L625.20,100.72 L625.70,100.73 L626.20,100.75 L626.70,100.76 L627.20,100.77 L627.70,100.79 L628.20,100.80 L628.70,100.81 L629.20,100.82 L629.70,100.83 L630.20,100.85 L630.70,100.86 L631.20,100.87 L631.70,100.88 L632.20,100.89 L632.70,100.90 L633.20,100.92 L633.70,100.93 L634.20,100.94 L634.70,100.95 L635.20,100.96 L635.70,100.97 L636.20,100.98 L636.70,100.99 L637.20,101.00 L637.70,101.01 L638.20,101.02 L638.70,101.03 L639.20,101.04 L639.70,101.05 L640.20,101.06 L640.70,101.07 L641.20,101.08 L641.70,101.09 L642.20,101.10 L642.70,101.11 L643.20,101.12 L643.70,101.12 L644.20,101.13 L644.70,101.14 L645.20,101.15 L645.70,101.16 L646.20,101.17 L646.70,101.18 L647.20,101.18 L647.70,101.19 L648.20,101.20 L648.70,101.21 L649.20,101.22 L649.70,101.23 L650.20,101.23 L650.70,101.24 L651.20,101.25 L651.70,101.26 L652.20,101.26 L652.70,101.27 L653.20,101.28 L653.70,101.29 L654.20,101.29 L654.70,101.30 L655.20,101.31 L655.70,101.32 L656.20,101.32 L656.70,101.33 L657.20,101.34 L657.70,101.34 L658.20,101.35 L658.70,101.36 L659.20,101.36 L659.70,101.37 L660.20,101.38 L660.70,101.38 L661.20,101.39 L661.70,101.40 L662.20,101.40 L662.70,101.41 L663.20,101.41 L663.70,101.42 L664.20,101.42 L664.70,101.42 L665.20,101.42 L665.70,101.42 L666.20,101.41 L666.70,101.39 L667.20,101.37 L667.70,101.34 L668.20,101.31 L668.70,101.28 L669.20,101.25 L669.70,101.22 L670.20,101.20 L670.70,101.19" fill="none" stroke="#6c7818" stroke-width="2" stroke-linejoin="round"/>
<path d="M418.70,72.87 L419.20,72.85 L419.70,72.83 L420.20,72.81 L420.70,72.79 L421.20,72.77 L421.70,72.75 L422.20,72.73 L422.70,72.71 L423.20,72.69 L423.70,72.67 L424.20,72.65 L424.70,72.62 L425.20,72.60 L425.70,72.58 L426.20,72.56 L426.70,72.54 L427.20,72.52 L427.70,72.49 L428.20,72.47 L428.70,72.45 L429.20,72.43 L429.70,72.41 L430.20,72.38 L430.70,72.36 L431.20,72.34 L431.70,72.32 L432.20,72.29 L432.70,72.27 L433.20,72.25 L433.70,72.22 L434.20,72.20 L434.70,72.18 L435.20,72.15 L435.70,72.13 L436.20,72.11 L436.70,72.08 L437.20,72.06 L437.70,72.03 L438.20,72.01 L438.70,71.98 L439.20,71.96 L439.70,71.94 L440.20,71.91 L440.70,71.88 L441.20,71.86 L441.70,71.83 L442.20,71.81 L442.70,71.78 L443.20,71.75 L443.70,71.73 L444.20,71.70 L444.70,71.68 L445.20,71.65 L445.70,71.62 L446.20,71.60 L446.70,71.57 L447.20,71.54 L447.70,71.51 L448.20,71.48 L448.70,71.45 L449.20,71.42 L449.70,71.38 L450.20,71.35 L450.70,71.32 L451.20,71.28 L451.70,71.25 L452.20,71.22 L452.70,71.18 L453.20,71.15 L453.70,71.12 L454.20,71.09 L454.70,71.06 L455.20,71.03 L455.70,71.00 L456.20,70.98 L456.70,70.95 L457.20,70.93 L457.70,70.91 L458.20,70.89 L458.70,70.87 L459.20,70.86 L459.70,70.85 L460.20,70.85 L460.70,70.85 L461.20,70.84 L461.70,70.84 L462.20,70.84 L462.70,70.84 L463.20,70.84 L463.70,70.83 L464.20,70.83 L464.70,70.82 L465.20,70.81 L465.70,70.80 L466.20,70.79 L466.70,70.78 L467.20,70.77 L467.70,70.76 L468.20,70.75 L468.70,70.74 L469.20,70.73 L469.70,70.72 L470.20,70.71 L470.70,70.70 L471.20,70.68 L471.70,70.67 L472.20,70.66 L472.70,70.64 L473.20,70.63 L473.70,70.62 L474.20,70.60 L474.70,70.58 L475.20,70.57 L475.70,70.55 L476.20,70.53 L476.70,70.51 L477.20,70.49 L477.70,70.47 L478.20,70.45 L478.70,70.43 L479.20,70.41 L479.70,70.39 L480.20,70.37 L480.70,70.34 L481.20,70.32 L481.70,70.29 L482.20,70.27 L482.70,70.24 L483.20,70.21 L483.70,70.18 L484.20,70.15 L484.70,70.12 L485.20,70.09 L485.70,70.06 L486.20,70.04 L486.70,70.01 L487.20,69.98 L487.70,69.95 L488.20,69.92 L488.70,69.89 L489.20,69.86 L489.70,69.83 L490.20,69.80 L490.70,69.78 L491.20,69.75 L491.70,69.72 L492.20,69.69 L492.70,69.66 L493.20,69.63 L493.70,69.60 L494.20,69.57 L494.70,69.53 L495.20,69.49 L495.70,69.45 L496.20,69.41 L496.70,69.37 L497.20,69.32 L497.70,69.27 L498.20,69.22 L498.70,69.16 L499.20,69.10 L499.70,69.04 L500.20,68.97 L500.70,68.90 L501.20,68.82 L501.70,68.73 L502.20,68.64 L502.70,68.54 L503.20,68.44 L503.70,68.33 L504.20,68.22 L504.70,68.11 L505.20,67.99 L505.70,67.88 L506.20,67.76 L506.70,67.64 L507.20,67.52 L507.70,67.40 L508.20,67.28 L508.70,67.16 L509.20,67.04 L509.70,66.93 L510.20,66.82 L510.70,66.71 L511.20,66.60 L511.70,66.50 L512.20,66.40 L512.70,66.31 L513.20,66.22 L513.70,66.14 L514.20,66.05 L514.70,65.96 L515.20,65.86 L515.70,65.74 L516.20,65.61 L516.70,65.46 L517.20,65.30 L517.70,65.12 L518.20,64.93 L518.70,64.74 L519.20,64.53 L519.70,64.33 L520.20,64.11 L520.70,63.87 L521.20,63.59 L521.70,63.27 L522.20,62.93 L522.70,62.56 L523.20,62.17 L523.70,61.75 L524.20,61.32 L524.70,60.85 L525.20,60.32 L525.70,59.75 L526.20,59.12 L526.70,58.44 L527.20,57.70 L527.70,56.90 L528.20,56.06 L528.70,55.18 L529.20,54.27 L529.70,53.35 L530.20,52.42 L530.70,51.37 L531.20,50.26 L531.70,49.13 L532.20,48.07 L532.70,47.16 L533.20,46.45 L533.70,45.93 L534.20,45.58 L534.70,45.38 L535.20,45.28 L535.70,45.28 L536.20,45.33 L536.70,45.46 L537.20,45.73 L537.70,46.20 L538.20,46.92 L538.70,47.93 L539.20,49.08 L539.70,50.30 L540.20,51.56 L540.70,52.84 L541.20,54.13 L541.70,55.60 L542.20,57.14 L542.70,58.60 L543.20,59.80 L543.70,60.17 L544.20,59.48 L544.70,58.11 L545.20,56.42 L545.70,54.72 L546.20,52.81 L546.70,50.75 L547.20,48.69 L547.70,46.79 L548.20,45.19 L548.70,43.70 L549.20,42.36 L549.70,41.24 L550.20,40.45 L550.70,40.06 L551.20,40.16 L551.70,40.53 L552.20,41.06 L552.70,41.72 L553.20,42.51 L553.70,43.41 L554.20,44.41 L554.70,45.42 L555.20,46.43 L555.70,47.45 L556.20,48.47 L556.70,49.49 L557.20,50.51 L557.70,51.54 L558.20,52.58 L558.70,53.62 L559.20,54.66 L559.70,55.69 L560.20,56.69 L560.70,57.57 L561.20,58.32 L561.70,58.96 L562.20,59.49 L562.70,59.95 L563.20,60.36 L563.70,60.74 L564.20,61.11 L564.70,61.45 L565.20,61.78 L565.70,62.10 L566.20,62.38 L566.70,62.65 L567.20,62.90 L567.70,63.14 L568.20,63.38 L568.70,63.61 L569.20,63.85 L569.70,64.07 L570.20,64.29 L570.70,64.50 L571.20,64.70 L571.70,64.89 L572.20,65.07 L572.70,65.24 L573.20,65.41 L573.70,65.58 L574.20,65.75 L574.70,65.91 L575.20,66.07 L575.70,66.23 L576.20,66.38 L576.70,66.52 L577.20,66.66 L577.70,66.79 L578.20,66.92 L578.70,67.03 L579.20,67.14 L579.70,67.24 L580.20,67.34 L580.70,67.43 L581.20,67.51 L581.70,67.60 L582.20,67.68 L582.70,67.76 L583.20,67.84 L583.70,67.92 L584.20,67.99 L584.70,68.06 L585.20,68.12 L585.70,68.19 L586.20,68.24 L586.70,68.30 L587.20,68.35 L587.70,68.40 L588.20,68.45 L588.70,68.51 L589.20,68.56 L589.70,68.61 L590.20,68.66 L590.70,68.71 L591.20,68.76 L591.70,68.81 L592.20,68.86 L592.70,68.91 L593.20,68.96 L593.70,69.01 L594.20,69.06 L594.70,69.11 L595.20,69.15 L595.70,69.20 L596.20,69.25 L596.70,69.30 L597.20,69.35 L597.70,69.39 L598.20,69.44 L598.70,69.48 L599.20,69.53 L599.70,69.57 L600.20,69.62 L600.70,69.66 L601.20,69.71 L601.70,69.75 L602.20,69.80 L602.70,69.84 L603.20,69.89 L603.70,69.93 L604.20,69.97 L604.70,70.01 L605.20,70.05 L605.70,70.09 L606.20,70.13 L606.70,70.16 L607.20,70.19 L607.70,70.22 L608.20,70.25 L608.70,70.28 L609.20,70.31 L609.70,70.34 L610.20,70.37 L610.70,70.40 L611.20,70.42 L611.70,70.45 L612.20,70.48 L612.70,70.50 L613.20,70.53 L613.70,70.56 L614.20,70.58 L614.70,70.61 L615.20,70.64 L615.70,70.66 L616.20,70.69 L616.70,70.72 L617.20,70.74 L617.70,70.77 L618.20,70.80 L618.70,70.83 L619.20,70.85 L619.70,70.88 L620.20,70.91 L620.70,70.94 L621.20,70.97 L621.70,71.00 L622.20,71.03 L622.70,71.06 L623.20,71.09 L623.70,71.12 L624.20,71.15 L624.70,71.18 L625.20,71.21 L625.70,71.24 L626.20,71.27 L626.70,71.30 L627.20,71.33 L627.70,71.36 L628.20,71.38 L628.70,71.41 L629.20,71.44 L629.70,71.46 L630.20,71.49 L630.70,71.51 L631.20,71.54 L631.70,71.56 L632.20,71.58 L632.70,71.61 L633.20,71.63 L633.70,71.65 L634.20,71.68 L634.70,71.70 L635.20,71.72 L635.70,71.74 L636.20,71.76 L636.70,71.78 L637.20,71.81 L637.70,71.83 L638.20,71.85 L638.70,71.87 L639.20,71.89 L639.70,71.91 L640.20,71.93 L640.70,71.95 L641.20,71.97 L641.70,71.98 L642.20,72.00 L642.70,72.02 L643.20,72.04 L643.70,72.06 L644.20,72.08 L644.70,72.09 L645.20,72.11 L645.70,72.13 L646.20,72.15 L646.70,72.16 L647.20,72.18 L647.70,72.19 L648.20,72.21 L648.70,72.23 L649.20,72.24 L649.70,72.26 L650.20,72.27 L650.70,72.29 L651.20,72.30 L651.70,72.32 L652.20,72.34 L652.70,72.35 L653.20,72.36 L653.70,72.38 L654.20,72.39 L654.70,72.41 L655.20,72.42 L655.70,72.44 L656.20,72.45 L656.70,72.46 L657.20,72.48 L657.70,72.49 L658.20,72.50 L658.70,72.51 L659.20,72.53 L659.70,72.54 L660.20,72.55 L660.70,72.57 L661.20,72.58 L661.70,72.59 L662.20,72.60 L662.70,72.62 L663.20,72.63 L663.70,72.64 L664.20,72.65 L664.70,72.66 L665.20,72.68 L665.70,72.69 L666.20,72.70 L666.70,72.71 L667.20,72.72 L667.70,72.73 L668.20,72.74 L668.70,72.75 L669.20,72.76 L669.70,72.77 L670.20,72.78 L670.70,72.79" fill="none" stroke="#ef7d26" stroke-width="2" stroke-linejoin="round"/>
<path d="M63.70,554.48 L64.20,554.45 L64.70,554.43 L65.20,554.41 L65.70,554.39 L66.20,554.36 L66.70,554.34 L67.20,554.31 L67.70,554.28 L68.20,554.26 L68.70,554.23 L69.20,554.19 L69.70,554.16 L70.20,554.13 L70.70,554.10 L71.20,554.06 L71.70,554.02 L72.20,553.99 L72.70,553.95 L73.20,553.91 L73.70,553.87 L74.20,553.83 L74.70,553.79 L75.20,553.74 L75.70,553.69 L76.20,553.64 L76.70,553.59 L77.20,553.54 L77.70,553.48 L78.20,553.42 L78.70,553.37 L79.20,553.31 L79.70,553.26 L80.20,553.21 L80.70,553.16 L81.20,553.11 L81.70,553.07 L82.20,553.02 L82.70,552.98 L83.20,552.93 L83.70,552.88 L84.20,552.83 L84.70,552.77 L85.20,552.71 L85.70,552.65 L86.20,552.59 L86.70,552.52 L87.20,552.46 L87.70,552.39 L88.20,552.31 L88.70,552.24 L89.20,552.16 L89.70,552.09 L90.20,552.01 L90.70,551.93 L91.20,551.84 L91.70,551.76 L92.20,551.67 L92.70,551.58 L93.20,551.49 L93.70,551.40 L94.20,551.31 L94.70,551.22 L95.20,551.13 L95.70,551.03 L96.20,550.94 L96.70,550.85 L97.20,550.75 L97.70,550.66 L98.20,550.56 L98.70,550.46 L99.20,550.35 L99.70,550.23 L100.20,550.10 L100.70,549.97 L101.20,549.82 L101.70,549.67 L102.20,549.51 L102.70,549.35 L103.20,549.17 L103.70,549.00 L104.20,548.82 L104.70,548.63 L105.20,548.44 L105.70,548.25 L106.20,548.05 L106.70,547.85 L107.20,547.65 L107.70,547.45 L108.20,547.24 L108.70,547.03 L109.20,546.82 L109.70,546.60 L110.20,546.37 L110.70,546.11 L111.20,545.84 L111.70,545.54 L112.20,545.22 L112.70,544.87 L113.20,544.50 L113.70,544.11 L114.20,543.69 L114.70,543.26 L115.20,542.80 L115.70,542.32 L116.20,541.82 L116.70,541.29 L117.20,540.73 L117.70,540.14 L118.20,539.52 L118.70,538.88 L119.20,538.21 L119.70,537.53 L120.20,536.85 L120.70,536.17 L121.20,535.52 L121.70,534.90 L122.20,534.34 L122.70,533.85 L123.20,533.44 L123.70,533.09 L124.20,532.81 L124.70,532.64 L125.20,532.60 L125.70,532.69 L126.20,532.89 L126.70,533.19 L127.20,533.53 L127.70,533.89 L128.20,534.24 L128.70,534.53 L129.20,534.74 L129.70,534.85 L130.20,534.85 L130.70,534.75 L131.20,534.54 L131.70,534.23 L132.20,533.86 L132.70,533.43 L133.20,532.96 L133.70,532.48 L134.20,532.01 L134.70,531.56 L135.20,531.15 L135.70,530.80 L136.20,530.55 L136.70,530.40 L137.20,530.38 L137.70,530.50 L138.20,530.80 L138.70,531.24 L139.20,531.80 L139.70,532.45 L140.20,533.14 L140.70,533.87 L141.20,534.60 L141.70,535.33 L142.20,536.05 L142.70,536.76 L143.20,537.44 L143.70,538.11 L144.20,538.77 L144.70,539.41 L145.20,540.03 L145.70,540.63 L146.20,541.21 L146.70,541.76 L147.20,542.29 L147.70,542.78 L148.20,543.25 L148.70,543.69 L149.20,544.10 L149.70,544.49 L150.20,544.85 L150.70,545.18 L151.20,545.49 L151.70,545.78 L152.20,546.05 L152.70,546.30 L153.20,546.54 L153.70,546.77 L154.20,547.00 L154.70,547.23 L155.20,547.46 L155.70,547.70 L156.20,547.95 L156.70,548.21 L157.20,548.46 L157.70,548.71 L158.20,548.96 L158.70,549.19 L159.20,549.41 L159.70,549.60 L160.20,549.77 L160.70,549.93 L161.20,550.06 L161.70,550.18 L162.20,550.29 L162.70,550.39 L163.20,550.49 L163.70,550.58 L164.20,550.68 L164.70,550.78 L165.20,550.88 L165.70,550.98 L166.20,551.08 L166.70,551.18 L167.20,551.28 L167.70,551.38 L168.20,551.48 L168.70,551.57 L169.20,551.66 L169.70,551.76 L170.20,551.85 L170.70,551.94 L171.20,552.03 L171.70,552.11 L172.20,552.20 L172.70,552.29 L173.20,552.37 L173.70,552.45 L174.20,552.53 L174.70,552.60 L175.20,552.68 L175.70,552.75 L176.20,552.82 L176.70,552.89 L177.20,552.96 L177.70,553.03 L178.20,553.10 L178.70,553.17 L179.20,553.23 L179.70,553.30 L180.20,553.37 L180.70,553.43 L181.20,553.49 L181.70,553.55 L182.20,553.60 L182.70,553.65 L183.20,553.69 L183.70,553.73 L184.20,553.77 L184.70,553.81 L185.20,553.85 L185.70,553.88 L186.20,553.92 L186.70,553.96 L187.20,554.00 L187.70,554.04 L188.20,554.07 L188.70,554.11 L189.20,554.15 L189.70,554.19 L190.20,554.23 L190.70,554.26 L191.20,554.30 L191.70,554.33 L192.20,554.37 L192.70,554.40 L193.20,554.43 L193.70,554.47 L194.20,554.50 L194.70,554.53 L195.20,554.56 L195.70,554.59 L196.20,554.62 L196.70,554.65 L197.20,554.68 L197.70,554.71 L198.20,554.74 L198.70,554.76 L199.20,554.79 L199.70,554.82 L200.20,554.84 L200.70,554.87 L201.20,554.89 L201.70,554.92 L202.20,554.94 L202.70,554.96 L203.20,554.99 L203.70,555.01 L204.20,555.03 L204.70,555.05 L205.20,555.08 L205.70,555.10 L206.20,555.12 L206.70,555.14 L207.20,555.16 L207.70,555.18 L208.20,555.20 L208.70,555.22 L209.20,555.24 L209.70,555.26 L210.20,555.27 L210.70,555.29 L211.20,555.31 L211.70,555.33 L212.20,555.35 L212.70,555.36 L213.20,555.38 L213.70,555.40 L214.20,555.41 L214.70,555.43 L215.20,555.44 L215.70,555.46 L216.20,555.47 L216.70,555.49 L217.20,555.50 L217.70,555.52 L218.20,555.53 L218.70,555.55 L219.20,555.56 L219.70,555.58 L220.20,555.59 L220.70,555.60 L221.20,555.62 L221.70,555.63 L222.20,555.64 L222.70,555.66 L223.20,555.67 L223.70,555.68 L224.20,555.69 L224.70,555.70 L225.20,555.72 L225.70,555.73 L226.20,555.74 L226.70,555.75 L227.20,555.76 L227.70,555.77 L228.20,555.78 L228.70,555.80 L229.20,555.81 L229.70,555.82 L230.20,555.83 L230.70,555.84 L231.20,555.85 L231.70,555.86 L232.20,555.87 L232.70,555.88 L233.20,555.89 L233.70,555.90 L234.20,555.91 L234.70,555.92 L235.20,555.92 L235.70,555.93 L236.20,555.94 L236.70,555.95 L237.20,555.96 L237.70,555.97 L238.20,555.98 L238.70,555.99 L239.20,555.99 L239.70,556.00 L240.20,556.01 L240.70,556.02 L241.20,556.03 L241.70,556.03 L242.20,556.04 L242.70,556.05 L243.20,556.06 L243.70,556.07 L244.20,556.07 L244.70,556.08 L245.20,556.09 L245.70,556.10 L246.20,556.10 L246.70,556.11 L247.20,556.12 L247.70,556.12 L248.20,556.13 L248.70,556.14 L249.20,556.14 L249.70,556.15 L250.20,556.16 L250.70,556.16 L251.20,556.17 L251.70,556.18 L252.20,556.18 L252.70,556.19 L253.20,556.19 L253.70,556.20 L254.20,556.21 L254.70,556.21 L255.20,556.22 L255.70,556.22 L256.20,556.23 L256.70,556.24 L257.20,556.24 L257.70,556.25 L258.20,556.25 L258.70,556.26 L259.20,556.26 L259.70,556.27 L260.20,556.27 L260.70,556.28 L261.20,556.29 L261.70,556.29 L262.20,556.30 L262.70,556.30 L263.20,556.31 L263.70,556.31 L264.20,556.32 L264.70,556.32 L265.20,556.33 L265.70,556.33 L266.20,556.34 L266.70,556.34 L267.20,556.35 L267.70,556.35 L268.20,556.35 L268.70,556.36 L269.20,556.36 L269.70,556.37 L270.20,556.37 L270.70,556.38 L271.20,556.38 L271.70,556.39 L272.20,556.39 L272.70,556.39 L273.20,556.40 L273.70,556.40 L274.20,556.41 L274.70,556.41 L275.20,556.42 L275.70,556.42 L276.20,556.42 L276.70,556.43 L277.20,556.43 L277.70,556.44 L278.20,556.44 L278.70,556.44 L279.20,556.45 L279.70,556.45 L280.20,556.46 L280.70,556.46 L281.20,556.46 L281.70,556.47 L282.20,556.47 L282.70,556.47 L283.20,556.48 L283.70,556.48 L284.20,556.48 L284.70,556.49 L285.20,556.49 L285.70,556.50 L286.20,556.50 L286.70,556.50 L287.20,556.51 L287.70,556.51 L288.20,556.51 L288.70,556.52 L289.20,556.52 L289.70,556.52 L290.20,556.53 L290.70,556.53 L291.20,556.53 L291.70,556.54 L292.20,556.54 L292.70,556.54 L293.20,556.54 L293.70,556.55 L294.20,556.55 L294.70,556.55 L295.20,556.56 L295.70,556.56 L296.20,556.56 L296.70,556.57 L297.20,556.57 L297.70,556.57 L298.20,556.58 L298.70,556.58 L299.20,556.58 L299.70,556.58 L300.20,556.59 L300.70,556.59 L301.20,556.59 L301.70,556.60 L302.20,556.60 L302.70,556.60 L303.20,556.60 L303.70,556.61 L304.20,556.61 L304.70,556.61 L305.20,556.61 L305.70,556.62 L306.20,556.62 L306.70,556.62 L307.20,556.62 L307.70,556.63 L308.20,556.63 L308.70,556.63 L309.20,556.63 L309.70,556.64 L310.20,556.64 L310.70,556.64 L311.20,556.64 L311.70,556.64 L312.20,556.63 L312.70,556.63 L313.20,556.63 L313.70,556.62 L314.20,556.62 L314.70,556.62 L315.20,556.61 L315.70,556.61 L316.20,556.62" fill="none" stroke="#141414" stroke-width="2" stroke-linejoin="round"/>
<path d="M63.70,526.34 L64.20,526.32 L64.70,526.29 L65.20,526.25 L65.70,526.22 L66.20,526.19 L66.70,526.16 L67.20,526.13 L67.70,526.10 L68.20,526.07 L68.70,526.04 L69.20,526.01 L69.70,525.99 L70.20,525.96 L70.70,525.93 L71.20,525.91 L71.70,525.88 L72.20,525.85 L72.70,525.82 L73.20,525.79 L73.70,525.76 L74.20,525.73 L74.70,525.69 L75.20,525.66 L75.70,525.62 L76.20,525.58 L76.70,525.53 L77.20,525.49 L77.70,525.44 L78.20,525.39 L78.70,525.34 L79.20,525.30 L79.70,525.26 L80.20,525.22 L80.70,525.18 L81.20,525.15 L81.70,525.12 L82.20,525.09 L82.70,525.06 L83.20,525.03 L83.70,525.00 L84.20,524.96 L84.70,524.92 L85.20,524.88 L85.70,524.84 L86.20,524.79 L86.70,524.74 L87.20,524.69 L87.70,524.64 L88.20,524.58 L88.70,524.52 L89.20,524.46 L89.70,524.39 L90.20,524.32 L90.70,524.24 L91.20,524.16 L91.70,524.07 L92.20,523.98 L92.70,523.88 L93.20,523.79 L93.70,523.69 L94.20,523.60 L94.70,523.52 L95.20,523.44 L95.70,523.37 L96.20,523.30 L96.70,523.24 L97.20,523.19 L97.70,523.13 L98.20,523.07 L98.70,523.01 L99.20,522.94 L99.70,522.88 L100.20,522.81 L100.70,522.75 L101.20,522.68 L101.70,522.62 L102.20,522.56 L102.70,522.50 L103.20,522.43 L103.70,522.36 L104.20,522.26 L104.70,522.15 L105.20,522.01 L105.70,521.85 L106.20,521.67 L106.70,521.47 L107.20,521.26 L107.70,521.04 L108.20,520.82 L108.70,520.59 L109.20,520.36 L109.70,520.14 L110.20,519.91 L110.70,519.69 L111.20,519.46 L111.70,519.22 L112.20,518.98 L112.70,518.72 L113.20,518.46 L113.70,518.19 L114.20,517.90 L114.70,517.60 L115.20,517.29 L115.70,516.96 L116.20,516.62 L116.70,516.26 L117.20,515.88 L117.70,515.48 L118.20,515.05 L118.70,514.60 L119.20,514.12 L119.70,513.61 L120.20,513.06 L120.70,512.48 L121.20,511.87 L121.70,511.21 L122.20,510.52 L122.70,509.80 L123.20,509.05 L123.70,508.27 L124.20,507.47 L124.70,506.65 L125.20,505.81 L125.70,504.98 L126.20,504.14 L126.70,503.33 L127.20,502.55 L127.70,501.83 L128.20,501.19 L128.70,500.68 L129.20,500.33 L129.70,500.20 L130.20,500.22 L130.70,500.35 L131.20,500.57 L131.70,500.83 L132.20,501.13 L132.70,501.43 L133.20,501.71 L133.70,501.96 L134.20,502.16 L134.70,502.30 L135.20,502.35 L135.70,502.32 L136.20,502.18 L136.70,501.93 L137.20,501.58 L137.70,501.11 L138.20,500.56 L138.70,499.93 L139.20,499.27 L139.70,498.60 L140.20,497.99 L140.70,497.47 L141.20,497.10 L141.70,496.93 L142.20,497.00 L142.70,497.42 L143.20,498.13 L143.70,499.00 L144.20,499.97 L144.70,500.99 L145.20,502.01 L145.70,503.03 L146.20,504.01 L146.70,504.97 L147.20,505.90 L147.70,506.79 L148.20,507.65 L148.70,508.47 L149.20,509.26 L149.70,510.01 L150.20,510.72 L150.70,511.38 L151.20,512.00 L151.70,512.58 L152.20,513.11 L152.70,513.60 L153.20,514.06 L153.70,514.49 L154.20,514.88 L154.70,515.26 L155.20,515.61 L155.70,515.96 L156.20,516.30 L156.70,516.63 L157.20,516.96 L157.70,517.29 L158.20,517.60 L158.70,517.91 L159.20,518.21 L159.70,518.49 L160.20,518.76 L160.70,519.01 L161.20,519.25 L161.70,519.49 L162.20,519.71 L162.70,519.93 L163.20,520.14 L163.70,520.34 L164.20,520.53 L164.70,520.70 L165.20,520.86 L165.70,521.00 L166.20,521.13 L166.70,521.24 L167.20,521.34 L167.70,521.44 L168.20,521.54 L168.70,521.64 L169.20,521.74 L169.70,521.84 L170.20,521.95 L170.70,522.06 L171.20,522.17 L171.70,522.28 L172.20,522.39 L172.70,522.50 L173.20,522.61 L173.70,522.71 L174.20,522.82 L174.70,522.92 L175.20,523.01 L175.70,523.10 L176.20,523.19 L176.70,523.27 L177.20,523.35 L177.70,523.42 L178.20,523.48 L178.70,523.53 L179.20,523.58 L179.70,523.63 L180.20,523.68 L180.70,523.72 L181.20,523.78 L181.70,523.84 L182.20,523.91 L182.70,523.99 L183.20,524.08 L183.70,524.17 L184.20,524.27 L184.70,524.36 L185.20,524.46 L185.70,524.55 L186.20,524.63 L186.70,524.71 L187.20,524.78 L187.70,524.85 L188.20,524.91 L188.70,524.97 L189.20,525.03 L189.70,525.08 L190.20,525.14 L190.70,525.19 L191.20,525.24 L191.70,525.28 L192.20,525.33 L192.70,525.38 L193.20,525.42 L193.70,525.47 L194.20,525.51 L194.70,525.55 L195.20,525.60 L195.70,525.64 L196.20,525.68 L196.70,525.72 L197.20,525.76 L197.70,525.80 L198.20,525.83 L198.70,525.87 L199.20,525.91 L199.70,525.94 L200.20,525.98 L200.70,526.01 L201.20,526.05 L201.70,526.08 L202.20,526.11 L202.70,526.14 L203.20,526.18 L203.70,526.21 L204.20,526.24 L204.70,526.27 L205.20,526.30 L205.70,526.33 L206.20,526.35 L206.70,526.38 L207.20,526.41 L207.70,526.44 L208.20,526.46 L208.70,526.49 L209.20,526.52 L209.70,526.54 L210.20,526.57 L210.70,526.59 L211.20,526.61 L211.70,526.64 L212.20,526.66 L212.70,526.69 L213.20,526.71 L213.70,526.73 L214.20,526.75 L214.70,526.77 L215.20,526.80 L215.70,526.82 L216.20,526.84 L216.70,526.86 L217.20,526.88 L217.70,526.90 L218.20,526.92 L218.70,526.94 L219.20,526.96 L219.70,526.97 L220.20,526.99 L220.70,527.01 L221.20,527.03 L221.70,527.05 L222.20,527.06 L222.70,527.08 L223.20,527.10 L223.70,527.11 L224.20,527.13 L224.70,527.15 L225.20,527.16 L225.70,527.18 L226.20,527.19 L226.70,527.21 L227.20,527.23 L227.70,527.24 L228.20,527.26 L228.70,527.27 L229.20,527.28 L229.70,527.30 L230.20,527.31 L230.70,527.33 L231.20,527.34 L231.70,527.35 L232.20,527.37 L232.70,527.38 L233.20,527.39 L233.70,527.41 L234.20,527.42 L234.70,527.43 L235.20,527.44 L235.70,527.46 L236.20,527.47 L236.70,527.48 L237.20,527.49 L237.70,527.50 L238.20,527.52 L238.70,527.53 L239.20,527.54 L239.70,527.55 L240.20,527.56 L240.70,527.57 L241.20,527.58 L241.70,527.59 L242.20,527.60 L242.70,527.61 L243.20,527.62 L243.70,527.63 L244.20,527.64 L244.70,527.65 L245.20,527.66 L245.70,527.67 L246.20,527.68 L246.70,527.69 L247.20,527.70 L247.70,527.71 L248.20,527.72 L248.70,527.73 L249.20,527.74 L249.70,527.75 L250.20,527.76 L250.70,527.77 L251.20,527.77 L251.70,527.78 L252.20,527.79 L252.70,527.80 L253.20,527.81 L253.70,527.82 L254.20,527.83 L254.70,527.83 L255.20,527.84 L255.70,527.85 L256.20,527.86 L256.70,527.86 L257.20,527.87 L257.70,527.88 L258.20,527.89 L258.70,527.90 L259.20,527.90 L259.70,527.91 L260.20,527.92 L260.70,527.92 L261.20,527.93 L261.70,527.94 L262.20,527.95 L262.70,527.95 L263.20,527.96 L263.70,527.97 L264.20,527.97 L264.70,527.98 L265.20,527.99 L265.70,527.99 L266.20,528.00 L266.70,528.01 L267.20,528.01 L267.70,528.02 L268.20,528.03 L268.70,528.03 L269.20,528.04 L269.70,528.05 L270.20,528.05 L270.70,528.06 L271.20,528.06 L271.70,528.07 L272.20,528.08 L272.70,528.08 L273.20,528.09 L273.70,528.09 L274.20,528.10 L274.70,528.10 L275.20,528.11 L275.70,528.12 L276.20,528.12 L276.70,528.13 L277.20,528.13 L277.70,528.14 L278.20,528.14 L278.70,528.15 L279.20,528.15 L279.70,528.16 L280.20,528.17 L280.70,528.17 L281.20,528.18 L281.70,528.18 L282.20,528.19 L282.70,528.19 L283.20,528.20 L283.70,528.20 L284.20,528.21 L284.70,528.21 L285.20,528.22 L285.70,528.22 L286.20,528.23 L286.70,528.23 L287.20,528.24 L287.70,528.24 L288.20,528.25 L288.70,528.25 L289.20,528.25 L289.70,528.26 L290.20,528.26 L290.70,528.27 L291.20,528.27 L291.70,528.28 L292.20,528.28 L292.70,528.29 L293.20,528.29 L293.70,528.30 L294.20,528.30 L294.70,528.30 L295.20,528.31 L295.70,528.31 L296.20,528.32 L296.70,528.32 L297.20,528.33 L297.70,528.33 L298.20,528.33 L298.70,528.34 L299.20,528.34 L299.70,528.35 L300.20,528.35 L300.70,528.35 L301.20,528.36 L301.70,528.36 L302.20,528.37 L302.70,528.37 L303.20,528.37 L303.70,528.38 L304.20,528.38 L304.70,528.39 L305.20,528.39 L305.70,528.39 L306.20,528.40 L306.70,528.40 L307.20,528.41 L307.70,528.41 L308.20,528.41 L308.70,528.42 L309.20,528.42 L309.70,528.42 L310.20,528.43 L310.70,528.43 L311.20,528.44 L311.70,528.44 L312.20,528.45 L312.70,528.46 L313.20,528.46 L313.70,528.47 L314.20,528.47 L314.70,528.48 L315.20,528.49 L315.70,528.49 L316.20,528.49" fill="none" stroke="#cc2424" stroke-width="2" stroke-linejoin="round"/>
<path d="M63.70,498.05 L64.20,498.02 L64.70,498.00 L65.20,497.97 L65.70,497.94 L66.20,497.91 L66.70,497.89 L67.20,497.86 L67.70,497.84 L68.20,497.81 L68.70,497.79 L69.20,497.77 L69.70,497.75 L70.20,497.73 L70.70,497.71 L71.20,497.69 L71.70,497.67 L72.20,497.65 L72.70,497.63 L73.20,497.61 L73.70,497.58 L74.20,497.56 L74.70,497.53 L75.20,497.50 L75.70,497.47 L76.20,497.43 L76.70,497.39 L77.20,497.35 L77.70,497.31 L78.20,497.27 L78.70,497.23 L79.20,497.19 L79.70,497.16 L80.20,497.13 L80.70,497.11 L81.20,497.09 L81.70,497.07 L82.20,497.05 L82.70,497.04 L83.20,497.02 L83.70,497.00 L84.20,496.98 L84.70,496.96 L85.20,496.93 L85.70,496.90 L86.20,496.87 L86.70,496.83 L87.20,496.79 L87.70,496.76 L88.20,496.72 L88.70,496.68 L89.20,496.63 L89.70,496.59 L90.20,496.55 L90.70,496.50 L91.20,496.45 L91.70,496.41 L92.20,496.36 L92.70,496.31 L93.20,496.25 L93.70,496.20 L94.20,496.14 L94.70,496.08 L95.20,496.01 L95.70,495.94 L96.20,495.87 L96.70,495.79 L97.20,495.71 L97.70,495.63 L98.20,495.54 L98.70,495.46 L99.20,495.37 L99.70,495.29 L100.20,495.22 L100.70,495.15 L101.20,495.08 L101.70,495.02 L102.20,494.95 L102.70,494.89 L103.20,494.82 L103.70,494.75 L104.20,494.68 L104.70,494.60 L105.20,494.52 L105.70,494.43 L106.20,494.35 L106.70,494.26 L107.20,494.16 L107.70,494.07 L108.20,493.97 L108.70,493.86 L109.20,493.75 L109.70,493.63 L110.20,493.50 L110.70,493.36 L111.20,493.21 L111.70,493.06 L112.20,492.90 L112.70,492.73 L113.20,492.55 L113.70,492.37 L114.20,492.19 L114.70,491.99 L115.20,491.79 L115.70,491.57 L116.20,491.35 L116.70,491.12 L117.20,490.87 L117.70,490.62 L118.20,490.35 L118.70,490.08 L119.20,489.79 L119.70,489.49 L120.20,489.18 L120.70,488.85 L121.20,488.51 L121.70,488.15 L122.20,487.77 L122.70,487.37 L123.20,486.94 L123.70,486.49 L124.20,486.01 L124.70,485.50 L125.20,484.97 L125.70,484.40 L126.20,483.79 L126.70,483.15 L127.20,482.46 L127.70,481.74 L128.20,480.96 L128.70,480.14 L129.20,479.27 L129.70,478.37 L130.20,477.43 L130.70,476.48 L131.20,475.52 L131.70,474.58 L132.20,473.66 L132.70,472.80 L133.20,472.02 L133.70,471.33 L134.20,470.76 L134.70,470.33 L135.20,470.05 L135.70,469.92 L136.20,469.94 L136.70,470.10 L137.20,470.37 L137.70,470.71 L138.20,471.11 L138.70,471.51 L139.20,471.89 L139.70,472.20 L140.20,472.44 L140.70,472.57 L141.20,472.60 L141.70,472.51 L142.20,472.31 L142.70,472.02 L143.20,471.66 L143.70,471.25 L144.20,470.81 L144.70,470.38 L145.20,469.99 L145.70,469.67 L146.20,469.46 L146.70,469.39 L147.20,469.53 L147.70,469.97 L148.20,470.64 L148.70,471.45 L149.20,472.36 L149.70,473.33 L150.20,474.33 L150.70,475.33 L151.20,476.32 L151.70,477.29 L152.20,478.23 L152.70,479.14 L153.20,480.00 L153.70,480.81 L154.20,481.57 L154.70,482.27 L155.20,482.93 L155.70,483.53 L156.20,484.10 L156.70,484.62 L157.20,485.11 L157.70,485.57 L158.20,486.01 L158.70,486.44 L159.20,486.84 L159.70,487.23 L160.20,487.60 L160.70,487.96 L161.20,488.30 L161.70,488.63 L162.20,488.94 L162.70,489.25 L163.20,489.54 L163.70,489.82 L164.20,490.09 L164.70,490.35 L165.20,490.61 L165.70,490.86 L166.20,491.11 L166.70,491.35 L167.20,491.58 L167.70,491.81 L168.20,492.03 L168.70,492.25 L169.20,492.45 L169.70,492.63 L170.20,492.80 L170.70,492.95 L171.20,493.09 L171.70,493.22 L172.20,493.34 L172.70,493.46 L173.20,493.57 L173.70,493.67 L174.20,493.78 L174.70,493.89 L175.20,494.00 L175.70,494.11 L176.20,494.21 L176.70,494.32 L177.20,494.42 L177.70,494.53 L178.20,494.63 L178.70,494.72 L179.20,494.82 L179.70,494.91 L180.20,495.00 L180.70,495.09 L181.20,495.17 L181.70,495.25 L182.20,495.33 L182.70,495.41 L183.20,495.49 L183.70,495.56 L184.20,495.64 L184.70,495.71 L185.20,495.78 L185.70,495.85 L186.20,495.91 L186.70,495.98 L187.20,496.04 L187.70,496.10 L188.20,496.16 L188.70,496.22 L189.20,496.27 L189.70,496.33 L190.20,496.38 L190.70,496.43 L191.20,496.49 L191.70,496.54 L192.20,496.58 L192.70,496.63 L193.20,496.68 L193.70,496.72 L194.20,496.77 L194.70,496.81 L195.20,496.85 L195.70,496.90 L196.20,496.94 L196.70,496.98 L197.20,497.02 L197.70,497.05 L198.20,497.09 L198.70,497.13 L199.20,497.16 L199.70,497.20 L200.20,497.23 L200.70,497.26 L201.20,497.30 L201.70,497.33 L202.20,497.36 L202.70,497.39 L203.20,497.42 L203.70,497.45 L204.20,497.48 L204.70,497.51 L205.20,497.54 L205.70,497.56 L206.20,497.59 L206.70,497.62 L207.20,497.64 L207.70,497.67 L208.20,497.69 L208.70,497.72 L209.20,497.74 L209.70,497.76 L210.20,497.79 L210.70,497.81 L211.20,497.83 L211.70,497.85 L212.20,497.88 L212.70,497.90 L213.20,497.92 L213.70,497.94 L214.20,497.96 L214.70,497.98 L215.20,498.00 L215.70,498.02 L216.20,498.03 L216.70,498.05 L217.20,498.07 L217.70,498.09 L218.20,498.10 L218.70,498.12 L219.20,498.14 L219.70,498.16 L220.20,498.17 L220.70,498.19 L221.20,498.20 L221.70,498.22 L222.20,498.23 L222.70,498.25 L223.20,498.26 L223.70,498.28 L224.20,498.29 L224.70,498.31 L225.20,498.32 L225.70,498.33 L226.20,498.35 L226.70,498.36 L227.20,498.37 L227.70,498.39 L228.20,498.40 L228.70,498.41 L229.20,498.42 L229.70,498.43 L230.20,498.45 L230.70,498.46 L231.20,498.47 L231.70,498.48 L232.20,498.49 L232.70,498.50 L233.20,498.51 L233.70,498.53 L234.20,498.54 L234.70,498.55 L235.20,498.56 L235.70,498.57 L236.20,498.58 L236.70,498.59 L237.20,498.60 L237.70,498.61 L238.20,498.62 L238.70,498.62 L239.20,498.63 L239.70,498.64 L240.20,498.65 L240.70,498.66 L241.20,498.67 L241.70,498.68 L242.20,498.69 L242.70,498.70 L243.20,498.70 L243.70,498.71 L244.20,498.72 L244.70,498.73 L245.20,498.74 L245.70,498.74 L246.20,498.75 L246.70,498.76 L247.20,498.77 L247.70,498.77 L248.20,498.78 L248.70,498.79 L249.20,498.80 L249.70,498.80 L250.20,498.81 L250.70,498.82 L251.20,498.82 L251.70,498.83 L252.20,498.84 L252.70,498.84 L253.20,498.85 L253.70,498.86 L254.20,498.86 L254.70,498.87 L255.20,498.88 L255.70,498.88 L256.20,498.89 L256.70,498.89 L257.20,498.90 L257.70,498.91 L258.20,498.91 L258.70,498.92 L259.20,498.92 L259.70,498.93 L260.20,498.94 L260.70,498.94 L261.20,498.95 L261.70,498.95 L262.20,498.96 L262.70,498.96 L263.20,498.97 L263.70,498.97 L264.20,498.98 L264.70,498.98 L265.20,498.99 L265.70,498.99 L266.20,499.00 L266.70,499.00 L267.20,499.01 L267.70,499.01 L268.20,499.02 L268.70,499.02 L269.20,499.03 L269.70,499.03 L270.20,499.04 L270.70,499.04 L271.20,499.05 L271.70,499.05 L272.20,499.05 L272.70,499.06 L273.20,499.06 L273.70,499.07 L274.20,499.07 L274.70,499.08 L275.20,499.08 L275.70,499.08 L276.20,499.09 L276.70,499.09 L277.20,499.10 L277.70,499.10 L278.20,499.10 L278.70,499.11 L279.20,499.11 L279.70,499.12 L280.20,499.12 L280.70,499.12 L281.20,499.13 L281.70,499.13 L282.20,499.13 L282.70,499.14 L283.20,499.14 L283.70,499.15 L284.20,499.15 L284.70,499.15 L285.20,499.16 L285.70,499.16 L286.20,499.16 L286.70,499.17 L287.20,499.17 L287.70,499.17 L288.20,499.18 L288.70,499.18 L289.20,499.18 L289.70,499.19 L290.20,499.19 L290.70,499.19 L291.20,499.20 L291.70,499.20 L292.20,499.20 L292.70,499.21 L293.20,499.21 L293.70,499.21 L294.20,499.22 L294.70,499.22 L295.20,499.22 L295.70,499.22 L296.20,499.23 L296.70,499.23 L297.20,499.23 L297.70,499.24 L298.20,499.24 L298.70,499.24 L299.20,499.25 L299.70,499.25 L300.20,499.25 L300.70,499.25 L301.20,499.26 L301.70,499.26 L302.20,499.26 L302.70,499.26 L303.20,499.27 L303.70,499.27 L304.20,499.27 L304.70,499.28 L305.20,499.28 L305.70,499.28 L306.20,499.28 L306.70,499.29 L307.20,499.29 L307.70,499.29 L308.20,499.29 L308.70,499.30 L309.20,499.30 L309.70,499.30 L310.20,499.30 L310.70,499.30 L311.20,499.30 L311.70,499.31 L312.20,499.31 L312.70,499.31 L313.20,499.31 L313.70,499.30 L314.20,499.30 L314.70,499.30 L315.20,499.30 L315.70,499.31 L316.20,499.31" fill="none" stroke="#1c1cc8" stroke-width="2" stroke-linejoin="round"/>
<path d="M63.70,469.54 L64.20,469.52 L64.70,469.49 L65.20,469.46 L65.70,469.43 L66.20,469.41 L66.70,469.38 L67.20,469.35 L67.70,469.33 L68.20,469.31 L68.70,469.29 L69.20,469.27 L69.70,469.25 L70.20,469.23 L70.70,469.22 L71.20,469.20 L71.70,469.19 L72.20,469.17 L72.70,469.15 L73.20,469.13 L73.70,469.12 L74.20,469.10 L74.70,469.08 L75.20,469.07 L75.70,469.05 L76.20,469.03 L76.70,469.01 L77.20,469.00 L77.70,468.98 L78.20,468.96 L78.70,468.94 L79.20,468.93 L79.70,468.90 L80.20,468.88 L80.70,468.86 L81.20,468.83 L81.70,468.80 L82.20,468.78 L82.70,468.75 L83.20,468.72 L83.70,468.69 L84.20,468.66 L84.70,468.63 L85.20,468.60 L85.70,468.57 L86.20,468.54 L86.70,468.51 L87.20,468.48 L87.70,468.45 L88.20,468.42 L88.70,468.38 L89.20,468.35 L89.70,468.32 L90.20,468.28 L90.70,468.25 L91.20,468.21 L91.70,468.17 L92.20,468.13 L92.70,468.09 L93.20,468.05 L93.70,468.00 L94.20,467.95 L94.70,467.89 L95.20,467.83 L95.70,467.76 L96.20,467.68 L96.70,467.59 L97.20,467.50 L97.70,467.40 L98.20,467.30 L98.70,467.21 L99.20,467.13 L99.70,467.05 L100.20,467.00 L100.70,466.96 L101.20,466.93 L101.70,466.91 L102.20,466.89 L102.70,466.88 L103.20,466.86 L103.70,466.84 L104.20,466.81 L104.70,466.77 L105.20,466.72 L105.70,466.66 L106.20,466.60 L106.70,466.53 L107.20,466.46 L107.70,466.38 L108.20,466.30 L108.70,466.22 L109.20,466.14 L109.70,466.06 L110.20,465.98 L110.70,465.90 L111.20,465.82 L111.70,465.74 L112.20,465.66 L112.70,465.58 L113.20,465.50 L113.70,465.41 L114.20,465.31 L114.70,465.20 L115.20,465.08 L115.70,464.95 L116.20,464.80 L116.70,464.65 L117.20,464.48 L117.70,464.31 L118.20,464.14 L118.70,463.96 L119.20,463.78 L119.70,463.60 L120.20,463.42 L120.70,463.23 L121.20,463.03 L121.70,462.84 L122.20,462.63 L122.70,462.41 L123.20,462.19 L123.70,461.96 L124.20,461.71 L124.70,461.45 L125.20,461.18 L125.70,460.90 L126.20,460.60 L126.70,460.28 L127.20,459.95 L127.70,459.61 L128.20,459.24 L128.70,458.86 L129.20,458.46 L129.70,458.03 L130.20,457.57 L130.70,457.07 L131.20,456.53 L131.70,455.94 L132.20,455.29 L132.70,454.59 L133.20,453.83 L133.70,453.02 L134.20,452.15 L134.70,451.25 L135.20,450.31 L135.70,449.36 L136.20,448.40 L136.70,447.44 L137.20,446.51 L137.70,445.62 L138.20,444.79 L138.70,444.03 L139.20,443.38 L139.70,442.83 L140.20,442.40 L140.70,442.06 L141.20,441.82 L141.70,441.71 L142.20,441.76 L142.70,441.95 L143.20,442.25 L143.70,442.65 L144.20,443.09 L144.70,443.53 L145.20,443.93 L145.70,444.26 L146.20,444.49 L146.70,444.60 L147.20,444.58 L147.70,444.44 L148.20,444.18 L148.70,443.81 L149.20,443.36 L149.70,442.85 L150.20,442.32 L150.70,441.81 L151.20,441.35 L151.70,441.01 L152.20,440.86 L152.70,440.98 L153.20,441.51 L153.70,442.31 L154.20,443.29 L154.70,444.37 L155.20,445.51 L155.70,446.64 L156.20,447.75 L156.70,448.81 L157.20,449.80 L157.70,450.72 L158.20,451.56 L158.70,452.34 L159.20,453.05 L159.70,453.70 L160.20,454.31 L160.70,454.89 L161.20,455.44 L161.70,455.97 L162.20,456.49 L162.70,456.98 L163.20,457.46 L163.70,457.91 L164.20,458.34 L164.70,458.74 L165.20,459.11 L165.70,459.45 L166.20,459.78 L166.70,460.08 L167.20,460.37 L167.70,460.65 L168.20,460.92 L168.70,461.19 L169.20,461.44 L169.70,461.70 L170.20,461.94 L170.70,462.18 L171.20,462.42 L171.70,462.64 L172.20,462.86 L172.70,463.06 L173.20,463.26 L173.70,463.44 L174.20,463.61 L174.70,463.77 L175.20,463.93 L175.70,464.07 L176.20,464.21 L176.70,464.34 L177.20,464.47 L177.70,464.59 L178.20,464.71 L178.70,464.83 L179.20,464.95 L179.70,465.07 L180.20,465.19 L180.70,465.30 L181.20,465.41 L181.70,465.52 L182.20,465.63 L182.70,465.74 L183.20,465.84 L183.70,465.95 L184.20,466.05 L184.70,466.14 L185.20,466.24 L185.70,466.33 L186.20,466.41 L186.70,466.50 L187.20,466.58 L187.70,466.67 L188.20,466.75 L188.70,466.82 L189.20,466.90 L189.70,466.97 L190.20,467.05 L190.70,467.12 L191.20,467.19 L191.70,467.26 L192.20,467.32 L192.70,467.39 L193.20,467.45 L193.70,467.51 L194.20,467.57 L194.70,467.63 L195.20,467.69 L195.70,467.75 L196.20,467.80 L196.70,467.86 L197.20,467.91 L197.70,467.96 L198.20,468.01 L198.70,468.06 L199.20,468.11 L199.70,468.16 L200.20,468.20 L200.70,468.25 L201.20,468.29 L201.70,468.34 L202.20,468.38 L202.70,468.42 L203.20,468.46 L203.70,468.50 L204.20,468.54 L204.70,468.58 L205.20,468.62 L205.70,468.65 L206.20,468.69 L206.70,468.73 L207.20,468.76 L207.70,468.79 L208.20,468.83 L208.70,468.86 L209.20,468.89 L209.70,468.92 L210.20,468.96 L210.70,468.99 L211.20,469.02 L211.70,469.05 L212.20,469.07 L212.70,469.10 L213.20,469.13 L213.70,469.15 L214.20,469.18 L214.70,469.20 L215.20,469.22 L215.70,469.23 L216.20,469.25 L216.70,469.26 L217.20,469.27 L217.70,469.28 L218.20,469.29 L218.70,469.30 L219.20,469.31 L219.70,469.33 L220.20,469.35 L220.70,469.37 L221.20,469.40 L221.70,469.44 L222.20,469.47 L222.70,469.51 L223.20,469.54 L223.70,469.57 L224.20,469.60 L224.70,469.63 L225.20,469.66 L225.70,469.68 L226.20,469.70 L226.70,469.72 L227.20,469.74 L227.70,469.76 L228.20,469.78 L228.70,469.79 L229.20,469.81 L229.70,469.83 L230.20,469.84 L230.70,469.86 L231.20,469.87 L231.70,469.89 L232.20,469.90 L232.70,469.92 L233.20,469.93 L233.70,469.95 L234.20,469.96 L234.70,469.97 L235.20,469.99 L235.70,470.00 L236.20,470.02 L236.70,470.03 L237.20,470.04 L237.70,470.05 L238.20,470.07 L238.70,470.08 L239.20,470.09 L239.70,470.10 L240.20,470.12 L240.70,470.13 L241.20,470.14 L241.70,470.15 L242.20,470.16 L242.70,470.17 L243.20,470.19 L243.70,470.20 L244.20,470.21 L244.70,470.22 L245.20,470.23 L245.70,470.24 L246.20,470.25 L246.70,470.26 L247.20,470.27 L247.70,470.28 L248.20,470.29 L248.70,470.30 L249.20,470.31 L249.70,470.32 L250.20,470.33 L250.70,470.34 L251.20,470.35 L251.70,470.36 L252.20,470.36 L252.70,470.37 L253.20,470.38 L253.70,470.39 L254.20,470.40 L254.70,470.41 L255.20,470.42 L255.70,470.43 L256.20,470.43 L256.70,470.44 L257.20,470.45 L257.70,470.46 L258.20,470.47 L258.70,470.47 L259.20,470.48 L259.70,470.49 L260.20,470.50 L260.70,470.50 L261.20,470.51 L261.70,470.52 L262.20,470.53 L262.70,470.53 L263.20,470.54 L263.70,470.55 L264.20,470.55 L264.70,470.56 L265.20,470.57 L265.70,470.58 L266.20,470.58 L266.70,470.59 L267.20,470.60 L267.70,470.60 L268.20,470.61 L268.70,470.61 L269.20,470.62 L269.70,470.63 L270.20,470.63 L270.70,470.64 L271.20,470.65 L271.70,470.65 L272.20,470.66 L272.70,470.66 L273.20,470.67 L273.70,470.68 L274.20,470.68 L274.70,470.69 L275.20,470.69 L275.70,470.70 L276.20,470.71 L276.70,470.71 L277.20,470.72 L277.70,470.72 L278.20,470.73 L278.70,470.73 L279.20,470.74 L279.70,470.74 L280.20,470.75 L280.70,470.75 L281.20,470.76 L281.70,470.76 L282.20,470.77 L282.70,470.77 L283.20,470.78 L283.70,470.78 L284.20,470.79 L284.70,470.79 L285.20,470.80 L285.70,470.80 L286.20,470.81 L286.70,470.81 L287.20,470.82 L287.70,470.82 L288.20,470.83 L288.70,470.83 L289.20,470.84 L289.70,470.84 L290.20,470.85 L290.70,470.85 L291.20,470.86 L291.70,470.86 L292.20,470.86 L292.70,470.87 L293.20,470.87 L293.70,470.88 L294.20,470.88 L294.70,470.89 L295.20,470.89 L295.70,470.89 L296.20,470.90 L296.70,470.90 L297.20,470.91 L297.70,470.91 L298.20,470.92 L298.70,470.92 L299.20,470.92 L299.70,470.93 L300.20,470.93 L300.70,470.94 L301.20,470.94 L301.70,470.94 L302.20,470.95 L302.70,470.95 L303.20,470.96 L303.70,470.96 L304.20,470.96 L304.70,470.97 L305.20,470.97 L305.70,470.97 L306.20,470.98 L306.70,470.98 L307.20,470.99 L307.70,470.99 L308.20,470.99 L308.70,471.00 L309.20,471.00 L309.70,471.01 L310.20,471.01 L310.70,471.01 L311.20,471.02 L311.70,471.03 L312.20,471.03 L312.70,471.04 L313.20,471.05 L313.70,471.06 L314.20,471.07 L314.70,471.07 L315.20,471.08 L315.70,471.09 L316.20,471.09" fill="none" stroke="#187373" stroke-width="2" stroke-linejoin="round"/>
<path d="M63.70,441.85 L64.20,441.83 L64.70,441.80 L65.20,441.78 L65.70,441.75 L66.20,441.72 L66.70,441.70 L67.20,441.67 L67.70,441.65 L68.20,441.63 L68.70,441.61 L69.20,441.59 L69.70,441.57 L70.20,441.55 L70.70,441.53 L71.20,441.51 L71.70,441.49 L72.20,441.47 L72.70,441.45 L73.20,441.43 L73.70,441.41 L74.20,441.39 L74.70,441.37 L75.20,441.35 L75.70,441.33 L76.20,441.32 L76.70,441.30 L77.20,441.29 L77.70,441.27 L78.20,441.25 L78.70,441.24 L79.20,441.22 L79.70,441.20 L80.20,441.17 L80.70,441.14 L81.20,441.11 L81.70,441.08 L82.20,441.04 L82.70,441.01 L83.20,440.97 L83.70,440.93 L84.20,440.90 L84.70,440.86 L85.20,440.83 L85.70,440.80 L86.20,440.76 L86.70,440.73 L87.20,440.70 L87.70,440.66 L88.20,440.63 L88.70,440.59 L89.20,440.56 L89.70,440.52 L90.20,440.49 L90.70,440.45 L91.20,440.41 L91.70,440.37 L92.20,440.33 L92.70,440.29 L93.20,440.24 L93.70,440.19 L94.20,440.14 L94.70,440.08 L95.20,440.01 L95.70,439.93 L96.20,439.85 L96.70,439.75 L97.20,439.65 L97.70,439.54 L98.20,439.44 L98.70,439.34 L99.20,439.25 L99.70,439.18 L100.20,439.12 L100.70,439.08 L101.20,439.06 L101.70,439.05 L102.20,439.05 L102.70,439.05 L103.20,439.04 L103.70,439.03 L104.20,439.01 L104.70,438.98 L105.20,438.94 L105.70,438.89 L106.20,438.84 L106.70,438.78 L107.20,438.71 L107.70,438.64 L108.20,438.56 L108.70,438.48 L109.20,438.40 L109.70,438.31 L110.20,438.21 L110.70,438.11 L111.20,438.00 L111.70,437.88 L112.20,437.76 L112.70,437.63 L113.20,437.51 L113.70,437.38 L114.20,437.26 L114.70,437.15 L115.20,437.05 L115.70,436.96 L116.20,436.88 L116.70,436.80 L117.20,436.73 L117.70,436.65 L118.20,436.58 L118.70,436.51 L119.20,436.43 L119.70,436.35 L120.20,436.28 L120.70,436.20 L121.20,436.13 L121.70,436.07 L122.20,436.01 L122.70,435.95 L123.20,435.88 L123.70,435.81 L124.20,435.71 L124.70,435.59 L125.20,435.45 L125.70,435.29 L126.20,435.10 L126.70,434.89 L127.20,434.68 L127.70,434.46 L128.20,434.23 L128.70,434.01 L129.20,433.79 L129.70,433.56 L130.20,433.34 L130.70,433.11 L131.20,432.87 L131.70,432.63 L132.20,432.39 L132.70,432.14 L133.20,431.88 L133.70,431.61 L134.20,431.34 L134.70,431.05 L135.20,430.74 L135.70,430.42 L136.20,430.08 L136.70,429.72 L137.20,429.35 L137.70,428.96 L138.20,428.56 L138.70,428.15 L139.20,427.72 L139.70,427.28 L140.20,426.82 L140.70,426.32 L141.20,425.79 L141.70,425.22 L142.20,424.59 L142.70,423.90 L143.20,423.15 L143.70,422.34 L144.20,421.46 L144.70,420.52 L145.20,419.53 L145.70,418.52 L146.20,417.52 L146.70,416.57 L147.20,415.72 L147.70,414.99 L148.20,414.40 L148.70,413.94 L149.20,413.57 L149.70,413.27 L150.20,412.99 L150.70,412.78 L151.20,412.69 L151.70,412.79 L152.20,413.08 L152.70,413.57 L153.20,414.21 L153.70,414.94 L154.20,415.70 L154.70,416.43 L155.20,417.07 L155.70,417.58 L156.20,417.94 L156.70,418.11 L157.20,418.06 L157.70,417.79 L158.20,417.26 L158.70,416.48 L159.20,415.46 L159.70,414.21 L160.20,412.81 L160.70,411.32 L161.20,409.89 L161.70,408.67 L162.20,407.79 L162.70,407.33 L163.20,407.29 L163.70,407.56 L164.20,407.97 L164.70,408.48 L165.20,409.22 L165.70,410.26 L166.20,411.58 L166.70,413.10 L167.20,414.70 L167.70,416.27 L168.20,417.72 L168.70,419.02 L169.20,420.17 L169.70,421.18 L170.20,422.07 L170.70,422.88 L171.20,423.63 L171.70,424.32 L172.20,424.96 L172.70,425.57 L173.20,426.14 L173.70,426.67 L174.20,427.17 L174.70,427.63 L175.20,428.06 L175.70,428.46 L176.20,428.83 L176.70,429.18 L177.20,429.52 L177.70,429.85 L178.20,430.17 L178.70,430.48 L179.20,430.80 L179.70,431.11 L180.20,431.42 L180.70,431.74 L181.20,432.06 L181.70,432.38 L182.20,432.70 L182.70,433.02 L183.20,433.31 L183.70,433.59 L184.20,433.85 L184.70,434.07 L185.20,434.25 L185.70,434.41 L186.20,434.53 L186.70,434.64 L187.20,434.72 L187.70,434.80 L188.20,434.89 L188.70,434.97 L189.20,435.07 L189.70,435.17 L190.20,435.28 L190.70,435.41 L191.20,435.53 L191.70,435.66 L192.20,435.80 L192.70,435.93 L193.20,436.07 L193.70,436.20 L194.20,436.34 L194.70,436.47 L195.20,436.61 L195.70,436.75 L196.20,436.89 L196.70,437.04 L197.20,437.19 L197.70,437.33 L198.20,437.47 L198.70,437.61 L199.20,437.74 L199.70,437.85 L200.20,437.95 L200.70,438.04 L201.20,438.11 L201.70,438.18 L202.20,438.23 L202.70,438.29 L203.20,438.34 L203.70,438.39 L204.20,438.45 L204.70,438.51 L205.20,438.57 L205.70,438.64 L206.20,438.71 L206.70,438.78 L207.20,438.85 L207.70,438.92 L208.20,438.99 L208.70,439.06 L209.20,439.13 L209.70,439.19 L210.20,439.26 L210.70,439.32 L211.20,439.38 L211.70,439.44 L212.20,439.50 L212.70,439.56 L213.20,439.61 L213.70,439.66 L214.20,439.71 L214.70,439.74 L215.20,439.77 L215.70,439.79 L216.20,439.80 L216.70,439.81 L217.20,439.80 L217.70,439.79 L218.20,439.78 L218.70,439.78 L219.20,439.79 L219.70,439.82 L220.20,439.86 L220.70,439.92 L221.20,440.00 L221.70,440.08 L222.20,440.18 L222.70,440.28 L223.20,440.37 L223.70,440.46 L224.20,440.54 L224.70,440.61 L225.20,440.68 L225.70,440.73 L226.20,440.78 L226.70,440.82 L227.20,440.86 L227.70,440.90 L228.20,440.93 L228.70,440.97 L229.20,441.00 L229.70,441.03 L230.20,441.06 L230.70,441.09 L231.20,441.12 L231.70,441.15 L232.20,441.18 L232.70,441.21 L233.20,441.24 L233.70,441.27 L234.20,441.30 L234.70,441.32 L235.20,441.35 L235.70,441.37 L236.20,441.40 L236.70,441.42 L237.20,441.45 L237.70,441.47 L238.20,441.50 L238.70,441.52 L239.20,441.55 L239.70,441.57 L240.20,441.59 L240.70,441.61 L241.20,441.63 L241.70,441.66 L242.20,441.68 L242.70,441.70 L243.20,441.72 L243.70,441.74 L244.20,441.76 L244.70,441.78 L245.20,441.80 L245.70,441.82 L246.20,441.84 L246.70,441.86 L247.20,441.87 L247.70,441.89 L248.20,441.91 L248.70,441.93 L249.20,441.94 L249.70,441.96 L250.20,441.98 L250.70,442.00 L251.20,442.01 L251.70,442.03 L252.20,442.04 L252.70,442.06 L253.20,442.08 L253.70,442.09 L254.20,442.11 L254.70,442.12 L255.20,442.14 L255.70,442.15 L256.20,442.16 L256.70,442.18 L257.20,442.19 L257.70,442.21 L258.20,442.22 L258.70,442.23 L259.20,442.25 L259.70,442.26 L260.20,442.27 L260.70,442.29 L261.20,442.30 L261.70,442.31 L262.20,442.32 L262.70,442.33 L263.20,442.35 L263.70,442.36 L264.20,442.37 L264.70,442.38 L265.20,442.39 L265.70,442.40 L266.20,442.42 L266.70,442.43 L267.20,442.44 L267.70,442.45 L268.20,442.46 L268.70,442.47 L269.20,442.48 L269.70,442.49 L270.20,442.50 L270.70,442.51 L271.20,442.52 L271.70,442.53 L272.20,442.54 L272.70,442.55 L273.20,442.56 L273.70,442.57 L274.20,442.58 L274.70,442.59 L275.20,442.60 L275.70,442.61 L276.20,442.61 L276.70,442.62 L277.20,442.63 L277.70,442.64 L278.20,442.65 L278.70,442.66 L279.20,442.67 L279.70,442.67 L280.20,442.68 L280.70,442.69 L281.20,442.70 L281.70,442.71 L282.20,442.71 L282.70,442.72 L283.20,442.73 L283.70,442.74 L284.20,442.74 L284.70,442.75 L285.20,442.76 L285.70,442.77 L286.20,442.77 L286.70,442.78 L287.20,442.79 L287.70,442.79 L288.20,442.80 L288.70,442.81 L289.20,442.81 L289.70,442.82 L290.20,442.83 L290.70,442.83 L291.20,442.84 L291.70,442.85 L292.20,442.85 L292.70,442.86 L293.20,442.87 L293.70,442.87 L294.20,442.88 L294.70,442.89 L295.20,442.89 L295.70,442.90 L296.20,442.90 L296.70,442.91 L297.20,442.92 L297.70,442.92 L298.20,442.93 L298.70,442.93 L299.20,442.94 L299.70,442.94 L300.20,442.95 L300.70,442.95 L301.20,442.96 L301.70,442.97 L302.20,442.97 L302.70,442.98 L303.20,442.98 L303.70,442.99 L304.20,442.99 L304.70,443.00 L305.20,443.00 L305.70,443.01 L306.20,443.01 L306.70,443.02 L307.20,443.02 L307.70,443.03 L308.20,443.03 L308.70,443.04 L309.20,443.04 L309.70,443.05 L310.20,443.05 L310.70,443.05 L311.20,443.06 L311.70,443.06 L312.20,443.07 L312.70,443.07 L313.20,443.08 L313.70,443.08 L314.20,443.09 L314.70,443.09 L315.20,443.09 L315.70,443.10 L316.20,443.10" fill="none" stroke="#c630c6" stroke-width="2" stroke-linejoin="round"/>
<path d="M63.70,412.68 L64.20,412.69 L64.70,412.71 L65.20,412.73 L65.70,412.76 L66.20,412.78 L66.70,412.80 L67.20,412.82 L67.70,412.83 L68.20,412.83 L68.70,412.83 L69.20,412.83 L69.70,412.82 L70.20,412.82 L70.70,412.81 L71.20,412.80 L71.70,412.79 L72.20,412.78 L72.70,412.77 L73.20,412.76 L73.70,412.74 L74.20,412.73 L74.70,412.72 L75.20,412.71 L75.70,412.70 L76.20,412.69 L76.70,412.67 L77.20,412.66 L77.70,412.65 L78.20,412.64 L78.70,412.62 L79.20,412.61 L79.70,412.60 L80.20,412.58 L80.70,412.57 L81.20,412.55 L81.70,412.54 L82.20,412.53 L82.70,412.51 L83.20,412.50 L83.70,412.48 L84.20,412.47 L84.70,412.45 L85.20,412.43 L85.70,412.42 L86.20,412.40 L86.70,412.39 L87.20,412.37 L87.70,412.35 L88.20,412.33 L88.70,412.32 L89.20,412.30 L89.70,412.28 L90.20,412.26 L90.70,412.24 L91.20,412.22 L91.70,412.20 L92.20,412.18 L92.70,412.16 L93.20,412.14 L93.70,412.11 L94.20,412.09 L94.70,412.06 L95.20,412.02 L95.70,411.98 L96.20,411.94 L96.70,411.89 L97.20,411.83 L97.70,411.78 L98.20,411.73 L98.70,411.67 L99.20,411.63 L99.70,411.59 L100.20,411.57 L100.70,411.55 L101.20,411.54 L101.70,411.54 L102.20,411.54 L102.70,411.55 L103.20,411.55 L103.70,411.55 L104.20,411.54 L104.70,411.53 L105.20,411.51 L105.70,411.49 L106.20,411.47 L106.70,411.44 L107.20,411.41 L107.70,411.38 L108.20,411.35 L108.70,411.31 L109.20,411.28 L109.70,411.24 L110.20,411.21 L110.70,411.17 L111.20,411.13 L111.70,411.09 L112.20,411.06 L112.70,411.02 L113.20,410.98 L113.70,410.93 L114.20,410.89 L114.70,410.85 L115.20,410.81 L115.70,410.76 L116.20,410.72 L116.70,410.67 L117.20,410.62 L117.70,410.58 L118.20,410.53 L118.70,410.48 L119.20,410.43 L119.70,410.38 L120.20,410.33 L120.70,410.28 L121.20,410.22 L121.70,410.17 L122.20,410.12 L122.70,410.06 L123.20,410.01 L123.70,409.95 L124.20,409.89 L124.70,409.83 L125.20,409.77 L125.70,409.70 L126.20,409.63 L126.70,409.56 L127.20,409.49 L127.70,409.41 L128.20,409.34 L128.70,409.26 L129.20,409.19 L129.70,409.11 L130.20,409.03 L130.70,408.95 L131.20,408.87 L131.70,408.78 L132.20,408.70 L132.70,408.62 L133.20,408.54 L133.70,408.46 L134.20,408.38 L134.70,408.31 L135.20,408.25 L135.70,408.19 L136.20,408.15 L136.70,408.11 L137.20,408.08 L137.70,408.05 L138.20,408.02 L138.70,407.99 L139.20,407.94 L139.70,407.87 L140.20,407.78 L140.70,407.67 L141.20,407.55 L141.70,407.41 L142.20,407.27 L142.70,407.13 L143.20,406.99 L143.70,406.84 L144.20,406.70 L144.70,406.55 L145.20,406.39 L145.70,406.23 L146.20,406.06 L146.70,405.89 L147.20,405.72 L147.70,405.54 L148.20,405.36 L148.70,405.19 L149.20,405.00 L149.70,404.81 L150.20,404.61 L150.70,404.40 L151.20,404.18 L151.70,403.95 L152.20,403.71 L152.70,403.46 L153.20,403.20 L153.70,402.94 L154.20,402.67 L154.70,402.39 L155.20,402.10 L155.70,401.80 L156.20,401.48 L156.70,401.13 L157.20,400.76 L157.70,400.37 L158.20,399.96 L158.70,399.52 L159.20,399.07 L159.70,398.62 L160.20,398.16 L160.70,397.70 L161.20,397.24 L161.70,396.78 L162.20,396.31 L162.70,395.79 L163.20,395.22 L163.70,394.57 L164.20,393.82 L164.70,392.98 L165.20,392.08 L165.70,391.18 L166.20,390.34 L166.70,389.60 L167.20,388.98 L167.70,388.47 L168.20,388.01 L168.70,387.58 L169.20,387.14 L169.70,386.69 L170.20,386.25 L170.70,385.83 L171.20,385.50 L171.70,385.29 L172.20,385.27 L172.70,385.49 L173.20,385.98 L173.70,386.73 L174.20,387.69 L174.70,388.79 L175.20,389.94 L175.70,391.05 L176.20,392.08 L176.70,392.96 L177.20,393.65 L177.70,394.12 L178.20,394.32 L178.70,394.24 L179.20,393.84 L179.70,393.13 L180.20,392.12 L180.70,390.83 L181.20,389.32 L181.70,387.65 L182.20,385.91 L182.70,384.22 L183.20,382.73 L183.70,381.55 L184.20,380.77 L184.70,380.41 L185.20,380.43 L185.70,380.71 L186.20,381.15 L186.70,381.64 L187.20,382.14 L187.70,382.68 L188.20,383.32 L188.70,384.14 L189.20,385.17 L189.70,386.42 L190.20,387.83 L190.70,389.31 L191.20,390.77 L191.70,392.12 L192.20,393.35 L192.70,394.44 L193.20,395.42 L193.70,396.32 L194.20,397.14 L194.70,397.89 L195.20,398.58 L195.70,399.22 L196.20,399.79 L196.70,400.30 L197.20,400.77 L197.70,401.19 L198.20,401.59 L198.70,401.96 L199.20,402.31 L199.70,402.64 L200.20,402.96 L200.70,403.27 L201.20,403.56 L201.70,403.83 L202.20,404.08 L202.70,404.32 L203.20,404.54 L203.70,404.76 L204.20,404.96 L204.70,405.17 L205.20,405.38 L205.70,405.59 L206.20,405.81 L206.70,406.03 L207.20,406.26 L207.70,406.50 L208.20,406.73 L208.70,406.94 L209.20,407.13 L209.70,407.30 L210.20,407.43 L210.70,407.54 L211.20,407.61 L211.70,407.67 L212.20,407.71 L212.70,407.74 L213.20,407.77 L213.70,407.81 L214.20,407.86 L214.70,407.92 L215.20,407.99 L215.70,408.07 L216.20,408.15 L216.70,408.24 L217.20,408.33 L217.70,408.42 L218.20,408.52 L218.70,408.61 L219.20,408.70 L219.70,408.79 L220.20,408.88 L220.70,408.97 L221.20,409.05 L221.70,409.14 L222.20,409.22 L222.70,409.30 L223.20,409.38 L223.70,409.47 L224.20,409.55 L224.70,409.64 L225.20,409.73 L225.70,409.83 L226.20,409.93 L226.70,410.04 L227.20,410.15 L227.70,410.26 L228.20,410.37 L228.70,410.48 L229.20,410.57 L229.70,410.65 L230.20,410.71 L230.70,410.75 L231.20,410.78 L231.70,410.80 L232.20,410.81 L232.70,410.82 L233.20,410.82 L233.70,410.84 L234.20,410.85 L234.70,410.88 L235.20,410.90 L235.70,410.94 L236.20,410.97 L236.70,411.01 L237.20,411.06 L237.70,411.10 L238.20,411.14 L238.70,411.18 L239.20,411.23 L239.70,411.27 L240.20,411.31 L240.70,411.35 L241.20,411.39 L241.70,411.43 L242.20,411.47 L242.70,411.51 L243.20,411.54 L243.70,411.58 L244.20,411.62 L244.70,411.65 L245.20,411.69 L245.70,411.72 L246.20,411.75 L246.70,411.79 L247.20,411.82 L247.70,411.85 L248.20,411.88 L248.70,411.91 L249.20,411.94 L249.70,411.97 L250.20,412.00 L250.70,412.03 L251.20,412.06 L251.70,412.09 L252.20,412.12 L252.70,412.14 L253.20,412.17 L253.70,412.19 L254.20,412.21 L254.70,412.23 L255.20,412.25 L255.70,412.27 L256.20,412.28 L256.70,412.29 L257.20,412.29 L257.70,412.30 L258.20,412.30 L258.70,412.31 L259.20,412.32 L259.70,412.33 L260.20,412.36 L260.70,412.38 L261.20,412.41 L261.70,412.45 L262.20,412.49 L262.70,412.53 L263.20,412.57 L263.70,412.60 L264.20,412.64 L264.70,412.67 L265.20,412.69 L265.70,412.72 L266.20,412.74 L266.70,412.76 L267.20,412.78 L267.70,412.80 L268.20,412.82 L268.70,412.83 L269.20,412.85 L269.70,412.87 L270.20,412.89 L270.70,412.90 L271.20,412.92 L271.70,412.93 L272.20,412.95 L272.70,412.96 L273.20,412.98 L273.70,413.00 L274.20,413.01 L274.70,413.02 L275.20,413.04 L275.70,413.05 L276.20,413.07 L276.70,413.08 L277.20,413.10 L277.70,413.11 L278.20,413.12 L278.70,413.14 L279.20,413.15 L279.70,413.16 L280.20,413.17 L280.70,413.19 L281.20,413.20 L281.70,413.21 L282.20,413.22 L282.70,413.24 L283.20,413.25 L283.70,413.26 L284.20,413.27 L284.70,413.28 L285.20,413.29 L285.70,413.31 L286.20,413.32 L286.70,413.33 L287.20,413.34 L287.70,413.35 L288.20,413.36 L288.70,413.37 L289.20,413.38 L289.70,413.39 L290.20,413.40 L290.70,413.41 L291.20,413.42 L291.70,413.43 L292.20,413.44 L292.70,413.45 L293.20,413.46 L293.70,413.47 L294.20,413.48 L294.70,413.49 L295.20,413.50 L295.70,413.51 L296.20,413.52 L296.70,413.52 L297.20,413.53 L297.70,413.54 L298.20,413.55 L298.70,413.56 L299.20,413.57 L299.70,413.58 L300.20,413.58 L300.70,413.59 L301.20,413.60 L301.70,413.61 L302.20,413.62 L302.70,413.62 L303.20,413.63 L303.70,413.64 L304.20,413.65 L304.70,413.66 L305.20,413.66 L305.70,413.67 L306.20,413.68 L306.70,413.68 L307.20,413.69 L307.70,413.70 L308.20,413.70 L308.70,413.71 L309.20,413.72 L309.70,413.72 L310.20,413.72 L310.70,413.72 L311.20,413.71 L311.70,413.70 L312.20,413.69 L312.70,413.67 L313.20,413.65 L313.70,413.63 L314.20,413.60 L314.70,413.59 L315.20,413.57 L315.70,413.57 L316.20,413.57" fill="none" stroke="#6c7818" stroke-width="2" stroke-linejoin="round"/>
<path d="M63.70,384.99 L64.20,384.98 L64.70,384.97 L65.20,384.96 L65.70,384.95 L66.20,384.94 L66.70,384.93 L67.20,384.92 L67.70,384.91 L68.20,384.90 L68.70,384.89 L69.20,384.88 L69.70,384.87 L70.20,384.86 L70.70,384.85 L71.20,384.84 L71.70,384.83 L72.20,384.82 L72.70,384.80 L73.20,384.79 L73.70,384.78 L74.20,384.77 L74.70,384.76 L75.20,384.75 L75.70,384.73 L76.20,384.72 L76.70,384.71 L77.20,384.70 L77.70,384.68 L78.20,384.67 L78.70,384.66 L79.20,384.64 L79.70,384.63 L80.20,384.62 L80.70,384.60 L81.20,384.59 L81.70,384.57 L82.20,384.56 L82.70,384.54 L83.20,384.53 L83.70,384.52 L84.20,384.50 L84.70,384.48 L85.20,384.47 L85.70,384.45 L86.20,384.44 L86.70,384.42 L87.20,384.40 L87.70,384.39 L88.20,384.37 L88.70,384.35 L89.20,384.33 L89.70,384.32 L90.20,384.30 L90.70,384.28 L91.20,384.26 L91.70,384.25 L92.20,384.23 L92.70,384.21 L93.20,384.18 L93.70,384.16 L94.20,384.14 L94.70,384.12 L95.20,384.10 L95.70,384.07 L96.20,384.05 L96.70,384.03 L97.20,384.01 L97.70,383.99 L98.20,383.97 L98.70,383.95 L99.20,383.93 L99.70,383.91 L100.20,383.89 L100.70,383.88 L101.20,383.87 L101.70,383.85 L102.20,383.84 L102.70,383.83 L103.20,383.82 L103.70,383.82 L104.20,383.81 L104.70,383.80 L105.20,383.79 L105.70,383.78 L106.20,383.77 L106.70,383.75 L107.20,383.74 L107.70,383.73 L108.20,383.71 L108.70,383.70 L109.20,383.68 L109.70,383.67 L110.20,383.65 L110.70,383.64 L111.20,383.62 L111.70,383.60 L112.20,383.59 L112.70,383.57 L113.20,383.55 L113.70,383.53 L114.20,383.52 L114.70,383.50 L115.20,383.48 L115.70,383.46 L116.20,383.44 L116.70,383.42 L117.20,383.39 L117.70,383.37 L118.20,383.35 L118.70,383.33 L119.20,383.30 L119.70,383.28 L120.20,383.26 L120.70,383.23 L121.20,383.21 L121.70,383.18 L122.20,383.16 L122.70,383.13 L123.20,383.10 L123.70,383.08 L124.20,383.05 L124.70,383.02 L125.20,382.99 L125.70,382.96 L126.20,382.93 L126.70,382.90 L127.20,382.87 L127.70,382.84 L128.20,382.81 L128.70,382.78 L129.20,382.75 L129.70,382.72 L130.20,382.69 L130.70,382.66 L131.20,382.63 L131.70,382.60 L132.20,382.57 L132.70,382.54 L133.20,382.50 L133.70,382.47 L134.20,382.43 L134.70,382.40 L135.20,382.36 L135.70,382.32 L136.20,382.28 L136.70,382.24 L137.20,382.19 L137.70,382.15 L138.20,382.10 L138.70,382.04 L139.20,381.99 L139.70,381.94 L140.20,381.88 L140.70,381.81 L141.20,381.75 L141.70,381.68 L142.20,381.61 L142.70,381.53 L143.20,381.45 L143.70,381.38 L144.20,381.30 L144.70,381.22 L145.20,381.14 L145.70,381.06 L146.20,380.98 L146.70,380.90 L147.20,380.82 L147.70,380.74 L148.20,380.66 L148.70,380.58 L149.20,380.50 L149.70,380.42 L150.20,380.34 L150.70,380.26 L151.20,380.18 L151.70,380.10 L152.20,380.02 L152.70,379.93 L153.20,379.85 L153.70,379.77 L154.20,379.68 L154.70,379.60 L155.20,379.52 L155.70,379.43 L156.20,379.35 L156.70,379.26 L157.20,379.18 L157.70,379.09 L158.20,379.01 L158.70,378.92 L159.20,378.84 L159.70,378.75 L160.20,378.66 L160.70,378.57 L161.20,378.46 L161.70,378.34 L162.20,378.21 L162.70,378.07 L163.20,377.92 L163.70,377.76 L164.20,377.59 L164.70,377.41 L165.20,377.22 L165.70,377.02 L166.20,376.80 L166.70,376.56 L167.20,376.31 L167.70,376.04 L168.20,375.77 L168.70,375.48 L169.20,375.18 L169.70,374.88 L170.20,374.58 L170.70,374.26 L171.20,373.94 L171.70,373.61 L172.20,373.27 L172.70,372.92 L173.20,372.57 L173.70,372.20 L174.20,371.82 L174.70,371.44 L175.20,371.04 L175.70,370.63 L176.20,370.21 L176.70,369.78 L177.20,369.33 L177.70,368.87 L178.20,368.40 L178.70,367.92 L179.20,367.42 L179.70,366.91 L180.20,366.39 L180.70,365.85 L181.20,365.29 L181.70,364.71 L182.20,364.12 L182.70,363.53 L183.20,362.94 L183.70,362.35 L184.20,361.76 L184.70,361.10 L185.20,360.39 L185.70,359.66 L186.20,358.95 L186.70,358.28 L187.20,357.70 L187.70,357.39 L188.20,357.61 L188.70,358.25 L189.20,359.19 L189.70,360.30 L190.20,361.47 L190.70,362.72 L191.20,364.03 L191.70,365.35 L192.20,366.66 L192.70,367.90 L193.20,369.05 L193.70,370.14 L194.20,371.17 L194.70,372.17 L195.20,373.14 L195.70,374.05 L196.20,374.76 L196.70,375.26 L197.20,375.59 L197.70,375.80 L198.20,375.85 L198.70,375.57 L199.20,374.81 L199.70,373.41 L200.20,371.28 L200.70,368.87 L201.20,366.40 L201.70,363.94 L202.20,361.56 L202.70,359.21 L203.20,356.89 L203.70,354.63 L204.20,352.48 L204.70,350.83 L205.20,349.73 L205.70,349.10 L206.20,348.88 L206.70,349.00 L207.20,349.34 L207.70,349.84 L208.20,350.56 L208.70,351.56 L209.20,352.84 L209.70,354.18 L210.20,355.53 L210.70,356.88 L211.20,358.23 L211.70,359.59 L212.20,360.94 L212.70,362.31 L213.20,363.69 L213.70,365.06 L214.20,366.43 L214.70,367.79 L215.20,369.12 L215.70,370.27 L216.20,371.23 L216.70,372.04 L217.20,372.73 L217.70,373.35 L218.20,373.93 L218.70,374.49 L219.20,375.02 L219.70,375.53 L220.20,376.00 L220.70,376.43 L221.20,376.81 L221.70,377.13 L222.20,377.40 L222.70,377.66 L223.20,377.91 L223.70,378.16 L224.20,378.39 L224.70,378.63 L225.20,378.85 L225.70,379.06 L226.20,379.27 L226.70,379.46 L227.20,379.64 L227.70,379.81 L228.20,379.96 L228.70,380.12 L229.20,380.27 L229.70,380.43 L230.20,380.58 L230.70,380.74 L231.20,380.88 L231.70,381.03 L232.20,381.16 L232.70,381.29 L233.20,381.40 L233.70,381.50 L234.20,381.59 L234.70,381.66 L235.20,381.72 L235.70,381.77 L236.20,381.83 L236.70,381.88 L237.20,381.93 L237.70,381.98 L238.20,382.02 L238.70,382.07 L239.20,382.12 L239.70,382.16 L240.20,382.20 L240.70,382.25 L241.20,382.29 L241.70,382.33 L242.20,382.37 L242.70,382.41 L243.20,382.45 L243.70,382.49 L244.20,382.53 L244.70,382.57 L245.20,382.61 L245.70,382.65 L246.20,382.68 L246.70,382.72 L247.20,382.76 L247.70,382.79 L248.20,382.83 L248.70,382.86 L249.20,382.89 L249.70,382.92 L250.20,382.95 L250.70,382.98 L251.20,383.01 L251.70,383.04 L252.20,383.07 L252.70,383.09 L253.20,383.12 L253.70,383.15 L254.20,383.18 L254.70,383.21 L255.20,383.24 L255.70,383.26 L256.20,383.29 L256.70,383.32 L257.20,383.35 L257.70,383.37 L258.20,383.40 L258.70,383.43 L259.20,383.46 L259.70,383.48 L260.20,383.51 L260.70,383.54 L261.20,383.56 L261.70,383.59 L262.20,383.62 L262.70,383.65 L263.20,383.67 L263.70,383.70 L264.20,383.73 L264.70,383.75 L265.20,383.78 L265.70,383.80 L266.20,383.83 L266.70,383.85 L267.20,383.88 L267.70,383.90 L268.20,383.93 L268.70,383.95 L269.20,383.97 L269.70,384.00 L270.20,384.02 L270.70,384.04 L271.20,384.06 L271.70,384.08 L272.20,384.10 L272.70,384.12 L273.20,384.14 L273.70,384.16 L274.20,384.18 L274.70,384.20 L275.20,384.21 L275.70,384.23 L276.20,384.25 L276.70,384.27 L277.20,384.29 L277.70,384.30 L278.20,384.32 L278.70,384.34 L279.20,384.35 L279.70,384.37 L280.20,384.38 L280.70,384.40 L281.20,384.41 L281.70,384.43 L282.20,384.44 L282.70,384.46 L283.20,384.47 L283.70,384.49 L284.20,384.50 L284.70,384.51 L285.20,384.53 L285.70,384.54 L286.20,384.55 L286.70,384.57 L287.20,384.58 L287.70,384.59 L288.20,384.60 L288.70,384.61 L289.20,384.63 L289.70,384.64 L290.20,384.65 L290.70,384.66 L291.20,384.67 L291.70,384.68 L292.20,384.69 L292.70,384.70 L293.20,384.71 L293.70,384.72 L294.20,384.73 L294.70,384.74 L295.20,384.75 L295.70,384.76 L296.20,384.77 L296.70,384.78 L297.20,384.78 L297.70,384.79 L298.20,384.80 L298.70,384.81 L299.20,384.82 L299.70,384.83 L300.20,384.83 L300.70,384.84 L301.20,384.85 L301.70,384.85 L302.20,384.86 L302.70,384.87 L303.20,384.87 L303.70,384.88 L304.20,384.89 L304.70,384.89 L305.20,384.90 L305.70,384.91 L306.20,384.91 L306.70,384.92 L307.20,384.92 L307.70,384.93 L308.20,384.93 L308.70,384.94 L309.20,384.94 L309.70,384.95 L310.20,384.95 L310.70,384.96 L311.20,384.96 L311.70,384.97 L312.20,384.97 L312.70,384.98 L313.20,384.98 L313.70,384.98 L314.20,384.99 L314.70,384.99 L315.20,385.00 L315.70,385.00 L316.20,385.00" fill="none" stroke="#ef7d26" stroke-width="2" stroke-linejoin="round"/>
<path d="M417.60,553.36 L418.10,553.33 L418.60,553.30 L419.10,553.28 L419.60,553.26 L420.10,553.24 L420.60,553.22 L421.10,553.20 L421.60,553.18 L422.10,553.16 L422.60,553.13 L423.10,553.10 L423.60,553.07 L424.10,553.04 L424.60,553.00 L425.10,552.97 L425.60,552.93 L426.10,552.89 L426.60,552.85 L427.10,552.81 L427.60,552.76 L428.10,552.72 L428.60,552.68 L429.10,552.63 L429.60,552.59 L430.10,552.54 L430.60,552.49 L431.10,552.44 L431.60,552.39 L432.10,552.34 L432.60,552.29 L433.10,552.24 L433.60,552.19 L434.10,552.13 L434.60,552.08 L435.10,552.02 L435.60,551.97 L436.10,551.91 L436.60,551.85 L437.10,551.79 L437.60,551.73 L438.10,551.66 L438.60,551.60 L439.10,551.53 L439.60,551.47 L440.10,551.40 L440.60,551.33 L441.10,551.26 L441.60,551.18 L442.10,551.11 L442.60,551.03 L443.10,550.96 L443.60,550.88 L444.10,550.80 L444.60,550.73 L445.10,550.65 L445.60,550.57 L446.10,550.50 L446.60,550.43 L447.10,550.35 L447.60,550.28 L448.10,550.20 L448.60,550.12 L449.10,550.03 L449.60,549.94 L450.10,549.83 L450.60,549.72 L451.10,549.60 L451.60,549.48 L452.10,549.34 L452.60,549.21 L453.10,549.07 L453.60,548.93 L454.10,548.79 L454.60,548.65 L455.10,548.51 L455.60,548.36 L456.10,548.22 L456.60,548.07 L457.10,547.92 L457.60,547.77 L458.10,547.62 L458.60,547.46 L459.10,547.30 L459.60,547.14 L460.10,546.97 L460.60,546.80 L461.10,546.63 L461.60,546.46 L462.10,546.28 L462.60,546.09 L463.10,545.90 L463.60,545.70 L464.10,545.48 L464.60,545.25 L465.10,545.01 L465.60,544.74 L466.10,544.46 L466.60,544.15 L467.10,543.82 L467.60,543.47 L468.10,543.09 L468.60,542.69 L469.10,542.26 L469.60,541.80 L470.10,541.31 L470.60,540.80 L471.10,540.26 L471.60,539.69 L472.10,539.10 L472.60,538.48 L473.10,537.82 L473.60,537.11 L474.10,536.35 L474.60,535.51 L475.10,534.58 L475.60,533.58 L476.10,532.51 L476.60,531.41 L477.10,530.36 L477.60,529.45 L478.10,528.80 L478.60,528.59 L479.10,528.78 L479.60,529.21 L480.10,529.79 L480.60,530.42 L481.10,531.05 L481.60,531.64 L482.10,532.15 L482.60,532.58 L483.10,532.90 L483.60,533.09 L484.10,533.15 L484.60,533.03 L485.10,532.71 L485.60,532.17 L486.10,531.40 L486.60,530.43 L487.10,529.30 L487.60,528.09 L488.10,526.90 L488.60,525.86 L489.10,525.08 L489.60,524.61 L490.10,524.47 L490.60,524.61 L491.10,524.94 L491.60,525.34 L492.10,525.78 L492.60,526.31 L493.10,526.99 L493.60,527.82 L494.10,528.80 L494.60,529.90 L495.10,531.05 L495.60,532.20 L496.10,533.32 L496.60,534.37 L497.10,535.36 L497.60,536.27 L498.10,537.12 L498.60,537.90 L499.10,538.63 L499.60,539.30 L500.10,539.93 L500.60,540.50 L501.10,541.03 L501.60,541.51 L502.10,541.94 L502.60,542.34 L503.10,542.69 L503.60,543.01 L504.10,543.30 L504.60,543.57 L505.10,543.82 L505.60,544.05 L506.10,544.28 L506.60,544.49 L507.10,544.69 L507.60,544.89 L508.10,545.07 L508.60,545.25 L509.10,545.41 L509.60,545.57 L510.10,545.71 L510.60,545.86 L511.10,545.99 L511.60,546.13 L512.10,546.26 L512.60,546.39 L513.10,546.52 L513.60,546.66 L514.10,546.79 L514.60,546.92 L515.10,547.05 L515.60,547.19 L516.10,547.32 L516.60,547.44 L517.10,547.57 L517.60,547.69 L518.10,547.80 L518.60,547.92 L519.10,548.04 L519.60,548.16 L520.10,548.28 L520.60,548.41 L521.10,548.54 L521.60,548.67 L522.10,548.81 L522.60,548.94 L523.10,549.07 L523.60,549.20 L524.10,549.32 L524.60,549.43 L525.10,549.54 L525.60,549.65 L526.10,549.75 L526.60,549.84 L527.10,549.94 L527.60,550.03 L528.10,550.12 L528.60,550.20 L529.10,550.29 L529.60,550.37 L530.10,550.45 L530.60,550.53 L531.10,550.61 L531.60,550.69 L532.10,550.76 L532.60,550.84 L533.10,550.91 L533.60,550.98 L534.10,551.05 L534.60,551.12 L535.10,551.18 L535.60,551.25 L536.10,551.31 L536.60,551.38 L537.10,551.44 L537.60,551.50 L538.10,551.56 L538.60,551.62 L539.10,551.67 L539.60,551.73 L540.10,551.79 L540.60,551.84 L541.10,551.90 L541.60,551.96 L542.10,552.02 L542.60,552.08 L543.10,552.15 L543.60,552.22 L544.10,552.29 L544.60,552.36 L545.10,552.43 L545.60,552.49 L546.10,552.55 L546.60,552.60 L547.10,552.65 L547.60,552.68 L548.10,552.71 L548.60,552.73 L549.10,552.75 L549.60,552.76 L550.10,552.78 L550.60,552.79 L551.10,552.81 L551.60,552.83 L552.10,552.85 L552.60,552.88 L553.10,552.91 L553.60,552.94 L554.10,552.97 L554.60,553.00 L555.10,553.03 L555.60,553.06 L556.10,553.09 L556.60,553.12 L557.10,553.15 L557.60,553.18 L558.10,553.20 L558.60,553.23 L559.10,553.26 L559.60,553.29 L560.10,553.31 L560.60,553.34 L561.10,553.36 L561.60,553.39 L562.10,553.41 L562.60,553.44 L563.10,553.46 L563.60,553.48 L564.10,553.51 L564.60,553.53 L565.10,553.55 L565.60,553.57 L566.10,553.60 L566.60,553.62 L567.10,553.64 L567.60,553.66 L568.10,553.68 L568.60,553.70 L569.10,553.72 L569.60,553.74 L570.10,553.76 L570.60,553.77 L571.10,553.79 L571.60,553.81 L572.10,553.83 L572.60,553.85 L573.10,553.86 L573.60,553.88 L574.10,553.90 L574.60,553.91 L575.10,553.93 L575.60,553.94 L576.10,553.96 L576.60,553.98 L577.10,553.99 L577.60,554.01 L578.10,554.02 L578.60,554.03 L579.10,554.05 L579.60,554.06 L580.10,554.08 L580.60,554.09 L581.10,554.10 L581.60,554.12 L582.10,554.13 L582.60,554.14 L583.10,554.16 L583.60,554.17 L584.10,554.18 L584.60,554.19 L585.10,554.20 L585.60,554.22 L586.10,554.23 L586.60,554.24 L587.10,554.25 L587.60,554.26 L588.10,554.27 L588.60,554.28 L589.10,554.29 L589.60,554.30 L590.10,554.31 L590.60,554.32 L591.10,554.33 L591.60,554.34 L592.10,554.35 L592.60,554.36 L593.10,554.37 L593.60,554.38 L594.10,554.39 L594.60,554.40 L595.10,554.41 L595.60,554.42 L596.10,554.43 L596.60,554.44 L597.10,554.44 L597.60,554.45 L598.10,554.46 L598.60,554.47 L599.10,554.48 L599.60,554.48 L600.10,554.49 L600.60,554.50 L601.10,554.51 L601.60,554.51 L602.10,554.52 L602.60,554.53 L603.10,554.54 L603.60,554.54 L604.10,554.55 L604.60,554.56 L605.10,554.56 L605.60,554.57 L606.10,554.58 L606.60,554.58 L607.10,554.59 L607.60,554.60 L608.10,554.60 L608.60,554.61 L609.10,554.62 L609.60,554.62 L610.10,554.63 L610.60,554.63 L611.10,554.64 L611.60,554.64 L612.10,554.65 L612.60,554.66 L613.10,554.66 L613.60,554.67 L614.10,554.67 L614.60,554.68 L615.10,554.68 L615.60,554.69 L616.10,554.69 L616.60,554.70 L617.10,554.70 L617.60,554.71 L618.10,554.71 L618.60,554.72 L619.10,554.72 L619.60,554.73 L620.10,554.73 L620.60,554.74 L621.10,554.74 L621.60,554.74 L622.10,554.75 L622.60,554.75 L623.10,554.76 L623.60,554.76 L624.10,554.77 L624.60,554.77 L625.10,554.77 L625.60,554.78 L626.10,554.78 L626.60,554.79 L627.10,554.79 L627.60,554.79 L628.10,554.80 L628.60,554.80 L629.10,554.80 L629.60,554.81 L630.10,554.81 L630.60,554.81 L631.10,554.82 L631.60,554.82 L632.10,554.83 L632.60,554.83 L633.10,554.83 L633.60,554.83 L634.10,554.84 L634.60,554.84 L635.10,554.84 L635.60,554.85 L636.10,554.85 L636.60,554.85 L637.10,554.86 L637.60,554.86 L638.10,554.86 L638.60,554.87 L639.10,554.87 L639.60,554.87 L640.10,554.87 L640.60,554.88 L641.10,554.88 L641.60,554.88 L642.10,554.88 L642.60,554.89 L643.10,554.89 L643.60,554.89 L644.10,554.89 L644.60,554.90 L645.10,554.90 L645.60,554.90 L646.10,554.90 L646.60,554.91 L647.10,554.91 L647.60,554.91 L648.10,554.91 L648.60,554.91 L649.10,554.92 L649.60,554.92 L650.10,554.92 L650.60,554.92 L651.10,554.93 L651.60,554.93 L652.10,554.93 L652.60,554.93 L653.10,554.93 L653.60,554.94 L654.10,554.94 L654.60,554.94 L655.10,554.94 L655.60,554.94 L656.10,554.94 L656.60,554.95 L657.10,554.95 L657.60,554.95 L658.10,554.95 L658.60,554.95 L659.10,554.96 L659.60,554.96 L660.10,554.96 L660.60,554.96 L661.10,554.96 L661.60,554.96 L662.10,554.96 L662.60,554.97 L663.10,554.97 L663.60,554.97 L664.10,554.97 L664.60,554.97 L665.10,554.96 L665.60,554.96 L666.10,554.96 L666.60,554.95 L667.10,554.95 L667.60,554.94 L668.10,554.93 L668.60,554.93 L669.10,554.92 L669.60,554.92 L670.10,554.92" fill="none" stroke="#141414" stroke-width="2" stroke-linejoin="round"/>
<path d="M417.60,524.78 L418.10,524.76 L418.60,524.74 L419.10,524.72 L419.60,524.69 L420.10,524.66 L420.60,524.62 L421.10,524.59 L421.60,524.56 L422.10,524.53 L422.60,524.50 L423.10,524.47 L423.60,524.45 L424.10,524.42 L424.60,524.40 L425.10,524.37 L425.60,524.35 L426.10,524.33 L426.60,524.30 L427.10,524.28 L427.60,524.25 L428.10,524.23 L428.60,524.20 L429.10,524.18 L429.60,524.15 L430.10,524.12 L430.60,524.09 L431.10,524.07 L431.60,524.04 L432.10,524.01 L432.60,523.97 L433.10,523.94 L433.60,523.91 L434.10,523.88 L434.60,523.84 L435.10,523.81 L435.60,523.77 L436.10,523.74 L436.60,523.70 L437.10,523.66 L437.60,523.62 L438.10,523.58 L438.60,523.54 L439.10,523.50 L439.60,523.46 L440.10,523.41 L440.60,523.37 L441.10,523.32 L441.60,523.27 L442.10,523.22 L442.60,523.16 L443.10,523.11 L443.60,523.04 L444.10,522.98 L444.60,522.90 L445.10,522.81 L445.60,522.71 L446.10,522.59 L446.60,522.47 L447.10,522.33 L447.60,522.18 L448.10,522.04 L448.60,521.90 L449.10,521.77 L449.60,521.66 L450.10,521.58 L450.60,521.52 L451.10,521.48 L451.60,521.46 L452.10,521.46 L452.60,521.45 L453.10,521.44 L453.60,521.42 L454.10,521.40 L454.60,521.36 L455.10,521.31 L455.60,521.25 L456.10,521.19 L456.60,521.13 L457.10,521.06 L457.60,520.98 L458.10,520.90 L458.60,520.82 L459.10,520.72 L459.60,520.60 L460.10,520.47 L460.60,520.33 L461.10,520.17 L461.60,520.00 L462.10,519.82 L462.60,519.64 L463.10,519.44 L463.60,519.24 L464.10,519.04 L464.60,518.82 L465.10,518.59 L465.60,518.35 L466.10,518.10 L466.60,517.83 L467.10,517.55 L467.60,517.26 L468.10,516.96 L468.60,516.64 L469.10,516.32 L469.60,515.99 L470.10,515.64 L470.60,515.27 L471.10,514.89 L471.60,514.49 L472.10,514.05 L472.60,513.59 L473.10,513.09 L473.60,512.55 L474.10,511.96 L474.60,511.32 L475.10,510.64 L475.60,509.92 L476.10,509.17 L476.60,508.39 L477.10,507.59 L477.60,506.79 L478.10,505.97 L478.60,505.13 L479.10,504.28 L479.60,503.39 L480.10,502.47 L480.60,501.51 L481.10,500.53 L481.60,499.55 L482.10,498.63 L482.60,497.81 L483.10,497.17 L483.60,496.84 L484.10,496.78 L484.60,496.92 L485.10,497.22 L485.60,497.65 L486.10,498.14 L486.60,498.67 L487.10,499.20 L487.60,499.69 L488.10,500.12 L488.60,500.46 L489.10,500.70 L489.60,500.82 L490.10,500.82 L490.60,500.69 L491.10,500.43 L491.60,500.06 L492.10,499.59 L492.60,499.04 L493.10,498.42 L493.60,497.77 L494.10,497.12 L494.60,496.50 L495.10,495.96 L495.60,495.55 L496.10,495.32 L496.60,495.33 L497.10,495.71 L497.60,496.41 L498.10,497.30 L498.60,498.32 L499.10,499.40 L499.60,500.50 L500.10,501.60 L500.60,502.67 L501.10,503.71 L501.60,504.71 L502.10,505.67 L502.60,506.58 L503.10,507.45 L503.60,508.26 L504.10,509.01 L504.60,509.71 L505.10,510.36 L505.60,510.95 L506.10,511.50 L506.60,512.00 L507.10,512.48 L507.60,512.92 L508.10,513.33 L508.60,513.72 L509.10,514.09 L509.60,514.43 L510.10,514.76 L510.60,515.06 L511.10,515.36 L511.60,515.64 L512.10,515.92 L512.60,516.20 L513.10,516.48 L513.60,516.76 L514.10,517.06 L514.60,517.36 L515.10,517.67 L515.60,517.99 L516.10,518.31 L516.60,518.62 L517.10,518.94 L517.60,519.24 L518.10,519.53 L518.60,519.80 L519.10,520.04 L519.60,520.25 L520.10,520.43 L520.60,520.57 L521.10,520.68 L521.60,520.77 L522.10,520.83 L522.60,520.89 L523.10,520.94 L523.60,521.00 L524.10,521.07 L524.60,521.14 L525.10,521.22 L525.60,521.31 L526.10,521.40 L526.60,521.50 L527.10,521.60 L527.60,521.69 L528.10,521.79 L528.60,521.89 L529.10,521.99 L529.60,522.08 L530.10,522.17 L530.60,522.26 L531.10,522.34 L531.60,522.43 L532.10,522.51 L532.60,522.59 L533.10,522.67 L533.60,522.74 L534.10,522.82 L534.60,522.89 L535.10,522.96 L535.60,523.03 L536.10,523.10 L536.60,523.16 L537.10,523.23 L537.60,523.29 L538.10,523.35 L538.60,523.41 L539.10,523.47 L539.60,523.53 L540.10,523.58 L540.60,523.64 L541.10,523.69 L541.60,523.74 L542.10,523.80 L542.60,523.85 L543.10,523.90 L543.60,523.96 L544.10,524.01 L544.60,524.06 L545.10,524.11 L545.60,524.16 L546.10,524.21 L546.60,524.25 L547.10,524.29 L547.60,524.33 L548.10,524.37 L548.60,524.40 L549.10,524.43 L549.60,524.46 L550.10,524.49 L550.60,524.52 L551.10,524.56 L551.60,524.59 L552.10,524.62 L552.60,524.65 L553.10,524.68 L553.60,524.71 L554.10,524.74 L554.60,524.77 L555.10,524.80 L555.60,524.83 L556.10,524.86 L556.60,524.89 L557.10,524.91 L557.60,524.94 L558.10,524.97 L558.60,524.99 L559.10,525.02 L559.60,525.05 L560.10,525.07 L560.60,525.10 L561.10,525.12 L561.60,525.14 L562.10,525.17 L562.60,525.19 L563.10,525.21 L563.60,525.23 L564.10,525.26 L564.60,525.28 L565.10,525.30 L565.60,525.32 L566.10,525.34 L566.60,525.36 L567.10,525.38 L567.60,525.40 L568.10,525.42 L568.60,525.44 L569.10,525.46 L569.60,525.48 L570.10,525.49 L570.60,525.51 L571.10,525.53 L571.60,525.55 L572.10,525.56 L572.60,525.58 L573.10,525.60 L573.60,525.61 L574.10,525.63 L574.60,525.65 L575.10,525.66 L575.60,525.68 L576.10,525.69 L576.60,525.71 L577.10,525.72 L577.60,525.74 L578.10,525.75 L578.60,525.77 L579.10,525.78 L579.60,525.80 L580.10,525.81 L580.60,525.82 L581.10,525.84 L581.60,525.85 L582.10,525.86 L582.60,525.88 L583.10,525.89 L583.60,525.90 L584.10,525.91 L584.60,525.93 L585.10,525.94 L585.60,525.95 L586.10,525.96 L586.60,525.97 L587.10,525.99 L587.60,526.00 L588.10,526.01 L588.60,526.02 L589.10,526.03 L589.60,526.04 L590.10,526.05 L590.60,526.06 L591.10,526.07 L591.60,526.08 L592.10,526.09 L592.60,526.10 L593.10,526.11 L593.60,526.12 L594.10,526.13 L594.60,526.14 L595.10,526.15 L595.60,526.16 L596.10,526.17 L596.60,526.18 L597.10,526.19 L597.60,526.20 L598.10,526.21 L598.60,526.22 L599.10,526.23 L599.60,526.24 L600.10,526.25 L600.60,526.26 L601.10,526.26 L601.60,526.27 L602.10,526.28 L602.60,526.29 L603.10,526.30 L603.60,526.31 L604.10,526.31 L604.60,526.32 L605.10,526.33 L605.60,526.34 L606.10,526.35 L606.60,526.35 L607.10,526.36 L607.60,526.37 L608.10,526.38 L608.60,526.38 L609.10,526.39 L609.60,526.40 L610.10,526.41 L610.60,526.41 L611.10,526.42 L611.60,526.43 L612.10,526.44 L612.60,526.44 L613.10,526.45 L613.60,526.46 L614.10,526.46 L614.60,526.47 L615.10,526.48 L615.60,526.48 L616.10,526.49 L616.60,526.50 L617.10,526.50 L617.60,526.51 L618.10,526.52 L618.60,526.52 L619.10,526.53 L619.60,526.54 L620.10,526.54 L620.60,526.55 L621.10,526.55 L621.60,526.56 L622.10,526.57 L622.60,526.57 L623.10,526.58 L623.60,526.59 L624.10,526.59 L624.60,526.60 L625.10,526.60 L625.60,526.61 L626.10,526.61 L626.60,526.62 L627.10,526.63 L627.60,526.63 L628.10,526.64 L628.60,526.64 L629.10,526.65 L629.60,526.65 L630.10,526.66 L630.60,526.67 L631.10,526.67 L631.60,526.68 L632.10,526.68 L632.60,526.69 L633.10,526.69 L633.60,526.70 L634.10,526.70 L634.60,526.71 L635.10,526.71 L635.60,526.72 L636.10,526.72 L636.60,526.73 L637.10,526.73 L637.60,526.74 L638.10,526.74 L638.60,526.75 L639.10,526.75 L639.60,526.76 L640.10,526.76 L640.60,526.77 L641.10,526.77 L641.60,526.78 L642.10,526.78 L642.60,526.79 L643.10,526.79 L643.60,526.80 L644.10,526.80 L644.60,526.81 L645.10,526.81 L645.60,526.82 L646.10,526.82 L646.60,526.83 L647.10,526.83 L647.60,526.83 L648.10,526.84 L648.60,526.84 L649.10,526.85 L649.60,526.85 L650.10,526.86 L650.60,526.86 L651.10,526.87 L651.60,526.87 L652.10,526.88 L652.60,526.88 L653.10,526.88 L653.60,526.89 L654.10,526.89 L654.60,526.90 L655.10,526.90 L655.60,526.91 L656.10,526.91 L656.60,526.91 L657.10,526.92 L657.60,526.92 L658.10,526.93 L658.60,526.93 L659.10,526.93 L659.60,526.94 L660.10,526.94 L660.60,526.95 L661.10,526.95 L661.60,526.95 L662.10,526.96 L662.60,526.96 L663.10,526.97 L663.60,526.97 L664.10,526.97 L664.60,526.97 L665.10,526.97 L665.60,526.97 L666.10,526.96 L666.60,526.96 L667.10,526.95 L667.60,526.94 L668.10,526.94 L668.60,526.93 L669.10,526.93 L669.60,526.93 L670.10,526.93" fill="none" stroke="#cc2424" stroke-width="2" stroke-linejoin="round"/>
<path d="M417.60,496.33 L418.10,496.32 L418.60,496.29 L419.10,496.26 L419.60,496.22 L420.10,496.18 L420.60,496.13 L421.10,496.08 L421.60,496.04 L422.10,495.99 L422.60,495.96 L423.10,495.93 L423.60,495.90 L424.10,495.87 L424.60,495.85 L425.10,495.83 L425.60,495.81 L426.10,495.79 L426.60,495.77 L427.10,495.75 L427.60,495.73 L428.10,495.71 L428.60,495.69 L429.10,495.67 L429.60,495.64 L430.10,495.62 L430.60,495.60 L431.10,495.58 L431.60,495.55 L432.10,495.53 L432.60,495.50 L433.10,495.47 L433.60,495.44 L434.10,495.41 L434.60,495.37 L435.10,495.33 L435.60,495.29 L436.10,495.23 L436.60,495.18 L437.10,495.11 L437.60,495.05 L438.10,494.98 L438.60,494.92 L439.10,494.86 L439.60,494.82 L440.10,494.78 L440.60,494.75 L441.10,494.73 L441.60,494.72 L442.10,494.72 L442.60,494.71 L443.10,494.71 L443.60,494.70 L444.10,494.68 L444.60,494.66 L445.10,494.63 L445.60,494.60 L446.10,494.56 L446.60,494.52 L447.10,494.47 L447.60,494.42 L448.10,494.37 L448.60,494.31 L449.10,494.25 L449.60,494.18 L450.10,494.10 L450.60,494.02 L451.10,493.93 L451.60,493.83 L452.10,493.72 L452.60,493.60 L453.10,493.49 L453.60,493.38 L454.10,493.28 L454.60,493.18 L455.10,493.11 L455.60,493.04 L456.10,492.99 L456.60,492.95 L457.10,492.92 L457.60,492.88 L458.10,492.85 L458.60,492.81 L459.10,492.76 L459.60,492.71 L460.10,492.65 L460.60,492.59 L461.10,492.53 L461.60,492.47 L462.10,492.40 L462.60,492.34 L463.10,492.27 L463.60,492.19 L464.10,492.10 L464.60,491.99 L465.10,491.87 L465.60,491.74 L466.10,491.59 L466.60,491.43 L467.10,491.25 L467.60,491.08 L468.10,490.89 L468.60,490.71 L469.10,490.51 L469.60,490.32 L470.10,490.11 L470.60,489.90 L471.10,489.68 L471.60,489.44 L472.10,489.20 L472.60,488.95 L473.10,488.69 L473.60,488.42 L474.10,488.14 L474.60,487.85 L475.10,487.54 L475.60,487.22 L476.10,486.89 L476.60,486.53 L477.10,486.16 L477.60,485.77 L478.10,485.35 L478.60,484.91 L479.10,484.44 L479.60,483.94 L480.10,483.41 L480.60,482.85 L481.10,482.24 L481.60,481.59 L482.10,480.89 L482.60,480.14 L483.10,479.31 L483.60,478.42 L484.10,477.45 L484.60,476.40 L485.10,475.26 L485.60,474.05 L486.10,472.78 L486.60,471.49 L487.10,470.24 L487.60,469.10 L488.10,468.18 L488.60,467.62 L489.10,467.57 L489.60,467.84 L490.10,468.33 L490.60,468.93 L491.10,469.60 L491.60,470.27 L492.10,470.90 L492.60,471.47 L493.10,471.95 L493.60,472.31 L494.10,472.52 L494.60,472.58 L495.10,472.47 L495.60,472.21 L496.10,471.79 L496.60,471.26 L497.10,470.62 L497.60,469.93 L498.10,469.19 L498.60,468.46 L499.10,467.76 L499.60,467.14 L500.10,466.65 L500.60,466.35 L501.10,466.31 L501.60,466.69 L502.10,467.40 L502.60,468.31 L503.10,469.34 L503.60,470.43 L504.10,471.53 L504.60,472.61 L505.10,473.64 L505.60,474.63 L506.10,475.56 L506.60,476.43 L507.10,477.25 L507.60,478.01 L508.10,478.72 L508.60,479.39 L509.10,480.02 L509.60,480.62 L510.10,481.20 L510.60,481.75 L511.10,482.27 L511.60,482.78 L512.10,483.26 L512.60,483.71 L513.10,484.14 L513.60,484.54 L514.10,484.92 L514.60,485.26 L515.10,485.59 L515.60,485.90 L516.10,486.20 L516.60,486.50 L517.10,486.78 L517.60,487.06 L518.10,487.34 L518.60,487.62 L519.10,487.89 L519.60,488.16 L520.10,488.42 L520.60,488.68 L521.10,488.92 L521.60,489.16 L522.10,489.39 L522.60,489.61 L523.10,489.83 L523.60,490.03 L524.10,490.22 L524.60,490.40 L525.10,490.58 L525.60,490.74 L526.10,490.89 L526.60,491.03 L527.10,491.16 L527.60,491.29 L528.10,491.41 L528.60,491.54 L529.10,491.66 L529.60,491.79 L530.10,491.91 L530.60,492.03 L531.10,492.15 L531.60,492.27 L532.10,492.39 L532.60,492.51 L533.10,492.62 L533.60,492.74 L534.10,492.84 L534.60,492.95 L535.10,493.05 L535.60,493.16 L536.10,493.25 L536.60,493.35 L537.10,493.45 L537.60,493.54 L538.10,493.63 L538.60,493.71 L539.10,493.80 L539.60,493.88 L540.10,493.96 L540.60,494.04 L541.10,494.12 L541.60,494.20 L542.10,494.27 L542.60,494.34 L543.10,494.41 L543.60,494.48 L544.10,494.55 L544.60,494.61 L545.10,494.67 L545.60,494.74 L546.10,494.80 L546.60,494.86 L547.10,494.92 L547.60,494.97 L548.10,495.03 L548.60,495.09 L549.10,495.14 L549.60,495.20 L550.10,495.25 L550.60,495.30 L551.10,495.35 L551.60,495.40 L552.10,495.45 L552.60,495.50 L553.10,495.55 L553.60,495.59 L554.10,495.64 L554.60,495.68 L555.10,495.72 L555.60,495.76 L556.10,495.80 L556.60,495.84 L557.10,495.88 L557.60,495.92 L558.10,495.96 L558.60,496.00 L559.10,496.03 L559.60,496.07 L560.10,496.10 L560.60,496.14 L561.10,496.17 L561.60,496.21 L562.10,496.24 L562.60,496.27 L563.10,496.30 L563.60,496.33 L564.10,496.36 L564.60,496.39 L565.10,496.42 L565.60,496.45 L566.10,496.48 L566.60,496.51 L567.10,496.54 L567.60,496.56 L568.10,496.59 L568.60,496.62 L569.10,496.64 L569.60,496.67 L570.10,496.69 L570.60,496.72 L571.10,496.74 L571.60,496.77 L572.10,496.79 L572.60,496.81 L573.10,496.84 L573.60,496.86 L574.10,496.88 L574.60,496.90 L575.10,496.92 L575.60,496.94 L576.10,496.97 L576.60,496.99 L577.10,497.01 L577.60,497.03 L578.10,497.05 L578.60,497.07 L579.10,497.08 L579.60,497.10 L580.10,497.12 L580.60,497.14 L581.10,497.16 L581.60,497.18 L582.10,497.19 L582.60,497.21 L583.10,497.23 L583.60,497.25 L584.10,497.26 L584.60,497.28 L585.10,497.30 L585.60,497.31 L586.10,497.33 L586.60,497.34 L587.10,497.36 L587.60,497.37 L588.10,497.39 L588.60,497.40 L589.10,497.42 L589.60,497.43 L590.10,497.45 L590.60,497.46 L591.10,497.48 L591.60,497.49 L592.10,497.50 L592.60,497.52 L593.10,497.53 L593.60,497.55 L594.10,497.56 L594.60,497.57 L595.10,497.58 L595.60,497.60 L596.10,497.61 L596.60,497.62 L597.10,497.64 L597.60,497.65 L598.10,497.66 L598.60,497.67 L599.10,497.68 L599.60,497.70 L600.10,497.71 L600.60,497.72 L601.10,497.73 L601.60,497.74 L602.10,497.75 L602.60,497.76 L603.10,497.77 L603.60,497.79 L604.10,497.80 L604.60,497.81 L605.10,497.82 L605.60,497.83 L606.10,497.84 L606.60,497.85 L607.10,497.86 L607.60,497.87 L608.10,497.88 L608.60,497.89 L609.10,497.90 L609.60,497.91 L610.10,497.92 L610.60,497.93 L611.10,497.94 L611.60,497.95 L612.10,497.96 L612.60,497.97 L613.10,497.98 L613.60,497.98 L614.10,497.99 L614.60,498.00 L615.10,498.01 L615.60,498.02 L616.10,498.03 L616.60,498.04 L617.10,498.05 L617.60,498.06 L618.10,498.06 L618.60,498.07 L619.10,498.08 L619.60,498.09 L620.10,498.10 L620.60,498.11 L621.10,498.11 L621.60,498.12 L622.10,498.13 L622.60,498.14 L623.10,498.15 L623.60,498.15 L624.10,498.16 L624.60,498.17 L625.10,498.18 L625.60,498.19 L626.10,498.19 L626.60,498.20 L627.10,498.21 L627.60,498.22 L628.10,498.22 L628.60,498.23 L629.10,498.24 L629.60,498.24 L630.10,498.25 L630.60,498.26 L631.10,498.27 L631.60,498.27 L632.10,498.28 L632.60,498.29 L633.10,498.29 L633.60,498.30 L634.10,498.31 L634.60,498.32 L635.10,498.32 L635.60,498.33 L636.10,498.34 L636.60,498.34 L637.10,498.35 L637.60,498.36 L638.10,498.36 L638.60,498.37 L639.10,498.38 L639.60,498.38 L640.10,498.39 L640.60,498.40 L641.10,498.40 L641.60,498.41 L642.10,498.41 L642.60,498.42 L643.10,498.43 L643.60,498.43 L644.10,498.44 L644.60,498.45 L645.10,498.45 L645.60,498.46 L646.10,498.46 L646.60,498.47 L647.10,498.48 L647.60,498.48 L648.10,498.49 L648.60,498.49 L649.10,498.50 L649.60,498.51 L650.10,498.51 L650.60,498.52 L651.10,498.52 L651.60,498.53 L652.10,498.54 L652.60,498.54 L653.10,498.55 L653.60,498.55 L654.10,498.56 L654.60,498.56 L655.10,498.57 L655.60,498.57 L656.10,498.58 L656.60,498.59 L657.10,498.59 L657.60,498.60 L658.10,498.60 L658.60,498.61 L659.10,498.61 L659.60,498.62 L660.10,498.62 L660.60,498.63 L661.10,498.64 L661.60,498.64 L662.10,498.65 L662.60,498.65 L663.10,498.66 L663.60,498.66 L664.10,498.67 L664.60,498.67 L665.10,498.67 L665.60,498.68 L666.10,498.68 L666.60,498.68 L667.10,498.69 L667.60,498.69 L668.10,498.69 L668.60,498.70 L669.10,498.70 L669.60,498.70 L670.10,498.71" fill="none" stroke="#1c1cc8" stroke-width="2" stroke-linejoin="round"/>
<path d="M417.60,468.05 L418.10,468.04 L418.60,468.02 L419.10,467.99 L419.60,467.95 L420.10,467.92 L420.60,467.88 L421.10,467.84 L421.60,467.80 L422.10,467.76 L422.60,467.73 L423.10,467.70 L423.60,467.68 L424.10,467.65 L424.60,467.63 L425.10,467.61 L425.60,467.59 L426.10,467.57 L426.60,467.55 L427.10,467.53 L427.60,467.51 L428.10,467.49 L428.60,467.47 L429.10,467.45 L429.60,467.43 L430.10,467.41 L430.60,467.38 L431.10,467.36 L431.60,467.34 L432.10,467.31 L432.60,467.29 L433.10,467.26 L433.60,467.23 L434.10,467.20 L434.60,467.17 L435.10,467.13 L435.60,467.09 L436.10,467.05 L436.60,467.00 L437.10,466.94 L437.60,466.89 L438.10,466.84 L438.60,466.78 L439.10,466.73 L439.60,466.69 L440.10,466.66 L440.60,466.63 L441.10,466.61 L441.60,466.59 L442.10,466.58 L442.60,466.57 L443.10,466.56 L443.60,466.54 L444.10,466.52 L444.60,466.50 L445.10,466.47 L445.60,466.44 L446.10,466.40 L446.60,466.36 L447.10,466.32 L447.60,466.27 L448.10,466.22 L448.60,466.17 L449.10,466.11 L449.60,466.05 L450.10,465.98 L450.60,465.91 L451.10,465.83 L451.60,465.73 L452.10,465.64 L452.60,465.54 L453.10,465.44 L453.60,465.34 L454.10,465.25 L454.60,465.17 L455.10,465.10 L455.60,465.04 L456.10,465.00 L456.60,464.97 L457.10,464.94 L457.60,464.91 L458.10,464.88 L458.60,464.85 L459.10,464.81 L459.60,464.76 L460.10,464.70 L460.60,464.63 L461.10,464.56 L461.60,464.48 L462.10,464.39 L462.60,464.31 L463.10,464.22 L463.60,464.13 L464.10,464.04 L464.60,463.95 L465.10,463.86 L465.60,463.78 L466.10,463.70 L466.60,463.62 L467.10,463.54 L467.60,463.47 L468.10,463.39 L468.60,463.30 L469.10,463.20 L469.60,463.10 L470.10,462.97 L470.60,462.83 L471.10,462.68 L471.60,462.52 L472.10,462.35 L472.60,462.17 L473.10,461.98 L473.60,461.80 L474.10,461.61 L474.60,461.41 L475.10,461.20 L475.60,460.99 L476.10,460.77 L476.60,460.54 L477.10,460.30 L477.60,460.04 L478.10,459.78 L478.60,459.51 L479.10,459.23 L479.60,458.94 L480.10,458.63 L480.60,458.31 L481.10,457.97 L481.60,457.62 L482.10,457.25 L482.60,456.86 L483.10,456.45 L483.60,456.01 L484.10,455.55 L484.60,455.07 L485.10,454.54 L485.60,453.97 L486.10,453.35 L486.60,452.67 L487.10,451.92 L487.60,451.10 L488.10,450.21 L488.60,449.25 L489.10,448.22 L489.60,447.15 L490.10,446.03 L490.60,444.90 L491.10,443.80 L491.60,442.75 L492.10,441.81 L492.60,441.01 L493.10,440.39 L493.60,439.97 L494.10,439.74 L494.60,439.68 L495.10,439.82 L495.60,440.13 L496.10,440.59 L496.60,441.15 L497.10,441.77 L497.60,442.40 L498.10,442.99 L498.60,443.51 L499.10,443.92 L499.60,444.19 L500.10,444.31 L500.60,444.26 L501.10,444.05 L501.60,443.69 L502.10,443.20 L502.60,442.60 L503.10,441.93 L503.60,441.20 L504.10,440.47 L504.60,439.78 L505.10,439.17 L505.60,438.71 L506.10,438.46 L506.60,438.47 L507.10,438.79 L507.60,439.40 L508.10,440.24 L508.60,441.25 L509.10,442.34 L509.60,443.47 L510.10,444.58 L510.60,445.65 L511.10,446.66 L511.60,447.60 L512.10,448.48 L512.60,449.30 L513.10,450.06 L513.60,450.77 L514.10,451.43 L514.60,452.05 L515.10,452.62 L515.60,453.16 L516.10,453.67 L516.60,454.14 L517.10,454.60 L517.60,455.03 L518.10,455.44 L518.60,455.83 L519.10,456.21 L519.60,456.57 L520.10,456.92 L520.60,457.25 L521.10,457.58 L521.60,457.88 L522.10,458.18 L522.60,458.46 L523.10,458.72 L523.60,458.98 L524.10,459.22 L524.60,459.45 L525.10,459.67 L525.60,459.89 L526.10,460.11 L526.60,460.33 L527.10,460.55 L527.60,460.77 L528.10,460.98 L528.60,461.19 L529.10,461.40 L529.60,461.58 L530.10,461.76 L530.60,461.92 L531.10,462.07 L531.60,462.21 L532.10,462.34 L532.60,462.46 L533.10,462.58 L533.60,462.70 L534.10,462.82 L534.60,462.94 L535.10,463.06 L535.60,463.19 L536.10,463.31 L536.60,463.43 L537.10,463.55 L537.60,463.67 L538.10,463.79 L538.60,463.90 L539.10,464.01 L539.60,464.13 L540.10,464.23 L540.60,464.34 L541.10,464.45 L541.60,464.55 L542.10,464.65 L542.60,464.75 L543.10,464.85 L543.60,464.95 L544.10,465.05 L544.60,465.15 L545.10,465.25 L545.60,465.34 L546.10,465.43 L546.60,465.51 L547.10,465.59 L547.60,465.67 L548.10,465.74 L548.60,465.81 L549.10,465.87 L549.60,465.93 L550.10,465.99 L550.60,466.05 L551.10,466.11 L551.60,466.17 L552.10,466.23 L552.60,466.29 L553.10,466.35 L553.60,466.41 L554.10,466.47 L554.60,466.53 L555.10,466.59 L555.60,466.64 L556.10,466.70 L556.60,466.75 L557.10,466.80 L557.60,466.86 L558.10,466.91 L558.60,466.96 L559.10,467.01 L559.60,467.05 L560.10,467.10 L560.60,467.15 L561.10,467.19 L561.60,467.24 L562.10,467.28 L562.60,467.32 L563.10,467.37 L563.60,467.41 L564.10,467.45 L564.60,467.49 L565.10,467.53 L565.60,467.57 L566.10,467.60 L566.60,467.64 L567.10,467.68 L567.60,467.71 L568.10,467.75 L568.60,467.78 L569.10,467.82 L569.60,467.85 L570.10,467.89 L570.60,467.92 L571.10,467.95 L571.60,467.98 L572.10,468.01 L572.60,468.04 L573.10,468.07 L573.60,468.10 L574.10,468.13 L574.60,468.16 L575.10,468.19 L575.60,468.22 L576.10,468.24 L576.60,468.27 L577.10,468.30 L577.60,468.32 L578.10,468.35 L578.60,468.38 L579.10,468.40 L579.60,468.43 L580.10,468.45 L580.60,468.47 L581.10,468.50 L581.60,468.52 L582.10,468.54 L582.60,468.57 L583.10,468.59 L583.60,468.61 L584.10,468.63 L584.60,468.65 L585.10,468.67 L585.60,468.69 L586.10,468.72 L586.60,468.74 L587.10,468.76 L587.60,468.77 L588.10,468.79 L588.60,468.81 L589.10,468.83 L589.60,468.85 L590.10,468.87 L590.60,468.89 L591.10,468.91 L591.60,468.92 L592.10,468.94 L592.60,468.96 L593.10,468.98 L593.60,468.99 L594.10,469.01 L594.60,469.03 L595.10,469.04 L595.60,469.06 L596.10,469.07 L596.60,469.09 L597.10,469.10 L597.60,469.12 L598.10,469.14 L598.60,469.15 L599.10,469.17 L599.60,469.18 L600.10,469.19 L600.60,469.21 L601.10,469.22 L601.60,469.24 L602.10,469.25 L602.60,469.26 L603.10,469.28 L603.60,469.29 L604.10,469.30 L604.60,469.32 L605.10,469.33 L605.60,469.34 L606.10,469.36 L606.60,469.37 L607.10,469.38 L607.60,469.39 L608.10,469.41 L608.60,469.42 L609.10,469.43 L609.60,469.44 L610.10,469.45 L610.60,469.47 L611.10,469.48 L611.60,469.49 L612.10,469.50 L612.60,469.51 L613.10,469.52 L613.60,469.53 L614.10,469.54 L614.60,469.55 L615.10,469.56 L615.60,469.58 L616.10,469.59 L616.60,469.60 L617.10,469.61 L617.60,469.62 L618.10,469.63 L618.60,469.64 L619.10,469.65 L619.60,469.66 L620.10,469.67 L620.60,469.68 L621.10,469.69 L621.60,469.70 L622.10,469.70 L622.60,469.71 L623.10,469.72 L623.60,469.73 L624.10,469.74 L624.60,469.75 L625.10,469.76 L625.60,469.77 L626.10,469.78 L626.60,469.79 L627.10,469.80 L627.60,469.80 L628.10,469.81 L628.60,469.82 L629.10,469.83 L629.60,469.84 L630.10,469.85 L630.60,469.85 L631.10,469.86 L631.60,469.87 L632.10,469.88 L632.60,469.89 L633.10,469.89 L633.60,469.90 L634.10,469.91 L634.60,469.92 L635.10,469.93 L635.60,469.93 L636.10,469.94 L636.60,469.95 L637.10,469.96 L637.60,469.96 L638.10,469.97 L638.60,469.98 L639.10,469.99 L639.60,469.99 L640.10,470.00 L640.60,470.01 L641.10,470.02 L641.60,470.02 L642.10,470.03 L642.60,470.04 L643.10,470.04 L643.60,470.05 L644.10,470.06 L644.60,470.06 L645.10,470.07 L645.60,470.08 L646.10,470.08 L646.60,470.09 L647.10,470.10 L647.60,470.10 L648.10,470.11 L648.60,470.12 L649.10,470.12 L649.60,470.13 L650.10,470.14 L650.60,470.14 L651.10,470.15 L651.60,470.16 L652.10,470.16 L652.60,470.17 L653.10,470.18 L653.60,470.18 L654.10,470.19 L654.60,470.19 L655.10,470.20 L655.60,470.21 L656.10,470.21 L656.60,470.22 L657.10,470.22 L657.60,470.23 L658.10,470.24 L658.60,470.24 L659.10,470.25 L659.60,470.25 L660.10,470.26 L660.60,470.27 L661.10,470.27 L661.60,470.28 L662.10,470.28 L662.60,470.29 L663.10,470.29 L663.60,470.30 L664.10,470.30 L664.60,470.31 L665.10,470.31 L665.60,470.31 L666.10,470.31 L666.60,470.31 L667.10,470.31 L667.60,470.31 L668.10,470.31 L668.60,470.31 L669.10,470.31 L669.60,470.31 L670.10,470.32" fill="none" stroke="#187373" stroke-width="2" stroke-linejoin="round"/>
<path d="M417.60,440.49 L418.10,440.48 L418.60,440.47 L419.10,440.45 L419.60,440.43 L420.10,440.41 L420.60,440.39 L421.10,440.37 L421.60,440.35 L422.10,440.33 L422.60,440.31 L423.10,440.30 L423.60,440.28 L424.10,440.26 L424.60,440.25 L425.10,440.23 L425.60,440.22 L426.10,440.20 L426.60,440.18 L427.10,440.17 L427.60,440.15 L428.10,440.13 L428.60,440.12 L429.10,440.10 L429.60,440.08 L430.10,440.06 L430.60,440.05 L431.10,440.03 L431.60,440.01 L432.10,439.99 L432.60,439.97 L433.10,439.95 L433.60,439.93 L434.10,439.91 L434.60,439.89 L435.10,439.87 L435.60,439.85 L436.10,439.83 L436.60,439.81 L437.10,439.78 L437.60,439.76 L438.10,439.74 L438.60,439.71 L439.10,439.69 L439.60,439.67 L440.10,439.64 L440.60,439.62 L441.10,439.59 L441.60,439.56 L442.10,439.54 L442.60,439.51 L443.10,439.48 L443.60,439.45 L444.10,439.41 L444.60,439.37 L445.10,439.33 L445.60,439.28 L446.10,439.23 L446.60,439.17 L447.10,439.11 L447.60,439.05 L448.10,438.98 L448.60,438.92 L449.10,438.86 L449.60,438.81 L450.10,438.77 L450.60,438.75 L451.10,438.73 L451.60,438.71 L452.10,438.71 L452.60,438.70 L453.10,438.69 L453.60,438.68 L454.10,438.67 L454.60,438.64 L455.10,438.62 L455.60,438.58 L456.10,438.55 L456.60,438.51 L457.10,438.46 L457.60,438.42 L458.10,438.37 L458.60,438.32 L459.10,438.27 L459.60,438.22 L460.10,438.16 L460.60,438.11 L461.10,438.05 L461.60,438.00 L462.10,437.94 L462.60,437.88 L463.10,437.81 L463.60,437.75 L464.10,437.68 L464.60,437.61 L465.10,437.54 L465.60,437.46 L466.10,437.37 L466.60,437.29 L467.10,437.19 L467.60,437.10 L468.10,437.00 L468.60,436.91 L469.10,436.81 L469.60,436.72 L470.10,436.63 L470.60,436.55 L471.10,436.48 L471.60,436.40 L472.10,436.33 L472.60,436.26 L473.10,436.18 L473.60,436.10 L474.10,436.02 L474.60,435.94 L475.10,435.86 L475.60,435.77 L476.10,435.68 L476.60,435.60 L477.10,435.51 L477.60,435.43 L478.10,435.33 L478.60,435.24 L479.10,435.13 L479.60,435.02 L480.10,434.89 L480.60,434.76 L481.10,434.61 L481.60,434.45 L482.10,434.29 L482.60,434.12 L483.10,433.95 L483.60,433.77 L484.10,433.59 L484.60,433.39 L485.10,433.19 L485.60,432.97 L486.10,432.74 L486.60,432.50 L487.10,432.25 L487.60,431.98 L488.10,431.71 L488.60,431.43 L489.10,431.15 L489.60,430.86 L490.10,430.55 L490.60,430.24 L491.10,429.92 L491.60,429.58 L492.10,429.22 L492.60,428.84 L493.10,428.43 L493.60,428.00 L494.10,427.54 L494.60,427.05 L495.10,426.53 L495.60,425.97 L496.10,425.36 L496.60,424.72 L497.10,424.03 L497.60,423.28 L498.10,422.47 L498.60,421.58 L499.10,420.62 L499.60,419.57 L500.10,418.42 L500.60,417.17 L501.10,415.85 L501.60,414.49 L502.10,413.16 L502.60,411.92 L503.10,410.87 L503.60,410.08 L504.10,409.60 L504.60,409.39 L505.10,409.50 L505.60,409.90 L506.10,410.53 L506.60,411.31 L507.10,412.16 L507.60,413.01 L508.10,413.82 L508.60,414.54 L509.10,415.14 L509.60,415.60 L510.10,415.90 L510.60,416.01 L511.10,415.92 L511.60,415.64 L512.10,415.16 L512.60,414.51 L513.10,413.70 L513.60,412.79 L514.10,411.82 L514.60,410.84 L515.10,409.92 L515.60,409.11 L516.10,408.47 L516.60,408.04 L517.10,407.84 L517.60,407.88 L518.10,408.12 L518.60,408.51 L519.10,409.05 L519.60,409.79 L520.10,410.71 L520.60,411.77 L521.10,412.95 L521.60,414.18 L522.10,415.42 L522.60,416.64 L523.10,417.81 L523.60,418.91 L524.10,419.94 L524.60,420.90 L525.10,421.78 L525.60,422.60 L526.10,423.36 L526.60,424.08 L527.10,424.76 L527.60,425.39 L528.10,426.00 L528.60,426.58 L529.10,427.12 L529.60,427.63 L530.10,428.12 L530.60,428.57 L531.10,428.99 L531.60,429.38 L532.10,429.75 L532.60,430.09 L533.10,430.41 L533.60,430.72 L534.10,431.01 L534.60,431.30 L535.10,431.58 L535.60,431.86 L536.10,432.13 L536.60,432.41 L537.10,432.69 L537.60,432.96 L538.10,433.22 L538.60,433.47 L539.10,433.71 L539.60,433.91 L540.10,434.10 L540.60,434.26 L541.10,434.40 L541.60,434.52 L542.10,434.63 L542.60,434.73 L543.10,434.84 L543.60,434.95 L544.10,435.06 L544.60,435.18 L545.10,435.30 L545.60,435.42 L546.10,435.54 L546.60,435.66 L547.10,435.77 L547.60,435.87 L548.10,435.97 L548.60,436.05 L549.10,436.13 L549.60,436.21 L550.10,436.29 L550.60,436.36 L551.10,436.44 L551.60,436.51 L552.10,436.59 L552.60,436.67 L553.10,436.74 L553.60,436.82 L554.10,436.90 L554.60,436.97 L555.10,437.05 L555.60,437.12 L556.10,437.19 L556.60,437.26 L557.10,437.33 L557.60,437.39 L558.10,437.46 L558.60,437.52 L559.10,437.58 L559.60,437.64 L560.10,437.70 L560.60,437.76 L561.10,437.81 L561.60,437.87 L562.10,437.92 L562.60,437.97 L563.10,438.02 L563.60,438.07 L564.10,438.12 L564.60,438.17 L565.10,438.22 L565.60,438.26 L566.10,438.31 L566.60,438.35 L567.10,438.39 L567.60,438.44 L568.10,438.48 L568.60,438.52 L569.10,438.56 L569.60,438.59 L570.10,438.63 L570.60,438.67 L571.10,438.71 L571.60,438.74 L572.10,438.78 L572.60,438.81 L573.10,438.84 L573.60,438.87 L574.10,438.91 L574.60,438.94 L575.10,438.97 L575.60,439.00 L576.10,439.03 L576.60,439.06 L577.10,439.08 L577.60,439.11 L578.10,439.14 L578.60,439.17 L579.10,439.19 L579.60,439.22 L580.10,439.24 L580.60,439.27 L581.10,439.29 L581.60,439.31 L582.10,439.34 L582.60,439.36 L583.10,439.38 L583.60,439.41 L584.10,439.43 L584.60,439.45 L585.10,439.47 L585.60,439.49 L586.10,439.51 L586.60,439.53 L587.10,439.55 L587.60,439.57 L588.10,439.59 L588.60,439.60 L589.10,439.62 L589.60,439.64 L590.10,439.66 L590.60,439.67 L591.10,439.69 L591.60,439.71 L592.10,439.72 L592.60,439.74 L593.10,439.75 L593.60,439.77 L594.10,439.78 L594.60,439.80 L595.10,439.81 L595.60,439.83 L596.10,439.84 L596.60,439.86 L597.10,439.87 L597.60,439.88 L598.10,439.90 L598.60,439.91 L599.10,439.92 L599.60,439.93 L600.10,439.95 L600.60,439.96 L601.10,439.97 L601.60,439.98 L602.10,439.99 L602.60,440.01 L603.10,440.02 L603.60,440.03 L604.10,440.04 L604.60,440.05 L605.10,440.06 L605.60,440.07 L606.10,440.08 L606.60,440.09 L607.10,440.10 L607.60,440.11 L608.10,440.12 L608.60,440.13 L609.10,440.14 L609.60,440.15 L610.10,440.15 L610.60,440.16 L611.10,440.17 L611.60,440.18 L612.10,440.19 L612.60,440.20 L613.10,440.21 L613.60,440.21 L614.10,440.22 L614.60,440.23 L615.10,440.24 L615.60,440.24 L616.10,440.25 L616.60,440.26 L617.10,440.27 L617.60,440.27 L618.10,440.28 L618.60,440.29 L619.10,440.29 L619.60,440.30 L620.10,440.31 L620.60,440.31 L621.10,440.32 L621.60,440.33 L622.10,440.33 L622.60,440.34 L623.10,440.34 L623.60,440.35 L624.10,440.36 L624.60,440.36 L625.10,440.37 L625.60,440.37 L626.10,440.38 L626.60,440.38 L627.10,440.39 L627.60,440.40 L628.10,440.40 L628.60,440.41 L629.10,440.41 L629.60,440.42 L630.10,440.42 L630.60,440.43 L631.10,440.43 L631.60,440.43 L632.10,440.44 L632.60,440.44 L633.10,440.45 L633.60,440.45 L634.10,440.46 L634.60,440.46 L635.10,440.47 L635.60,440.47 L636.10,440.47 L636.60,440.48 L637.10,440.48 L637.60,440.49 L638.10,440.49 L638.60,440.49 L639.10,440.50 L639.60,440.50 L640.10,440.50 L640.60,440.51 L641.10,440.51 L641.60,440.52 L642.10,440.52 L642.60,440.52 L643.10,440.53 L643.60,440.53 L644.10,440.53 L644.60,440.54 L645.10,440.54 L645.60,440.54 L646.10,440.55 L646.60,440.55 L647.10,440.55 L647.60,440.55 L648.10,440.56 L648.60,440.56 L649.10,440.56 L649.60,440.57 L650.10,440.57 L650.60,440.57 L651.10,440.57 L651.60,440.58 L652.10,440.58 L652.60,440.58 L653.10,440.58 L653.60,440.59 L654.10,440.59 L654.60,440.59 L655.10,440.59 L655.60,440.60 L656.10,440.60 L656.60,440.60 L657.10,440.60 L657.60,440.61 L658.10,440.61 L658.60,440.61 L659.10,440.61 L659.60,440.61 L660.10,440.62 L660.60,440.62 L661.10,440.62 L661.60,440.62 L662.10,440.62 L662.60,440.62 L663.10,440.63 L663.60,440.63 L664.10,440.63 L664.60,440.62 L665.10,440.62 L665.60,440.61 L666.10,440.61 L666.60,440.60 L667.10,440.58 L667.60,440.57 L668.10,440.56 L668.60,440.55 L669.10,440.54 L669.60,440.54 L670.10,440.54" fill="none" stroke="#c630c6" stroke-width="2" stroke-linejoin="round"/>
<path d="M417.60,412.36 L418.10,412.35 L418.60,412.34 L419.10,412.34 L419.60,412.34 L420.10,412.35 L420.60,412.35 L421.10,412.36 L421.60,412.36 L422.10,412.37 L422.60,412.36 L423.10,412.36 L423.60,412.35 L424.10,412.34 L424.60,412.33 L425.10,412.32 L425.60,412.31 L426.10,412.29 L426.60,412.28 L427.10,412.26 L427.60,412.25 L428.10,412.23 L428.60,412.22 L429.10,412.20 L429.60,412.19 L430.10,412.17 L430.60,412.16 L431.10,412.14 L431.60,412.12 L432.10,412.11 L432.60,412.09 L433.10,412.07 L433.60,412.05 L434.10,412.04 L434.60,412.02 L435.10,412.00 L435.60,411.98 L436.10,411.96 L436.60,411.95 L437.10,411.93 L437.60,411.91 L438.10,411.89 L438.60,411.87 L439.10,411.85 L439.60,411.83 L440.10,411.81 L440.60,411.79 L441.10,411.77 L441.60,411.75 L442.10,411.72 L442.60,411.70 L443.10,411.68 L443.60,411.66 L444.10,411.64 L444.60,411.62 L445.10,411.61 L445.60,411.59 L446.10,411.58 L446.60,411.56 L447.10,411.55 L447.60,411.54 L448.10,411.53 L448.60,411.52 L449.10,411.50 L449.60,411.48 L450.10,411.46 L450.60,411.43 L451.10,411.40 L451.60,411.36 L452.10,411.32 L452.60,411.27 L453.10,411.23 L453.60,411.19 L454.10,411.15 L454.60,411.11 L455.10,411.07 L455.60,411.04 L456.10,411.01 L456.60,410.97 L457.10,410.94 L457.60,410.91 L458.10,410.87 L458.60,410.84 L459.10,410.81 L459.60,410.77 L460.10,410.74 L460.60,410.70 L461.10,410.67 L461.60,410.63 L462.10,410.60 L462.60,410.56 L463.10,410.52 L463.60,410.48 L464.10,410.45 L464.60,410.41 L465.10,410.37 L465.60,410.33 L466.10,410.29 L466.60,410.24 L467.10,410.20 L467.60,410.16 L468.10,410.12 L468.60,410.07 L469.10,410.03 L469.60,409.98 L470.10,409.94 L470.60,409.89 L471.10,409.84 L471.60,409.80 L472.10,409.75 L472.60,409.70 L473.10,409.65 L473.60,409.61 L474.10,409.56 L474.60,409.52 L475.10,409.49 L475.60,409.45 L476.10,409.43 L476.60,409.40 L477.10,409.38 L477.60,409.37 L478.10,409.35 L478.60,409.32 L479.10,409.29 L479.60,409.25 L480.10,409.19 L480.60,409.11 L481.10,409.03 L481.60,408.93 L482.10,408.83 L482.60,408.72 L483.10,408.61 L483.60,408.50 L484.10,408.40 L484.60,408.30 L485.10,408.20 L485.60,408.11 L486.10,408.03 L486.60,407.94 L487.10,407.86 L487.60,407.77 L488.10,407.69 L488.60,407.60 L489.10,407.52 L489.60,407.44 L490.10,407.35 L490.60,407.27 L491.10,407.19 L491.60,407.10 L492.10,407.02 L492.60,406.94 L493.10,406.85 L493.60,406.76 L494.10,406.66 L494.60,406.55 L495.10,406.43 L495.60,406.30 L496.10,406.16 L496.60,406.00 L497.10,405.84 L497.60,405.68 L498.10,405.50 L498.60,405.33 L499.10,405.15 L499.60,404.97 L500.10,404.79 L500.60,404.61 L501.10,404.42 L501.60,404.22 L502.10,404.02 L502.60,403.81 L503.10,403.58 L503.60,403.35 L504.10,403.11 L504.60,402.86 L505.10,402.60 L505.60,402.33 L506.10,402.05 L506.60,401.75 L507.10,401.44 L507.60,401.10 L508.10,400.74 L508.60,400.35 L509.10,399.93 L509.60,399.49 L510.10,399.03 L510.60,398.53 L511.10,398.01 L511.60,397.46 L512.10,396.86 L512.60,396.22 L513.10,395.53 L513.60,394.77 L514.10,393.94 L514.60,393.05 L515.10,392.09 L515.60,391.07 L516.10,390.01 L516.60,388.93 L517.10,387.85 L517.60,386.79 L518.10,385.79 L518.60,384.87 L519.10,384.05 L519.60,383.38 L520.10,382.86 L520.60,382.51 L521.10,382.35 L521.60,382.37 L522.10,382.57 L522.60,382.93 L523.10,383.42 L523.60,384.02 L524.10,384.68 L524.60,385.38 L525.10,386.09 L525.60,386.77 L526.10,387.42 L526.60,388.01 L527.10,388.53 L527.60,388.97 L528.10,389.32 L528.60,389.58 L529.10,389.74 L529.60,389.77 L530.10,389.66 L530.60,389.40 L531.10,388.96 L531.60,388.34 L532.10,387.54 L532.60,386.57 L533.10,385.46 L533.60,384.24 L534.10,382.97 L534.60,381.70 L535.10,380.50 L535.60,379.45 L536.10,378.59 L536.60,377.98 L537.10,377.65 L537.60,377.60 L538.10,377.79 L538.60,378.13 L539.10,378.66 L539.60,379.41 L540.10,380.38 L540.60,381.54 L541.10,382.86 L541.60,384.27 L542.10,385.71 L542.60,387.15 L543.10,388.54 L543.60,389.87 L544.10,391.12 L544.60,392.30 L545.10,393.41 L545.60,394.44 L546.10,395.42 L546.60,396.34 L547.10,397.19 L547.60,397.99 L548.10,398.73 L548.60,399.41 L549.10,400.02 L549.60,400.58 L550.10,401.08 L550.60,401.54 L551.10,401.96 L551.60,402.37 L552.10,402.75 L552.60,403.12 L553.10,403.48 L553.60,403.82 L554.10,404.13 L554.60,404.41 L555.10,404.66 L555.60,404.87 L556.10,405.04 L556.60,405.18 L557.10,405.29 L557.60,405.39 L558.10,405.47 L558.60,405.56 L559.10,405.65 L559.60,405.74 L560.10,405.84 L560.60,405.95 L561.10,406.07 L561.60,406.19 L562.10,406.31 L562.60,406.43 L563.10,406.55 L563.60,406.66 L564.10,406.78 L564.60,406.89 L565.10,406.99 L565.60,407.09 L566.10,407.19 L566.60,407.28 L567.10,407.38 L567.60,407.46 L568.10,407.55 L568.60,407.64 L569.10,407.72 L569.60,407.80 L570.10,407.88 L570.60,407.96 L571.10,408.04 L571.60,408.11 L572.10,408.18 L572.60,408.25 L573.10,408.32 L573.60,408.39 L574.10,408.45 L574.60,408.50 L575.10,408.56 L575.60,408.60 L576.10,408.64 L576.60,408.67 L577.10,408.70 L577.60,408.72 L578.10,408.75 L578.60,408.77 L579.10,408.81 L579.60,408.85 L580.10,408.90 L580.60,408.96 L581.10,409.04 L581.60,409.12 L582.10,409.20 L582.60,409.29 L583.10,409.38 L583.60,409.46 L584.10,409.54 L584.60,409.61 L585.10,409.67 L585.60,409.73 L586.10,409.78 L586.60,409.84 L587.10,409.88 L587.60,409.93 L588.10,409.97 L588.60,410.02 L589.10,410.06 L589.60,410.10 L590.10,410.14 L590.60,410.18 L591.10,410.22 L591.60,410.26 L592.10,410.30 L592.60,410.34 L593.10,410.37 L593.60,410.41 L594.10,410.44 L594.60,410.47 L595.10,410.50 L595.60,410.53 L596.10,410.56 L596.60,410.58 L597.10,410.60 L597.60,410.62 L598.10,410.64 L598.60,410.66 L599.10,410.68 L599.60,410.71 L600.10,410.74 L600.60,410.77 L601.10,410.81 L601.60,410.85 L602.10,410.89 L602.60,410.93 L603.10,410.97 L603.60,411.01 L604.10,411.05 L604.60,411.08 L605.10,411.12 L605.60,411.15 L606.10,411.18 L606.60,411.21 L607.10,411.23 L607.60,411.26 L608.10,411.28 L608.60,411.31 L609.10,411.33 L609.60,411.36 L610.10,411.38 L610.60,411.40 L611.10,411.42 L611.60,411.45 L612.10,411.47 L612.60,411.49 L613.10,411.51 L613.60,411.53 L614.10,411.55 L614.60,411.58 L615.10,411.60 L615.60,411.62 L616.10,411.64 L616.60,411.66 L617.10,411.68 L617.60,411.69 L618.10,411.71 L618.60,411.73 L619.10,411.75 L619.60,411.77 L620.10,411.79 L620.60,411.81 L621.10,411.82 L621.60,411.84 L622.10,411.86 L622.60,411.87 L623.10,411.89 L623.60,411.91 L624.10,411.92 L624.60,411.94 L625.10,411.96 L625.60,411.97 L626.10,411.99 L626.60,412.00 L627.10,412.02 L627.60,412.03 L628.10,412.05 L628.60,412.06 L629.10,412.08 L629.60,412.09 L630.10,412.11 L630.60,412.12 L631.10,412.13 L631.60,412.15 L632.10,412.16 L632.60,412.17 L633.10,412.19 L633.60,412.20 L634.10,412.21 L634.60,412.23 L635.10,412.24 L635.60,412.25 L636.10,412.26 L636.60,412.27 L637.10,412.29 L637.60,412.30 L638.10,412.31 L638.60,412.32 L639.10,412.33 L639.60,412.34 L640.10,412.36 L640.60,412.37 L641.10,412.38 L641.60,412.39 L642.10,412.40 L642.60,412.41 L643.10,412.42 L643.60,412.43 L644.10,412.44 L644.60,412.45 L645.10,412.46 L645.60,412.47 L646.10,412.48 L646.60,412.49 L647.10,412.50 L647.60,412.51 L648.10,412.52 L648.60,412.53 L649.10,412.54 L649.60,412.55 L650.10,412.56 L650.60,412.56 L651.10,412.57 L651.60,412.58 L652.10,412.59 L652.60,412.60 L653.10,412.61 L653.60,412.62 L654.10,412.62 L654.60,412.63 L655.10,412.64 L655.60,412.65 L656.10,412.66 L656.60,412.66 L657.10,412.67 L657.60,412.68 L658.10,412.69 L658.60,412.69 L659.10,412.70 L659.60,412.71 L660.10,412.72 L660.60,412.72 L661.10,412.73 L661.60,412.74 L662.10,412.74 L662.60,412.75 L663.10,412.76 L663.60,412.77 L664.10,412.78 L664.60,412.79 L665.10,412.80 L665.60,412.82 L666.10,412.83 L666.60,412.85 L667.10,412.87 L667.60,412.89 L668.10,412.91 L668.60,412.93 L669.10,412.95 L669.60,412.96 L670.10,412.97" fill="none" stroke="#6c7818" stroke-width="2" stroke-linejoin="round"/>
<path d="M417.60,386.43 L418.10,386.42 L418.60,386.42 L419.10,386.41 L419.60,386.41 L420.10,386.41 L420.60,386.41 L421.10,386.41 L421.60,386.41 L422.10,386.41 L422.60,386.41 L423.10,386.40 L423.60,386.40 L424.10,386.39 L424.60,386.38 L425.10,386.37 L425.60,386.37 L426.10,386.36 L426.60,386.35 L427.10,386.34 L427.60,386.33 L428.10,386.32 L428.60,386.30 L429.10,386.29 L429.60,386.28 L430.10,386.27 L430.60,386.26 L431.10,386.25 L431.60,386.24 L432.10,386.23 L432.60,386.22 L433.10,386.20 L433.60,386.19 L434.10,386.18 L434.60,386.17 L435.10,386.16 L435.60,386.14 L436.10,386.13 L436.60,386.12 L437.10,386.11 L437.60,386.09 L438.10,386.08 L438.60,386.07 L439.10,386.05 L439.60,386.04 L440.10,386.02 L440.60,386.01 L441.10,386.00 L441.60,385.98 L442.10,385.97 L442.60,385.95 L443.10,385.94 L443.60,385.93 L444.10,385.92 L444.60,385.91 L445.10,385.91 L445.60,385.90 L446.10,385.91 L446.60,385.91 L447.10,385.92 L447.60,385.93 L448.10,385.94 L448.60,385.95 L449.10,385.95 L449.60,385.94 L450.10,385.93 L450.60,385.90 L451.10,385.87 L451.60,385.83 L452.10,385.78 L452.60,385.74 L453.10,385.69 L453.60,385.64 L454.10,385.60 L454.60,385.56 L455.10,385.53 L455.60,385.50 L456.10,385.47 L456.60,385.44 L457.10,385.42 L457.60,385.39 L458.10,385.37 L458.60,385.35 L459.10,385.32 L459.60,385.30 L460.10,385.27 L460.60,385.25 L461.10,385.22 L461.60,385.20 L462.10,385.17 L462.60,385.14 L463.10,385.11 L463.60,385.08 L464.10,385.05 L464.60,385.02 L465.10,384.98 L465.60,384.94 L466.10,384.90 L466.60,384.86 L467.10,384.81 L467.60,384.76 L468.10,384.71 L468.60,384.66 L469.10,384.62 L469.60,384.57 L470.10,384.54 L470.60,384.51 L471.10,384.48 L471.60,384.46 L472.10,384.44 L472.60,384.43 L473.10,384.41 L473.60,384.39 L474.10,384.36 L474.60,384.33 L475.10,384.30 L475.60,384.27 L476.10,384.23 L476.60,384.20 L477.10,384.15 L477.60,384.11 L478.10,384.07 L478.60,384.03 L479.10,383.98 L479.60,383.94 L480.10,383.89 L480.60,383.84 L481.10,383.79 L481.60,383.74 L482.10,383.69 L482.60,383.64 L483.10,383.59 L483.60,383.53 L484.10,383.47 L484.60,383.40 L485.10,383.33 L485.60,383.25 L486.10,383.16 L486.60,383.06 L487.10,382.96 L487.60,382.86 L488.10,382.75 L488.60,382.65 L489.10,382.55 L489.60,382.47 L490.10,382.40 L490.60,382.35 L491.10,382.30 L491.60,382.27 L492.10,382.25 L492.60,382.22 L493.10,382.20 L493.60,382.17 L494.10,382.14 L494.60,382.10 L495.10,382.05 L495.60,382.00 L496.10,381.95 L496.60,381.90 L497.10,381.84 L497.60,381.79 L498.10,381.73 L498.60,381.66 L499.10,381.59 L499.60,381.51 L500.10,381.42 L500.60,381.32 L501.10,381.21 L501.60,381.09 L502.10,380.96 L502.60,380.83 L503.10,380.70 L503.60,380.57 L504.10,380.44 L504.60,380.31 L505.10,380.19 L505.60,380.06 L506.10,379.95 L506.60,379.83 L507.10,379.71 L507.60,379.59 L508.10,379.47 L508.60,379.34 L509.10,379.21 L509.60,379.07 L510.10,378.92 L510.60,378.77 L511.10,378.61 L511.60,378.44 L512.10,378.26 L512.60,378.08 L513.10,377.89 L513.60,377.68 L514.10,377.46 L514.60,377.21 L515.10,376.93 L515.60,376.62 L516.10,376.28 L516.60,375.91 L517.10,375.51 L517.60,375.09 L518.10,374.65 L518.60,374.18 L519.10,373.69 L519.60,373.19 L520.10,372.65 L520.60,372.08 L521.10,371.48 L521.60,370.83 L522.10,370.15 L522.60,369.42 L523.10,368.66 L523.60,367.87 L524.10,367.06 L524.60,366.24 L525.10,365.41 L525.60,364.59 L526.10,363.76 L526.60,362.92 L527.10,362.06 L527.60,361.17 L528.10,360.25 L528.60,359.27 L529.10,358.24 L529.60,357.17 L530.10,356.05 L530.60,354.91 L531.10,353.77 L531.60,352.64 L532.10,351.58 L532.60,350.59 L533.10,349.70 L533.60,348.93 L534.10,348.29 L534.60,347.80 L535.10,347.43 L535.60,347.17 L536.10,347.00 L536.60,346.91 L537.10,346.92 L537.60,347.05 L538.10,347.29 L538.60,347.65 L539.10,348.12 L539.60,348.69 L540.10,349.35 L540.60,350.08 L541.10,350.86 L541.60,351.68 L542.10,352.52 L542.60,353.36 L543.10,354.17 L543.60,354.95 L544.10,355.68 L544.60,356.34 L545.10,356.93 L545.60,357.44 L546.10,357.86 L546.60,358.20 L547.10,358.45 L547.60,358.60 L548.10,358.67 L548.60,358.64 L549.10,358.52 L549.60,358.29 L550.10,357.96 L550.60,357.51 L551.10,356.92 L551.60,356.18 L552.10,355.27 L552.60,354.19 L553.10,352.93 L553.60,351.52 L554.10,349.98 L554.60,348.34 L555.10,346.67 L555.60,345.00 L556.10,343.40 L556.60,341.92 L557.10,340.59 L557.60,339.46 L558.10,338.55 L558.60,337.90 L559.10,337.51 L559.60,337.40 L560.10,337.56 L560.60,337.96 L561.10,338.61 L561.60,339.50 L562.10,340.62 L562.60,341.93 L563.10,343.41 L563.60,345.00 L564.10,346.68 L564.60,348.40 L565.10,350.14 L565.60,351.88 L566.10,353.59 L566.60,355.25 L567.10,356.85 L567.60,358.39 L568.10,359.84 L568.60,361.21 L569.10,362.49 L569.60,363.69 L570.10,364.81 L570.60,365.87 L571.10,366.87 L571.60,367.83 L572.10,368.76 L572.60,369.67 L573.10,370.55 L573.60,371.40 L574.10,372.23 L574.60,373.01 L575.10,373.75 L575.60,374.45 L576.10,375.09 L576.60,375.67 L577.10,376.21 L577.60,376.70 L578.10,377.15 L578.60,377.56 L579.10,377.94 L579.60,378.30 L580.10,378.64 L580.60,378.96 L581.10,379.28 L581.60,379.59 L582.10,379.89 L582.60,380.18 L583.10,380.47 L583.60,380.73 L584.10,380.98 L584.60,381.20 L585.10,381.39 L585.60,381.56 L586.10,381.70 L586.60,381.82 L587.10,381.92 L587.60,382.01 L588.10,382.10 L588.60,382.18 L589.10,382.27 L589.60,382.35 L590.10,382.45 L590.60,382.54 L591.10,382.64 L591.60,382.73 L592.10,382.83 L592.60,382.92 L593.10,383.02 L593.60,383.11 L594.10,383.20 L594.60,383.28 L595.10,383.37 L595.60,383.46 L596.10,383.55 L596.60,383.63 L597.10,383.72 L597.60,383.81 L598.10,383.89 L598.60,383.97 L599.10,384.04 L599.60,384.11 L600.10,384.17 L600.60,384.22 L601.10,384.26 L601.60,384.30 L602.10,384.33 L602.60,384.36 L603.10,384.39 L603.60,384.42 L604.10,384.45 L604.60,384.48 L605.10,384.51 L605.60,384.55 L606.10,384.58 L606.60,384.62 L607.10,384.65 L607.60,384.69 L608.10,384.72 L608.60,384.76 L609.10,384.79 L609.60,384.82 L610.10,384.85 L610.60,384.88 L611.10,384.91 L611.60,384.94 L612.10,384.97 L612.60,385.00 L613.10,385.03 L613.60,385.05 L614.10,385.08 L614.60,385.10 L615.10,385.13 L615.60,385.15 L616.10,385.18 L616.60,385.20 L617.10,385.22 L617.60,385.24 L618.10,385.26 L618.60,385.28 L619.10,385.30 L619.60,385.32 L620.10,385.34 L620.60,385.36 L621.10,385.38 L621.60,385.40 L622.10,385.42 L622.60,385.43 L623.10,385.45 L623.60,385.47 L624.10,385.48 L624.60,385.50 L625.10,385.52 L625.60,385.53 L626.10,385.55 L626.60,385.56 L627.10,385.58 L627.60,385.59 L628.10,385.60 L628.60,385.62 L629.10,385.63 L629.60,385.64 L630.10,385.66 L630.60,385.67 L631.10,385.68 L631.60,385.69 L632.10,385.71 L632.60,385.72 L633.10,385.73 L633.60,385.74 L634.10,385.75 L634.60,385.76 L635.10,385.77 L635.60,385.78 L636.10,385.79 L636.60,385.80 L637.10,385.81 L637.60,385.82 L638.10,385.83 L638.60,385.84 L639.10,385.85 L639.60,385.86 L640.10,385.87 L640.60,385.88 L641.10,385.88 L641.60,385.89 L642.10,385.90 L642.60,385.91 L643.10,385.92 L643.60,385.92 L644.10,385.93 L644.60,385.94 L645.10,385.95 L645.60,385.95 L646.10,385.96 L646.60,385.97 L647.10,385.97 L647.60,385.98 L648.10,385.99 L648.60,385.99 L649.10,386.00 L649.60,386.01 L650.10,386.01 L650.60,386.02 L651.10,386.03 L651.60,386.03 L652.10,386.04 L652.60,386.04 L653.10,386.05 L653.60,386.05 L654.10,386.06 L654.60,386.07 L655.10,386.07 L655.60,386.08 L656.10,386.08 L656.60,386.09 L657.10,386.09 L657.60,386.10 L658.10,386.10 L658.60,386.10 L659.10,386.11 L659.60,386.11 L660.10,386.12 L660.60,386.12 L661.10,386.13 L661.60,386.13 L662.10,386.13 L662.60,386.14 L663.10,386.14 L663.60,386.14 L664.10,386.14 L664.60,386.14 L665.10,386.14 L665.60,386.13 L666.10,386.12 L666.60,386.11 L667.10,386.10 L667.60,386.08 L668.10,386.07 L668.60,386.06 L669.10,386.05 L669.60,386.04 L670.10,386.05" fill="none" stroke="#ef7d26" stroke-width="2" stroke-linejoin="round"/>
<text class="pl" transform="translate(4.01,15.00) scale(0.9920,1.0571)" font-size="17">(a)</text>
<text class="pl" transform="translate(355.09,15.89) scale(1.0133,1.0603)" font-size="17">(b)</text>
<text class="pl" transform="translate(3.75,330.11) scale(0.9521,0.9968)" font-size="17">(c)</text>
<text class="pl" transform="translate(353.04,329.98) scale(1.0560,1.0349)" font-size="17">(d)</text>
<text transform="translate(176.45,295.43) scale(1.1068,1.0566)" font-size="14"><tspan font-style="italic">B</tspan>(T)</text>
<text transform="translate(527.82,291.63) scale(1.1512,1.0566)" font-size="14"><tspan font-style="italic">f</tspan>(T)</text>
<text transform="translate(174.47,601.44) scale(1.0634,0.9208)" font-size="14"><tspan font-style="italic">f</tspan>(T)</text>
<text transform="translate(526.92,601.32) scale(1.1561,1.0264)" font-size="14"><tspan font-style="italic">f</tspan>(T)</text>
<text transform="translate(18.20,163.52) rotate(-90) scale(1.0323,1.1709)" font-size="14"><tspan font-style="italic">R</tspan><tspan font-size="10" dy="3.5" letter-spacing="0">xx</tspan><tspan dy="-3.5"> (k&#937;)</tspan></text>
<text transform="translate(383.95,200.09) rotate(-90) scale(1.0349,1.0491)" font-size="14">FFT amplitude (a.u)</text>
<text transform="translate(28.33,511.07) rotate(-90) scale(1.0141,0.9887)" font-size="14">FFT amplitude (a.u)</text>
<text transform="translate(382.68,512.00) rotate(-90) scale(1.0423,1.0415)" font-size="14">FFT amplitude (a.u)</text>
<text transform="translate(425.89,36.20) scale(0.9689,1.0261)" font-size="14"><tspan font-style="italic">V</tspan><tspan font-size="10" dy="5.5" letter-spacing="0">tg</tspan><tspan dy="-5.5"> =<tspan dx="-1">&#160;-1.5</tspan><tspan dx="-1.2"> V</tspan></tspan></text>
<text transform="translate(70.93,348.73) scale(0.9327,1.0087)" font-size="14"><tspan font-style="italic">V</tspan><tspan font-size="8.5" dy="5.8" letter-spacing="0">tg</tspan><tspan dy="-5.8"> =<tspan dx="-1">&#160;0</tspan><tspan dx="-1.2"> V</tspan></tspan></text>
<text transform="translate(425.89,348.48) scale(0.9641,1.0545)" font-size="14"><tspan font-style="italic">V</tspan><tspan font-size="10" dy="4.8" letter-spacing="0">tg</tspan><tspan dy="-4.8"> =<tspan dx="-1">&#160;1.5</tspan><tspan dx="-1.2"> V</tspan></tspan></text>
<text transform="translate(599.41,59.58) scale(0.9502,1.0235)" font-size="14"><tspan font-style="italic">V</tspan><tspan font-size="9" dy="5.2" letter-spacing="1.0">bg</tspan><tspan dy="-5.2"> =<tspan dx="-1">&#160;-35</tspan><tspan dx="-1.2"> V</tspan></tspan></text>
<text transform="translate(245.84,373.73) scale(0.9262,0.9672)" font-size="14"><tspan font-style="italic">V</tspan><tspan font-size="9.5" dy="5.0" letter-spacing="0">bg</tspan><tspan dy="-5.0"> =<tspan dx="-1">&#160;-35</tspan><tspan dx="-1.2"> V</tspan></tspan></text>
<text transform="translate(598.09,373.42) scale(0.9651,1.0588)" font-size="14"><tspan font-style="italic">V</tspan><tspan font-size="9" dy="5.2" letter-spacing="1.0">bg</tspan><tspan dy="-5.2"> =<tspan dx="-1">&#160;-35</tspan><tspan dx="-1.2"> V</tspan></tspan></text>
<text class="lg" transform="translate(93.74,35.75) scale(0.9589,1.0000)" font-size="10.3"><tspan font-style="italic">V</tspan><tspan font-size="8.2" dy="4.0" letter-spacing="-0.2">bg</tspan><tspan dy="-4.0">= -25 V,<tspan dx="2"> </tspan></tspan><tspan font-style="italic">V</tspan><tspan font-size="8.2" dy="4.0" letter-spacing="-0.2">tg</tspan><tspan dy="-4.0">= 0 V</tspan></text>
<text class="lg" transform="translate(93.73,53.62) scale(0.9654,1.0231)" font-size="10.3"><tspan font-style="italic">V</tspan><tspan font-size="8.2" dy="4.0" letter-spacing="-0.2">bg</tspan><tspan dy="-4.0">= -35 V,<tspan dx="2"> </tspan></tspan><tspan font-style="italic">V</tspan><tspan font-size="8.2" dy="4.0" letter-spacing="-0.2">tg</tspan><tspan dy="-4.0">= 0 V</tspan></text>
<text class="lg" transform="translate(93.73,71.62) scale(0.9713,1.0231)" font-size="10.3"><tspan font-style="italic">V</tspan><tspan font-size="8.2" dy="4.0" letter-spacing="-0.2">bg</tspan><tspan dy="-4.0">= -35 V,<tspan dx="2"> </tspan></tspan><tspan font-style="italic">V</tspan><tspan font-size="8.2" dy="4.0" letter-spacing="-0.2">tg</tspan><tspan dy="-4.0">= 1.5 V</tspan></text>
<text transform="translate(631.38,95.45) scale(0.9600,1.0047)" font-size="15">-25<tspan dx="-1.3"> V</tspan></text>
<text transform="translate(630.87,124.55) scale(0.9719,1.0190)" font-size="15">-15<tspan dx="-1.3"> V</tspan></text>
<text transform="translate(643.60,153.46) scale(1.0000,0.9488)" font-size="15">0<tspan dx="-1.3"> V</tspan></text>
<text transform="translate(636.65,182.45) scale(0.9474,1.0190)" font-size="15">15<tspan dx="-1.3"> V</tspan></text>
<text transform="translate(635.25,210.05) scale(0.9948,0.9953)" font-size="15">25<tspan dx="-1.3"> V</tspan></text>
<text transform="translate(636.42,239.35) scale(0.9655,0.9860)" font-size="15">35<tspan dx="-1.3"> V</tspan></text>
<text transform="translate(278.85,409.45) scale(0.8622,0.9953)" font-size="15">-25<tspan dx="-1.3"> V</tspan></text>
<text transform="translate(278.85,439.16) scale(0.8622,0.9429)" font-size="15">-15<tspan dx="-1.3"> V</tspan></text>
<text transform="translate(288.62,467.06) scale(0.9512,0.9674)" font-size="15">0<tspan dx="-1.3"> V</tspan></text>
<text transform="translate(283.85,494.86) scale(0.8456,0.9714)" font-size="15">15<tspan dx="-1.3"> V</tspan></text>
<text transform="translate(283.05,523.86) scale(0.8730,0.9581)" font-size="15">25<tspan dx="-1.3"> V</tspan></text>
<text transform="translate(283.27,553.06) scale(0.8655,0.9674)" font-size="15">35<tspan dx="-1.3"> V</tspan></text>
<text transform="translate(631.59,408.15) scale(0.9452,1.0140)" font-size="15">-25<tspan dx="-1.3"> V</tspan></text>
<text transform="translate(631.59,435.95) scale(0.9452,1.0095)" font-size="15">-15<tspan dx="-1.3"> V</tspan></text>
<text transform="translate(643.60,466.64) scale(0.9902,1.0233)" font-size="15">0<tspan dx="-1.3"> V</tspan></text>
<text transform="translate(637.07,494.84) scale(0.9263,1.0476)" font-size="15">15<tspan dx="-1.3"> V</tspan></text>
<text transform="translate(635.26,522.84) scale(0.9878,1.0233)" font-size="15">25<tspan dx="-1.3"> V</tspan></text>
<text transform="translate(635.82,551.54) scale(0.9690,1.0326)" font-size="15">35<tspan dx="-1.3"> V</tspan></text>
</svg></body></html>
